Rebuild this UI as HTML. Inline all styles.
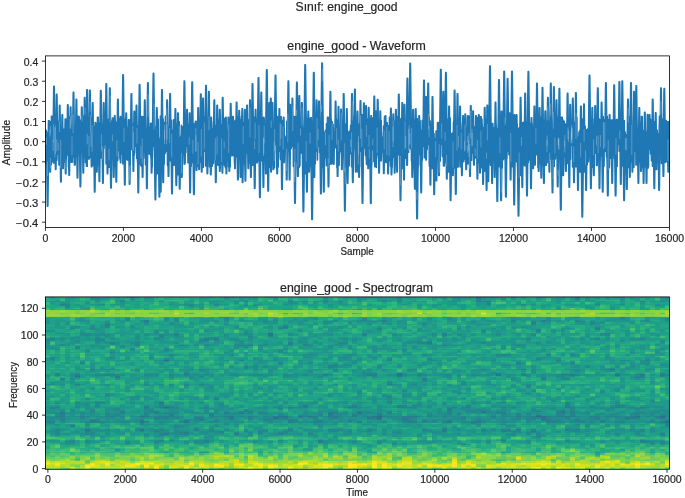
<!DOCTYPE html>
<html><head><meta charset="utf-8"><title>engine_good</title>
<style>html,body{margin:0;padding:0;background:#fff;overflow:hidden} svg{will-change:transform} text{-webkit-font-smoothing:antialiased}</style>
</head><body>
<svg width="685" height="498" viewBox="0 0 685 498" style="display:block"><rect width="685" height="498" fill="#fff"/><g transform="translate(45.4 297.5682) scale(4.95317 1.33643)" stroke-width="1.02" fill="none" shape-rendering="crispEdges"><path stroke="#31688e" d="M67 89h1M99 89h1M124 89h1"/><path stroke="#2e6e8e" d="M125 93h1M46 90h1M67 90h1M51 89h1M119 89h1M57 87h1M24 82h1M71 58h1M24 47h1M87 0h1"/><path stroke="#2b748e" d="M98 100h1M8 99h1M19 99h1M19 93h1M28 93h1M81 93h1M9 92h1M19 92h1M31 91h1M100 90h1M19 89h1M47 89h2M53 89h1M66 89h1M100 89h1M3 87h1M63 87h1M63 86h1M88 86h1M88 85h1M104 85h1M20 82h1M6 59h1M91 58h1M115 58h1M114 54h1M45 28h1M45 27h1M20 18h1M17 0h1M94 0h1M107 0h1"/><path stroke="#297b8e" d="M55 108h1M55 107h1M92 107h1M120 107h1M24 102h1M38 102h1M8 100h1M92 100h1M80 99h1M9 93h1M49 93h1M63 93h1M73 93h1M86 93h2M112 93h1M124 93h1M28 92h1M61 92h1M76 92h1M78 92h1M81 92h1M87 92h1M101 92h1M107 92h1M125 92h1M72 91h1M100 91h1M37 90h1M48 90h1M65 90h1M72 90h1M117 90h1M124 90h1M3 89h1M7 89h1M20 89h1M25 89h1M37 89h1M46 89h1M57 89h2M62 89h1M73 89h2M90 89h1M95 89h1M101 89h1M104 89h1M106 89h1M110 89h1M118 89h1M57 88h1M62 88h1M67 88h1M99 88h1M25 87h1M33 87h1M36 87h1M81 87h1M83 87h1M92 87h1M22 86h1M104 86h1M15 85h1M40 85h1M99 85h1M81 84h1M25 82h1M52 82h1M61 82h1M85 82h1M92 82h1M120 82h1M52 81h1M105 81h1M23 79h1M69 65h1M14 60h1M119 60h1M14 59h1M71 59h1M120 59h1M6 58h1M65 58h2M106 58h1M120 58h1M124 58h1M28 57h1M71 57h1M9 54h1M17 39h1M24 39h1M77 34h1M32 32h1M32 31h1M34 31h1M111 23h1M48 22h1M12 21h1M12 20h1M3 5h1M15 3h1M87 3h1M87 1h1M71 0h1"/><path stroke="#26818e" d="M32 108h1M120 108h1M23 107h1M25 107h1M32 107h1M99 104h1M23 102h1M28 102h1M47 102h1M124 102h1M27 101h2M35 101h1M43 101h1M48 101h1M22 100h1M35 100h1M40 100h1M43 100h1M48 100h1M58 100h1M80 100h1M94 100h1M30 99h1M49 99h1M65 99h1M76 99h1M88 99h1M92 99h2M95 99h1M98 99h1M105 99h1M107 99h1M30 98h1M5 96h1M19 95h1M125 95h1M125 94h1M0 93h2M10 93h1M54 93h2M74 93h1M76 93h1M80 93h1M101 93h2M108 93h1M115 93h2M122 93h1M3 92h1M10 92h1M31 92h1M34 92h1M49 92h2M55 92h1M72 92h2M100 92h1M103 92h1M112 92h1M3 91h1M37 91h1M44 91h2M67 91h1M73 91h1M87 91h1M97 91h1M101 91h1M107 91h1M111 91h1M117 91h1M22 90h1M24 90h1M30 90h2M41 90h1M47 90h1M54 90h1M58 90h1M66 90h1M73 90h1M84 90h1M98 90h1M101 90h1M105 90h1M111 90h1M118 90h2M2 89h1M12 89h2M23 89h2M33 89h1M36 89h1M41 89h1M54 89h1M65 89h1M68 89h2M72 89h1M77 89h1M80 89h1M98 89h1M103 89h1M105 89h1M113 89h3M123 89h1M3 88h1M25 88h1M33 88h1M95 88h1M124 88h1M2 87h1M12 87h1M14 87h1M20 87h1M22 87h1M24 87h1M39 87h1M43 87h2M58 87h1M67 87h1M69 87h1M91 87h1M95 87h1M97 87h1M103 87h2M106 87h1M109 87h1M118 87h2M3 86h1M15 86h1M36 86h1M39 86h1M58 86h1M69 86h1M91 86h2M106 86h1M9 85h1M21 85h2M41 85h1M63 85h1M81 85h1M85 85h2M91 85h1M103 85h1M106 85h1M123 85h1M14 84h1M1 83h1M20 83h1M24 83h1M47 83h1M81 83h1M106 83h1M1 82h2M23 82h1M26 82h1M49 82h1M62 82h1M71 82h2M82 82h1M84 82h1M94 82h1M105 82h2M110 82h1M114 82h2M118 82h1M10 81h1M62 81h1M71 81h1M85 81h1M115 81h2M23 80h1M105 80h1M34 76h1M69 74h1M97 72h1M97 66h1M6 65h1M20 65h1M31 65h1M76 62h1M3 61h1M76 61h1M100 61h1M6 60h1M2 58h1M12 58h1M28 58h1M56 58h1M75 58h1M96 58h1M104 58h1M65 57h1M90 57h2M31 54h1M88 54h1M96 54h1M113 54h1M40 52h1M57 52h1M58 51h1M95 50h1M95 49h1M39 47h1M69 47h1M103 47h1M121 47h1M13 45h1M21 45h1M66 45h1M92 43h1M106 43h1M13 41h1M18 36h1M27 36h1M39 36h1M41 36h1M80 36h1M95 36h1M49 35h1M52 35h1M13 34h1M49 34h1M0 32h1M11 32h1M1 31h1M10 31h1M111 31h1M23 29h1M26 28h1M64 28h1M80 28h1M40 27h1M64 27h1M80 27h1M113 27h1M99 25h1M111 24h1M67 23h1M76 20h1M98 19h1M68 18h1M94 18h1M100 18h1M107 18h1M20 17h1M64 17h1M68 17h1M94 17h1M100 17h1M116 15h1M4 6h1M29 6h1M40 3h1M56 3h1M89 3h1M107 1h1M36 0h1M88 0h1M90 0h1M99 0h2M113 0h1M115 0h2"/><path stroke="#24878e" d="M84 110h1M16 109h1M70 109h1M124 109h1M5 108h1M8 108h1M16 108h1M22 108h1M30 108h1M62 108h1M67 108h1M121 108h2M124 108h1M5 107h1M47 107h1M105 107h1M23 103h1M75 103h1M124 103h1M2 102h1M8 102h2M27 102h1M43 102h1M53 102h1M94 102h1M97 102h1M99 102h1M115 102h1M2 101h1M8 101h2M24 101h1M26 101h1M47 101h1M70 101h2M78 101h1M97 101h3M119 101h1M2 100h1M19 100h1M26 100h1M33 100h2M44 100h1M57 100h1M61 100h1M65 100h1M88 100h1M93 100h1M95 100h1M106 100h2M119 100h2M122 100h1M2 99h1M12 99h1M18 99h1M22 99h2M33 99h1M57 99h3M90 99h1M106 99h1M118 99h1M120 99h1M80 98h1M26 97h2M26 96h1M125 96h1M36 95h1M87 95h1M92 95h1M107 95h1M19 94h1M86 94h1M8 93h1M11 93h1M15 93h2M20 93h1M23 93h1M27 93h1M33 93h2M45 93h1M50 93h1M61 93h1M68 93h1M72 93h1M78 93h1M84 93h2M88 93h1M92 93h1M97 93h1M103 93h2M106 93h2M110 93h1M18 92h1M44 92h2M74 92h1M97 92h1M102 92h1M106 92h1M122 92h1M10 91h1M22 91h1M30 91h1M41 91h1M46 91h1M48 91h3M54 91h1M84 91h1M92 91h1M94 91h2M98 91h1M103 91h1M1 90h1M3 90h1M7 90h1M23 90h1M26 90h1M57 90h1M74 90h1M90 90h1M95 90h1M97 90h1M99 90h1M110 90h1M115 90h1M123 90h1M8 89h1M15 89h1M22 89h1M26 89h1M30 89h1M34 89h1M39 89h1M42 89h1M44 89h1M52 89h1M59 89h1M64 89h1M70 89h2M75 89h1M78 89h1M82 89h1M84 89h1M92 89h2M96 89h2M102 89h1M107 89h1M111 89h1M116 89h1M121 89h1M125 89h1M12 88h1M14 88h1M20 88h1M47 88h1M51 88h1M55 88h1M77 88h1M92 88h1M103 88h2M106 88h1M114 88h1M119 88h1M7 87h1M15 87h1M30 87h1M32 87h1M37 87h2M41 87h1M47 87h1M52 87h1M55 87h1M59 87h2M62 87h1M64 87h2M77 87h1M80 87h1M108 87h1M112 87h1M115 87h1M120 87h1M122 87h1M20 86h1M26 86h1M41 86h1M43 86h1M57 86h1M60 86h1M65 86h1M81 86h1M86 86h1M103 86h1M109 86h1M120 86h1M3 85h1M5 85h1M28 85h2M34 85h1M39 85h1M55 85h1M58 85h1M69 85h1M79 85h1M87 85h1M89 85h2M92 85h1M98 85h1M125 85h1M9 84h1M21 84h1M40 84h1M47 84h1M85 84h1M87 84h2M98 84h1M104 84h1M113 84h1M14 83h1M25 83h2M32 83h1M44 83h1M49 83h1M84 83h1M92 83h1M102 83h1M112 83h1M114 83h1M118 83h3M6 82h1M32 82h1M44 82h1M46 82h2M50 82h2M63 82h1M73 82h2M81 82h1M112 82h1M116 82h1M121 82h1M20 81h1M23 81h1M72 81h1M74 81h2M35 80h1M75 80h1M6 79h1M10 79h2M69 79h1M105 79h1M69 78h1M102 77h1M17 75h1M34 75h1M69 75h1M18 74h1M68 74h1M72 74h1M107 74h1M12 73h1M53 72h1M76 72h1M83 72h1M72 70h1M115 69h1M43 68h1M97 67h1M25 66h1M28 66h1M31 66h1M81 66h1M1 65h1M28 65h1M74 65h1M84 65h1M69 64h1M84 64h1M94 61h1M104 61h2M25 60h1M29 60h1M100 60h1M104 60h1M120 60h1M31 59h1M55 59h1M66 59h1M103 59h2M119 59h1M124 59h1M10 58h2M13 58h2M20 58h1M22 58h1M25 58h1M38 58h1M42 58h2M48 58h1M52 58h1M64 58h1M72 58h1M76 58h1M81 58h1M83 58h1M86 58h1M97 58h1M105 58h1M107 58h1M125 58h1M2 57h1M64 57h1M66 57h1M115 57h1M124 57h1M58 55h1M107 55h1M11 54h1M13 54h1M18 54h1M29 54h1M32 54h1M42 54h1M58 54h1M65 54h1M68 54h1M73 54h2M98 54h1M107 54h1M122 54h1M40 53h1M42 52h1M44 52h1M58 52h1M67 52h1M109 52h1M57 51h1M58 50h1M121 50h1M7 49h1M47 49h1M106 49h1M46 47h1M77 47h2M90 47h1M116 47h1M1 46h1M24 46h1M69 46h1M77 46h1M99 46h1M1 45h1M53 45h1M60 45h1M113 45h1M25 43h1M37 43h1M61 43h1M76 43h1M91 43h1M93 43h1M101 43h1M47 41h1M118 41h1M47 40h1M2 39h1M43 39h1M70 39h1M72 39h1M124 39h1M6 38h1M6 37h1M3 36h1M32 36h1M38 36h1M40 36h1M43 36h1M52 36h2M72 36h1M96 36h1M18 35h1M44 35h1M77 35h1M18 34h1M59 34h2M75 34h2M88 34h1M0 33h1M6 33h1M10 33h1M31 33h1M39 33h1M74 33h2M77 33h1M101 33h1M124 33h1M31 32h1M34 32h1M38 32h1M11 31h1M22 31h1M33 31h1M60 31h1M97 31h1M120 31h1M6 30h1M23 30h1M41 30h1M41 29h1M45 29h1M8 28h1M23 28h1M83 28h1M98 28h1M113 28h1M7 27h1M11 27h1M22 27h1M26 27h1M49 27h1M78 27h1M112 27h1M88 25h1M67 24h1M99 24h1M5 23h1M9 23h1M47 23h2M83 23h1M12 22h1M25 20h1M98 20h1M110 20h1M110 19h1M0 18h1M44 18h1M57 18h1M63 18h1M66 18h1M86 18h1M98 18h1M121 18h1M16 17h1M26 17h1M36 17h1M46 17h1M52 17h1M58 17h1M101 17h1M107 17h1M16 16h1M36 16h1M64 16h1M81 16h1M116 16h1M125 16h1M36 15h1M53 15h1M107 15h1M3 6h1M40 6h1M4 5h1M34 5h1M89 5h1M96 5h1M111 5h1M89 4h1M49 3h1M59 3h1M68 3h1M71 3h1M88 3h1M120 3h1M124 3h1M68 2h1M87 2h1M9 1h2M17 1h1M71 1h1M92 1h1M1 0h1M12 0h1M37 0h1M42 0h1M46 0h1M65 0h1M91 0h1M104 0h1"/><path stroke="#228d8d" d="M70 110h1M124 110h1M4 109h1M56 109h1M72 109h1M84 109h1M122 109h1M4 108h1M23 108h1M28 108h1M31 108h1M42 108h1M45 108h1M56 108h1M77 108h2M89 108h1M97 108h1M105 108h1M112 108h1M8 107h1M11 107h1M22 107h1M30 107h2M33 107h1M57 107h1M68 107h1M76 107h1M97 107h1M121 107h1M92 106h1M11 104h1M22 104h1M33 104h1M54 104h1M58 104h1M75 104h1M20 103h1M41 103h1M93 103h2M99 103h2M115 103h1M120 103h1M4 102h1M7 102h1M12 102h1M20 102h1M25 102h2M32 102h1M41 102h1M46 102h1M48 102h1M51 102h1M60 102h2M68 102h1M71 102h1M83 102h1M93 102h1M119 102h1M6 101h1M15 101h1M22 101h2M31 101h2M34 101h1M38 101h1M41 101h1M53 101h1M61 101h1M68 101h1M79 101h1M86 101h1M94 101h2M108 101h1M113 101h1M1 100h1M6 100h1M9 100h3M14 100h1M23 100h2M27 100h2M31 100h2M49 100h1M54 100h1M60 100h1M64 100h1M68 100h1M70 100h2M76 100h4M86 100h1M89 100h1M99 100h1M103 100h1M108 100h2M113 100h1M118 100h1M9 99h2M21 99h1M26 99h1M36 99h1M40 99h1M43 99h2M52 99h1M61 99h1M66 99h1M68 99h1M77 99h1M83 99h1M109 99h1M115 99h2M122 99h1M18 98h2M49 98h1M83 98h1M105 98h1M33 97h1M42 97h1M82 97h1M27 96h1M34 96h1M55 96h1M93 96h1M109 96h1M2 95h1M8 95h1M28 95h1M38 95h1M54 95h2M58 95h1M64 95h1M75 95h1M109 95h1M113 95h1M1 94h1M36 94h1M54 94h1M3 93h1M12 93h1M14 93h1M18 93h1M24 93h1M30 93h1M38 93h2M51 93h3M56 93h1M58 93h1M65 93h1M67 93h1M77 93h1M91 93h1M93 93h2M109 93h1M113 93h1M118 93h1M121 93h1M123 93h1M0 92h2M14 92h1M29 92h2M54 92h1M59 92h1M62 92h1M71 92h1M80 92h1M83 92h1M88 92h1M91 92h2M94 92h1M108 92h1M110 92h1M113 92h1M116 92h1M0 91h2M9 91h1M12 91h1M14 91h1M18 91h2M23 91h2M28 91h2M34 91h1M47 91h1M55 91h1M57 91h1M59 91h1M61 91h2M65 91h2M71 91h1M74 91h1M76 91h1M79 91h1M81 91h3M86 91h1M89 91h1M91 91h1M102 91h1M105 91h1M109 91h2M113 91h1M116 91h1M125 91h1M0 90h1M2 90h1M12 90h2M15 90h1M19 90h1M25 90h1M33 90h1M36 90h1M44 90h2M51 90h1M53 90h1M59 90h1M69 90h3M80 90h1M82 90h2M87 90h1M92 90h1M94 90h1M102 90h3M107 90h1M113 90h1M116 90h1M0 89h1M5 89h2M10 89h2M14 89h1M17 89h2M21 89h1M27 89h1M31 89h1M35 89h1M38 89h1M45 89h1M49 89h1M55 89h2M60 89h2M79 89h1M81 89h1M83 89h1M94 89h1M108 89h2M112 89h1M117 89h1M122 89h1M2 88h1M7 88h1M13 88h1M19 88h1M36 88h2M48 88h1M52 88h1M58 88h2M63 88h2M68 88h1M80 88h2M83 88h1M90 88h1M93 88h1M97 88h1M111 88h1M113 88h1M118 88h1M122 88h1M125 88h1M4 87h2M8 87h2M13 87h1M23 87h1M26 87h1M34 87h1M40 87h1M54 87h1M66 87h1M79 87h1M87 87h4M93 87h1M99 87h1M111 87h1M114 87h1M121 87h1M124 87h2M1 86h1M7 86h1M9 86h1M21 86h1M24 86h2M29 86h2M32 86h1M34 86h1M44 86h1M52 86h1M55 86h1M64 86h1M79 86h1M85 86h1M89 86h2M116 86h1M119 86h1M122 86h2M125 86h1M0 85h1M12 85h1M14 85h1M17 85h2M20 85h1M25 85h2M32 85h1M36 85h1M43 85h1M52 85h1M56 85h2M64 85h2M67 85h1M71 85h1M76 85h1M105 85h1M107 85h1M109 85h1M113 85h1M116 85h1M119 85h2M122 85h1M124 85h1M3 84h1M5 84h1M12 84h2M20 84h1M25 84h1M32 84h1M34 84h2M37 84h1M67 84h1M84 84h1M86 84h1M89 84h1M92 84h1M102 84h1M106 84h1M114 84h1M119 84h1M124 84h1M2 83h1M8 83h1M12 83h2M21 83h1M31 83h1M33 83h1M35 83h1M37 83h1M63 83h1M74 83h1M82 83h1M85 83h1M88 83h1M94 83h1M98 83h1M111 83h1M113 83h1M0 82h1M8 82h1M10 82h1M22 82h1M35 82h1M43 82h1M55 82h2M60 82h1M65 82h1M67 82h1M77 82h1M90 82h1M100 82h3M108 82h1M111 82h1M113 82h1M117 82h1M123 82h2M6 81h1M8 81h1M24 81h2M32 81h1M35 81h1M39 81h1M47 81h1M51 81h1M67 81h1M77 81h1M90 81h1M110 81h1M114 81h1M8 80h1M10 80h1M52 80h1M115 80h1M2 79h1M8 79h1M17 79h1M31 79h1M35 79h1M48 79h1M51 79h1M53 79h2M60 79h1M63 79h1M75 79h1M80 79h1M86 79h1M89 79h1M92 79h1M95 79h1M115 79h1M46 78h1M48 78h1M66 78h1M72 78h1M89 78h1M102 78h1M122 78h1M66 77h1M109 77h1M122 77h1M8 76h1M17 76h1M30 76h1M55 76h1M66 76h1M69 76h1M90 76h1M92 76h1M18 75h1M30 75h1M32 75h1M92 75h1M12 74h1M20 74h1M28 74h1M32 74h1M36 74h1M57 74h1M73 74h1M75 74h1M92 74h1M111 74h1M57 73h1M68 73h1M72 73h1M76 73h1M12 72h1M35 72h3M41 72h1M46 72h1M63 72h1M89 72h1M63 71h1M83 71h1M112 71h1M63 70h1M82 70h1M98 70h1M112 70h1M115 70h1M50 69h1M67 69h1M85 69h1M103 69h1M109 69h1M9 68h1M33 68h1M54 68h1M75 68h1M85 68h1M103 68h1M115 68h1M33 67h1M116 67h1M6 66h1M12 66h1M20 66h1M23 66h1M62 66h1M71 66h1M74 66h1M83 66h1M90 66h1M94 66h1M0 65h1M3 65h1M23 65h1M25 65h1M32 65h1M55 65h1M58 65h1M70 65h1M73 65h1M76 65h1M78 65h1M89 65h1M97 65h1M69 63h1M76 63h1M84 63h1M89 63h1M95 63h1M5 61h1M14 61h1M119 61h1M31 60h1M48 60h1M55 60h1M81 60h1M94 60h1M105 60h1M118 60h1M25 59h1M29 59h1M33 59h1M44 59h1M48 59h2M75 59h1M80 59h2M93 59h1M97 59h1M100 59h1M106 59h1M5 58h1M15 58h1M21 58h1M29 58h5M37 58h1M41 58h1M44 58h2M49 58h2M55 58h1M57 58h1M69 58h2M80 58h1M87 58h1M89 58h1M93 58h1M100 58h1M103 58h1M119 58h1M32 57h1M37 57h1M45 57h1M72 57h1M75 57h1M96 57h1M28 56h1M53 56h1M64 56h1M90 56h1M98 56h1M9 55h1M31 55h1M45 55h1M53 55h1M73 55h1M83 55h1M98 55h1M114 55h1M7 54h1M12 54h1M24 54h2M27 54h2M45 54h1M89 54h1M106 54h1M108 54h1M112 54h1M116 54h2M121 54h1M42 53h1M114 53h1M117 53h1M37 52h1M98 52h1M107 52h1M112 52h1M115 52h1M118 52h1M42 51h1M60 51h2M67 51h1M71 51h1M75 51h1M92 51h2M107 51h1M109 51h1M118 51h1M124 51h2M17 50h1M47 50h1M60 50h1M76 50h1M92 50h1M106 50h1M118 50h1M124 50h1M53 49h1M62 49h1M120 49h2M24 48h1M44 48h1M62 48h1M103 48h1M1 47h1M15 47h1M23 47h1M43 47h1M51 47h1M59 47h1M62 47h2M81 47h1M99 47h1M114 47h1M117 47h1M42 46h1M46 46h1M59 46h2M63 46h1M103 46h1M121 46h1M16 45h1M52 45h1M57 45h1M59 45h1M61 45h1M65 45h1M88 45h1M99 45h2M60 44h2M91 44h2M52 43h3M60 43h1M62 43h1M77 43h1M104 43h1M36 41h1M44 41h1M48 41h1M123 41h1M8 40h1M24 40h1M66 40h1M72 40h1M8 39h1M48 39h1M55 39h2M66 39h2M69 39h1M94 39h1M100 39h1M108 39h1M1 38h1M17 38h1M24 38h1M61 38h1M66 38h1M92 38h1M124 38h1M0 37h1M15 37h1M38 37h1M40 37h1M57 37h1M61 37h1M66 37h1M74 37h1M92 37h1M0 36h1M9 36h1M15 36h1M28 36h1M30 36h1M44 36h1M49 36h1M57 36h3M68 36h1M81 36h2M89 36h1M92 36h1M115 36h1M3 35h1M13 35h1M38 35h2M41 35h1M59 35h1M94 35h1M96 35h1M0 34h1M10 34h1M14 34h1M17 34h1M26 34h1M39 34h1M52 34h1M73 34h1M99 34h1M11 33h1M16 33h1M18 33h1M23 33h1M32 33h1M34 33h1M51 33h1M54 33h1M62 33h1M73 33h1M86 33h1M88 33h1M116 33h1M1 32h1M6 32h1M10 32h1M62 32h1M67 32h1M71 32h1M80 32h1M86 32h1M97 32h1M116 32h1M124 32h1M0 31h1M3 31h1M5 31h1M13 31h1M18 31h1M31 31h1M37 31h2M41 31h1M49 31h1M52 31h1M62 31h1M82 31h1M108 31h1M110 31h1M113 31h1M118 31h2M5 30h1M10 30h1M18 30h1M22 30h1M33 30h2M36 30h1M52 30h1M76 30h1M12 29h1M18 29h1M26 29h1M84 29h1M109 29h1M7 28h1M10 28h3M20 28h1M36 28h1M41 28h1M49 28h1M57 28h1M70 28h1M78 28h1M91 28h1M112 28h1M8 27h2M24 27h1M41 27h1M56 27h2M60 27h1M70 27h1M91 27h1M95 27h1M98 27h1M40 26h1M0 25h1M22 25h1M51 25h1M65 25h1M102 25h1M104 25h1M9 24h1M75 24h1M83 24h1M88 24h1M90 23h1M105 23h1M5 22h2M9 22h1M17 22h1M38 22h1M47 22h1M59 22h1M85 22h1M96 22h1M111 22h1M48 21h1M2 20h1M20 20h1M36 20h1M51 20h1M65 20h1M69 20h1M72 20h1M87 20h1M12 19h1M20 19h1M25 19h1M56 19h1M61 19h1M76 19h1M86 19h1M108 19h1M34 18h1M46 18h1M49 18h1M56 18h1M58 18h1M65 18h1M71 18h1M90 18h1M101 18h1M103 18h1M108 18h1M110 18h1M112 18h1M7 17h1M24 17h1M39 17h1M44 17h1M63 17h1M67 17h1M81 17h2M89 17h1M103 17h1M113 17h1M117 17h1M121 17h1M125 17h1M24 16h1M26 16h1M54 16h1M77 16h1M94 16h1M101 16h1M35 15h1M80 15h2M94 15h1M106 15h1M4 7h1M34 6h1M42 6h1M57 6h1M75 6h1M78 6h1M89 6h1M96 6h1M123 6h1M11 5h1M28 5h2M48 5h1M98 5h1M116 5h1M49 4h1M10 3h1M33 3h1M38 3h1M52 3h1M63 3h1M82 3h1M15 2h1M63 2h1M71 2h1M11 1h1M56 1h1M63 1h2M67 1h1M83 1h1M109 1h1M116 1h1M125 1h1M5 0h1M9 0h2M14 0h1M16 0h1M18 0h1M20 0h1M40 0h2M45 0h1M64 0h1M66 0h2M73 0h1M78 0h2M82 0h2M85 0h1M96 0h1M106 0h1M109 0h1M111 0h1M124 0h2"/><path stroke="#20938c" d="M65 111h1M64 110h1M72 110h1M108 110h1M122 110h1M5 109h1M22 109h1M28 109h1M30 109h2M62 109h1M67 109h1M77 109h1M83 109h1M125 109h1M9 108h2M47 108h1M57 108h1M61 108h1M70 108h1M75 108h2M79 108h1M81 108h1M83 108h1M87 108h1M92 108h1M95 108h2M106 108h2M115 108h1M123 108h1M0 107h2M9 107h1M16 107h1M21 107h1M26 107h1M35 107h1M40 107h1M42 107h2M56 107h1M58 107h2M62 107h1M67 107h1M75 107h1M78 107h2M86 107h2M89 107h1M99 107h1M112 107h1M114 107h2M118 107h1M122 107h3M32 106h1M57 106h1M32 105h1M99 105h1M9 104h1M20 104h1M23 104h1M26 104h1M32 104h1M40 104h1M44 104h1M70 104h1M98 104h1M2 103h1M9 103h1M22 103h1M24 103h1M26 103h1M28 103h1M33 103h1M38 103h1M53 103h2M70 103h1M109 103h1M119 103h1M1 102h1M15 102h1M17 102h1M22 102h1M29 102h1M31 102h1M34 102h2M45 102h1M49 102h2M65 102h1M70 102h1M75 102h1M78 102h3M82 102h1M85 102h1M88 102h1M100 102h1M109 102h1M113 102h1M1 101h1M5 101h1M12 101h1M14 101h1M25 101h1M29 101h1M33 101h1M40 101h1M46 101h1M50 101h1M57 101h2M60 101h1M65 101h1M76 101h1M80 101h1M88 101h2M92 101h1M103 101h1M105 101h1M107 101h1M115 101h2M122 101h1M124 101h1M0 100h1M5 100h1M12 100h2M16 100h1M18 100h1M21 100h1M41 100h1M47 100h1M50 100h1M53 100h1M55 100h1M63 100h1M85 100h1M90 100h1M97 100h1M105 100h1M114 100h4M1 99h1M3 99h1M7 99h1M11 99h1M14 99h1M16 99h1M20 99h1M24 99h1M27 99h2M48 99h1M53 99h3M60 99h1M63 99h1M71 99h1M82 99h1M86 99h1M89 99h1M100 99h1M110 99h1M114 99h1M119 99h1M2 98h1M8 98h1M21 98h1M23 98h1M26 98h1M33 98h1M42 98h1M51 98h1M59 98h1M65 98h1M76 98h1M82 98h1M90 98h1M95 98h1M106 98h2M116 98h1M118 98h1M122 98h1M5 97h1M30 97h1M43 97h1M51 97h1M55 97h1M69 97h1M80 97h1M105 97h2M122 97h1M124 97h2M8 96h1M28 96h1M75 96h1M87 96h1M94 96h1M107 96h1M113 96h1M115 96h1M118 96h1M0 95h2M5 95h1M20 95h4M26 95h1M29 95h1M34 95h1M48 95h1M56 95h2M65 95h2M73 95h1M102 95h1M115 95h1M118 95h1M0 94h1M8 94h1M23 94h1M55 94h1M58 94h1M87 94h1M92 94h1M124 94h1M7 93h1M13 93h1M17 93h1M22 93h1M25 93h1M29 93h1M32 93h1M36 93h2M44 93h1M46 93h2M57 93h1M59 93h2M62 93h1M71 93h1M83 93h1M89 93h2M98 93h2M105 93h1M111 93h1M114 93h1M117 93h1M119 93h2M7 92h1M12 92h1M15 92h3M23 92h2M27 92h1M37 92h2M41 92h1M47 92h1M52 92h1M57 92h1M60 92h1M63 92h1M66 92h2M77 92h1M79 92h1M82 92h1M84 92h1M86 92h1M89 92h1M93 92h1M95 92h1M98 92h1M104 92h2M109 92h1M111 92h1M115 92h1M119 92h2M124 92h1M2 91h1M4 91h1M7 91h1M15 91h1M17 91h1M25 91h1M32 91h1M35 91h2M38 91h1M43 91h1M52 91h1M56 91h1M58 91h1M60 91h1M70 91h1M77 91h2M80 91h1M88 91h1M93 91h1M104 91h1M106 91h1M108 91h1M112 91h1M115 91h1M118 91h2M122 91h1M124 91h1M4 90h1M8 90h1M10 90h2M18 90h1M20 90h1M27 90h1M34 90h1M38 90h1M40 90h1M42 90h2M49 90h1M56 90h1M61 90h4M77 90h1M81 90h1M86 90h1M88 90h2M91 90h1M96 90h1M108 90h2M112 90h1M125 90h1M4 89h1M9 89h1M40 89h1M43 89h1M63 89h1M76 89h1M85 89h1M87 89h1M89 89h1M91 89h1M120 89h1M5 88h1M9 88h1M15 88h1M23 88h2M35 88h1M38 88h2M41 88h1M44 88h2M53 88h2M60 88h1M66 88h1M69 88h1M71 88h1M73 88h2M78 88h2M109 88h1M112 88h1M115 88h1M121 88h1M0 87h2M6 87h1M10 87h1M16 87h1M21 87h1M29 87h1M31 87h1M35 87h1M45 87h2M48 87h1M53 87h1M71 87h1M85 87h1M94 87h1M98 87h1M105 87h1M107 87h1M113 87h1M116 87h1M123 87h1M0 86h1M5 86h2M8 86h1M12 86h1M18 86h1M23 86h1M28 86h1M38 86h1M40 86h1M54 86h1M66 86h2M77 86h1M80 86h1M83 86h1M87 86h1M97 86h3M105 86h1M107 86h2M115 86h1M1 85h1M7 85h1M13 85h1M42 85h1M50 85h1M60 85h1M62 85h1M66 85h1M68 85h1M78 85h1M82 85h1M84 85h1M93 85h1M96 85h1M100 85h1M110 85h1M114 85h1M121 85h1M0 84h3M8 84h1M15 84h1M26 84h4M36 84h1M41 84h1M57 84h1M79 84h1M83 84h1M91 84h1M93 84h1M99 84h1M103 84h1M110 84h1M123 84h1M125 84h1M0 83h1M23 83h1M27 83h1M34 83h1M36 83h1M42 83h2M50 83h3M56 83h1M61 83h2M67 83h1M73 83h1M79 83h1M83 83h1M86 83h2M89 83h1M100 83h2M105 83h1M108 83h1M110 83h1M117 83h1M121 83h1M124 83h1M12 82h5M29 82h1M31 82h1M36 82h1M38 82h2M42 82h1M48 82h1M64 82h1M68 82h1M70 82h1M75 82h1M88 82h1M91 82h1M93 82h1M95 82h1M98 82h2M103 82h2M107 82h1M109 82h1M119 82h1M122 82h1M2 81h1M7 81h1M15 81h1M22 81h1M26 81h1M36 81h1M44 81h1M55 81h2M58 81h1M60 81h2M63 81h1M80 81h1M82 81h1M91 81h4M106 81h1M117 81h1M121 81h4M6 80h2M26 80h1M51 80h1M53 80h1M58 80h1M62 80h1M78 80h1M80 80h1M7 79h1M19 79h1M22 79h1M26 79h2M29 79h1M34 79h1M44 79h3M58 79h2M66 79h1M72 79h1M78 79h1M87 79h1M91 79h1M96 79h1M111 79h2M122 79h1M10 78h2M23 78h1M54 78h1M60 78h1M77 78h1M86 78h1M92 78h1M115 78h1M125 78h1M46 77h1M55 77h1M69 77h1M77 77h1M15 76h1M18 76h1M20 76h2M27 76h1M29 76h1M32 76h1M38 76h1M45 76h1M49 76h1M65 76h1M75 76h1M81 76h1M84 76h1M101 76h3M105 76h1M109 76h2M114 76h1M118 76h2M20 75h1M29 75h1M36 75h1M42 75h1M62 75h1M66 75h1M72 75h1M75 75h1M93 75h1M101 75h1M103 75h1M105 75h2M110 75h1M114 75h1M0 74h2M4 74h1M17 74h1M29 74h1M35 74h1M43 74h1M48 74h1M50 74h1M63 74h1M66 74h1M93 74h1M13 73h1M35 73h2M41 73h1M44 73h1M63 73h1M73 73h1M99 73h1M7 72h1M21 72h2M44 72h1M47 72h1M58 72h2M67 72h1M72 72h2M84 72h1M99 72h1M112 72h1M37 71h1M53 71h1M82 71h1M0 70h1M16 70h1M33 70h1M45 70h1M50 70h1M75 70h1M83 70h1M95 70h2M118 70h1M120 70h1M122 70h1M9 69h1M27 69h1M32 69h2M43 69h1M45 69h1M54 69h1M60 69h1M72 69h1M75 69h1M80 69h1M83 69h1M95 69h2M125 69h1M16 68h1M32 68h1M45 68h1M50 68h1M67 68h1M73 68h1M80 68h1M83 68h1M93 68h1M95 68h1M125 68h1M16 67h1M28 67h1M45 67h1M73 67h1M75 67h1M83 67h1M94 67h1M17 66h1M32 66h2M42 66h1M55 66h1M69 66h2M73 66h1M108 66h1M116 66h1M7 65h1M12 65h1M17 65h1M22 65h1M42 65h1M44 65h1M49 65h1M53 65h1M62 65h1M71 65h1M81 65h1M86 65h1M90 65h1M96 65h1M114 65h1M1 64h1M5 64h1M20 64h1M53 64h1M74 64h1M89 64h1M122 64h1M5 63h1M16 63h1M50 63h1M83 63h1M116 63h1M122 63h1M3 62h1M18 61h1M29 61h2M61 61h1M116 61h1M5 60h1M18 60h1M20 60h1M49 60h2M71 60h1M76 60h1M80 60h1M83 60h1M103 60h1M122 60h1M0 59h1M5 59h1M7 59h1M10 59h1M13 59h1M17 59h1M20 59h3M28 59h1M50 59h1M56 59h1M64 59h1M72 59h1M83 59h1M86 59h1M99 59h1M115 59h1M118 59h1M125 59h1M0 58h1M9 58h1M17 58h1M26 58h2M35 58h1M39 58h1M51 58h1M53 58h2M60 58h1M63 58h1M73 58h2M77 58h3M85 58h1M88 58h1M90 58h1M94 58h1M99 58h1M101 58h2M109 58h1M111 58h2M116 58h2M122 58h1M5 57h2M10 57h1M12 57h2M20 57h3M25 57h1M30 57h1M36 57h1M38 57h1M42 57h1M50 57h1M52 57h2M56 57h1M76 57h1M78 57h2M86 57h2M89 57h1M98 57h1M106 57h2M111 57h1M125 57h1M32 56h1M36 56h1M45 56h1M62 56h1M65 56h1M82 56h1M87 56h1M12 55h1M18 55h1M23 55h1M25 55h1M28 55h1M32 55h1M36 55h1M62 55h1M64 55h2M68 55h1M74 55h1M82 55h1M86 55h3M96 55h1M106 55h1M113 55h1M116 55h1M121 55h1M6 54h1M33 54h2M36 54h1M38 54h3M43 54h1M46 54h1M50 54h1M53 54h3M62 54h2M77 54h2M82 54h2M86 54h2M91 54h1M93 54h1M95 54h1M105 54h1M119 54h1M6 53h1M9 53h1M11 53h1M13 53h1M29 53h1M46 53h1M57 53h1M63 53h1M67 53h1M98 53h1M112 53h1M6 52h1M9 52h1M28 52h1M41 52h1M45 52h2M50 52h1M59 52h2M63 52h1M71 52h1M95 52h1M106 52h1M9 51h1M44 51h1M51 51h1M59 51h1M79 51h1M95 51h1M106 51h1M115 51h1M9 50h1M23 50h1M35 50h1M42 50h1M51 50h1M55 50h1M57 50h1M61 50h1M71 50h1M75 50h1M79 50h1M93 50h1M104 50h1M125 50h1M4 49h1M23 49h1M28 49h1M38 49h1M43 49h1M51 49h1M56 49h1M76 49h2M79 49h1M85 49h1M114 49h1M116 49h1M118 49h1M7 48h1M43 48h1M47 48h1M53 48h1M86 48h1M95 48h1M114 48h1M116 48h1M120 48h2M0 47h1M14 47h1M22 47h1M25 47h2M29 47h1M35 47h2M42 47h1M44 47h2M47 47h1M56 47h1M60 47h2M79 47h1M85 47h1M88 47h2M94 47h1M98 47h1M120 47h1M123 47h1M0 46h1M12 46h2M16 46h1M21 46h1M25 46h1M35 46h1M39 46h1M43 46h1M56 46h1M61 46h1M66 46h1M82 46h1M88 46h1M90 46h1M100 46h1M113 46h2M123 46h1M2 45h1M4 45h1M6 45h1M12 45h1M25 45h1M30 45h1M35 45h1M42 45h1M46 45h1M63 45h1M69 45h1M94 45h1M97 45h1M101 45h2M121 45h1M21 44h1M25 44h1M52 44h1M65 44h1M71 44h1M93 44h1M101 44h1M113 44h1M21 43h1M26 43h1M29 43h1M45 43h1M65 43h1M67 43h1M70 43h1M72 43h2M81 43h1M86 43h1M107 43h1M113 43h1M117 43h1M122 43h1M13 42h1M40 42h1M48 42h1M53 42h2M73 42h1M106 42h1M123 42h2M8 41h1M14 41h1M16 41h1M23 41h1M50 41h1M56 41h2M66 41h1M89 41h1M96 41h1M99 41h1M13 40h1M37 40h1M83 40h1M100 40h1M123 40h1M21 39h2M25 39h1M33 39h1M37 39h1M47 39h1M54 39h1M62 39h1M68 39h1M75 39h1M78 39h1M83 39h1M90 39h1M102 39h1M112 39h1M120 39h1M123 39h1M2 38h1M11 38h1M38 38h1M48 38h1M57 38h1M67 38h2M74 38h1M78 38h1M94 38h1M112 38h1M120 38h1M1 37h1M9 37h1M11 37h1M43 37h1M53 37h1M65 37h1M68 37h1M78 37h1M96 37h1M113 37h1M115 37h1M120 37h1M2 36h1M4 36h1M10 36h1M33 36h1M48 36h1M61 36h1M74 36h1M78 36h2M83 36h2M94 36h1M101 36h1M120 36h2M123 36h1M4 35h1M14 35h1M17 35h1M30 35h1M32 35h2M53 35h1M55 35h1M58 35h1M60 35h1M72 35h1M80 35h2M89 35h2M95 35h1M99 35h1M111 35h1M123 35h1M5 34h1M12 34h1M31 34h1M34 34h1M44 34h1M47 34h1M51 34h1M54 34h2M72 34h1M74 34h1M85 34h1M87 34h1M89 34h2M94 34h1M101 34h1M108 34h1M124 34h1M5 33h1M12 33h1M17 33h1M24 33h1M26 33h1M44 33h1M49 33h1M52 33h1M58 33h1M60 33h1M67 33h1M76 33h1M80 33h1M82 33h1M87 33h1M90 33h2M93 33h2M97 33h1M105 33h1M108 33h1M112 33h1M3 32h1M5 32h1M23 32h1M39 32h1M41 32h1M49 32h1M51 32h2M57 32h2M60 32h1M75 32h1M77 32h1M79 32h1M82 32h2M94 32h1M105 32h1M108 32h1M112 32h2M118 32h3M2 31h1M6 31h1M8 31h1M23 31h1M51 31h1M57 31h1M59 31h1M63 31h1M68 31h1M71 31h1M75 31h1M80 31h1M84 31h1M94 31h1M96 31h1M102 31h1M106 31h1M116 31h1M3 30h1M12 30h2M26 30h2M42 30h1M46 30h1M55 30h1M60 30h1M75 30h1M84 30h1M97 30h1M101 30h1M103 30h1M108 30h1M111 30h1M113 30h1M118 30h1M120 30h2M8 29h1M10 29h1M27 29h1M36 29h1M53 29h2M76 29h1M80 29h1M9 28h1M18 28h1M24 28h2M40 28h1M54 28h1M56 28h1M71 28h1M84 28h1M86 28h1M95 28h1M104 28h1M109 28h1M117 28h1M123 28h1M2 27h3M10 27h1M14 27h3M20 27h1M39 27h1M43 27h1M53 27h1M55 27h1M69 27h1M74 27h1M82 27h3M86 27h1M88 27h1M90 27h1M92 27h1M94 27h1M104 27h1M106 27h2M109 27h1M117 27h1M122 27h1M7 26h1M22 26h1M65 26h1M88 26h1M99 26h1M1 25h1M24 25h1M32 25h1M40 25h1M57 25h1M67 25h1M75 25h2M85 25h1M91 25h1M117 25h1M5 24h1M10 24h1M32 24h1M39 24h1M51 24h1M57 24h2M90 24h1M92 24h1M102 24h1M104 24h1M10 23h1M17 23h1M35 23h1M38 23h2M57 23h3M70 23h1M72 23h1M75 23h1M85 23h1M92 23h1M94 23h1M97 23h2M104 23h1M11 22h1M14 22h1M45 22h1M67 22h1M72 22h1M83 22h1M92 22h1M94 22h1M97 22h1M9 21h1M26 21h2M76 21h1M87 21h1M4 20h1M13 20h1M18 20h1M26 20h2M42 20h1M54 20h1M88 20h2M111 20h1M0 19h1M4 19h1M29 19h1M44 19h1M46 19h1M51 19h1M57 19h1M65 19h1M68 19h2M71 19h1M94 19h1M107 19h1M111 19h2M118 19h1M7 18h2M12 18h1M15 18h1M19 18h1M24 18h1M26 18h1M31 18h2M36 18h1M45 18h1M51 18h2M61 18h2M64 18h1M67 18h1M72 18h1M77 18h1M81 18h2M99 18h1M115 18h4M125 18h1M0 17h1M6 17h1M8 17h1M14 17h1M19 17h1M32 17h3M43 17h1M50 17h1M65 17h1M69 17h1M71 17h2M77 17h1M86 17h1M88 17h1M96 17h1M98 17h1M102 17h1M105 17h1M110 17h1M114 17h3M120 17h1M7 16h1M43 16h2M46 16h1M50 16h1M52 16h1M68 16h1M82 16h1M88 16h1M95 16h1M105 16h1M114 16h2M117 16h1M121 16h1M54 15h1M101 15h1M117 15h1M121 15h1M48 9h2M63 9h1M103 9h1M114 9h1M8 8h1M103 8h1M114 8h1M29 7h1M84 7h1M109 7h1M114 7h1M6 6h1M15 6h1M28 6h1M53 6h1M65 6h1M83 6h2M87 6h1M100 6h1M105 6h2M124 6h1M10 5h1M25 5h1M31 5h1M36 5h1M40 5h1M42 5h2M49 5h1M57 5h1M59 5h2M72 5h1M75 5h1M79 5h1M82 5h1M87 5h1M123 5h1M3 4h2M8 4h1M15 4h1M38 4h1M50 4h1M52 4h1M56 4h1M59 4h1M87 4h1M111 4h1M120 4h1M1 3h2M14 3h1M23 3h1M34 3h2M50 3h1M54 3h1M74 3h1M81 3h1M103 3h1M122 3h1M125 3h1M10 2h1M39 2h2M49 2h1M56 2h1M67 2h1M83 2h1M107 2h1M109 2h1M124 2h1M4 1h1M12 1h1M20 1h2M36 1h1M39 1h1M42 1h1M46 1h1M68 1h1M70 1h1M80 1h1M82 1h1M88 1h1M94 1h1M99 1h1M103 1h1M113 1h1M118 1h2M124 1h1M11 0h1M21 0h1M31 0h3M39 0h1M51 0h1M56 0h1M60 0h2M63 0h1M70 0h1M72 0h1M74 0h1M80 0h1M84 0h1M86 0h1M89 0h1M103 0h1M105 0h1M114 0h1M118 0h1M120 0h2"/><path stroke="#1f998a" d="M31 116h2M111 116h1M14 114h1M50 111h1M53 111h1M110 111h1M3 110h3M16 110h1M31 110h1M56 110h1M65 110h1M71 110h1M83 110h1M94 110h1M110 110h1M3 109h1M8 109h1M18 109h1M76 109h1M89 109h1M97 109h1M103 109h1M108 109h1M115 109h1M1 108h2M17 108h2M25 108h1M33 108h1M35 108h1M43 108h1M51 108h1M53 108h1M58 108h2M63 108h1M68 108h1M80 108h1M86 108h1M103 108h1M113 108h1M118 108h1M125 108h1M2 107h1M4 107h1M29 107h1M39 107h1M51 107h1M54 107h1M61 107h1M82 107h1M91 107h1M94 107h1M100 107h1M106 107h1M116 107h2M25 106h1M31 106h1M33 106h1M55 106h1M117 106h1M33 105h1M58 105h1M98 105h1M12 104h1M27 104h1M39 104h1M53 104h1M56 104h1M71 104h2M78 104h1M80 104h3M93 104h1M100 104h1M104 104h1M109 104h2M113 104h1M121 104h1M124 104h1M7 103h1M10 103h3M27 103h1M30 103h1M36 103h1M39 103h2M44 103h3M50 103h2M58 103h3M65 103h1M68 103h1M72 103h1M80 103h6M3 102h1M5 102h2M10 102h1M14 102h1M18 102h1M21 102h1M30 102h1M33 102h1M39 102h1M54 102h1M56 102h1M58 102h2M62 102h2M69 102h1M72 102h2M76 102h1M81 102h1M86 102h2M89 102h2M95 102h1M101 102h1M105 102h1M107 102h1M114 102h1M116 102h1M118 102h1M120 102h1M123 102h1M0 101h1M7 101h1M10 101h1M17 101h3M21 101h1M44 101h1M49 101h1M51 101h1M54 101h1M63 101h2M66 101h1M72 101h1M77 101h1M82 101h2M85 101h1M96 101h1M102 101h1M109 101h1M114 101h1M117 101h2M120 101h1M15 100h1M20 100h1M29 100h2M37 100h1M46 100h1M52 100h1M59 100h1M66 100h1M72 100h1M82 100h2M91 100h1M100 100h1M102 100h1M110 100h1M123 100h1M4 99h1M6 99h1M13 99h1M29 99h1M31 99h2M34 99h1M37 99h1M42 99h1M46 99h1M64 99h1M70 99h1M73 99h1M78 99h2M81 99h1M84 99h2M91 99h1M94 99h1M97 99h1M102 99h1M108 99h1M111 99h1M117 99h1M123 99h2M1 98h1M3 98h2M7 98h1M9 98h1M20 98h1M27 98h1M36 98h1M43 98h1M55 98h1M58 98h1M66 98h1M68 98h2M88 98h1M92 98h2M115 98h1M124 98h1M23 97h1M25 97h1M28 97h1M35 97h1M41 97h1M68 97h1M74 97h2M84 97h1M93 97h2M107 97h1M109 97h1M112 97h1M115 97h1M118 97h1M2 96h1M4 96h1M12 96h1M20 96h1M22 96h1M25 96h1M33 96h1M38 96h1M41 96h1M43 96h1M66 96h1M69 96h1M71 96h4M78 96h1M82 96h1M102 96h1M105 96h2M4 95h1M12 95h1M15 95h2M24 95h1M27 95h1M30 95h1M35 95h1M46 95h2M52 95h1M60 95h1M69 95h1M71 95h2M74 95h1M79 95h1M85 95h2M91 95h1M93 95h2M96 95h2M101 95h1M106 95h1M110 95h2M114 95h1M120 95h1M11 94h1M28 94h3M38 94h1M51 94h1M56 94h1M65 94h1M73 94h2M80 94h1M84 94h2M101 94h3M107 94h1M109 94h2M115 94h2M123 94h1M4 93h1M31 93h1M35 93h1M41 93h2M66 93h1M75 93h1M79 93h1M82 93h1M95 93h1M100 93h1M2 92h1M4 92h3M8 92h1M11 92h1M13 92h1M22 92h1M25 92h1M32 92h2M35 92h2M39 92h1M43 92h1M46 92h1M48 92h1M53 92h1M56 92h1M65 92h1M68 92h1M70 92h1M114 92h1M117 92h1M121 92h1M5 91h2M8 91h1M13 91h1M26 91h2M63 91h2M90 91h1M96 91h1M120 91h1M123 91h1M5 90h2M14 90h1M17 90h1M21 90h1M32 90h1M35 90h1M39 90h1M50 90h1M52 90h1M60 90h1M68 90h1M75 90h1M78 90h2M85 90h1M93 90h1M106 90h1M114 90h1M120 90h3M1 89h1M86 89h1M88 89h1M8 88h1M10 88h1M17 88h1M22 88h1M26 88h1M34 88h1M40 88h1M43 88h1M65 88h1M70 88h1M75 88h1M82 88h1M89 88h1M94 88h1M96 88h1M98 88h1M100 88h3M105 88h1M107 88h2M110 88h1M116 88h1M120 88h1M123 88h1M11 87h1M17 87h3M27 87h1M50 87h2M61 87h1M68 87h1M70 87h1M73 87h2M78 87h1M82 87h1M84 87h1M86 87h1M96 87h1M100 87h2M117 87h1M2 86h1M4 86h1M13 86h2M16 86h2M31 86h1M37 86h1M46 86h2M50 86h1M53 86h1M56 86h1M59 86h1M62 86h1M76 86h1M82 86h1M93 86h1M96 86h1M100 86h1M117 86h2M121 86h1M124 86h1M2 85h1M6 85h1M8 85h1M19 85h1M23 85h2M27 85h1M35 85h1M37 85h2M44 85h1M51 85h1M53 85h1M73 85h1M75 85h1M77 85h1M80 85h1M83 85h1M95 85h1M97 85h1M115 85h1M117 85h1M18 84h2M24 84h1M33 84h1M42 84h3M49 84h1M51 84h2M55 84h2M58 84h1M62 84h5M68 84h1M73 84h3M78 84h1M82 84h1M95 84h1M100 84h2M105 84h1M107 84h1M109 84h1M111 84h2M117 84h2M120 84h3M5 83h2M9 83h1M15 83h2M38 83h1M41 83h1M46 83h1M55 83h1M64 83h2M72 83h1M77 83h1M93 83h1M103 83h2M109 83h1M115 83h1M123 83h1M125 83h1M7 82h1M9 82h1M11 82h1M17 82h1M21 82h1M27 82h1M33 82h2M37 82h1M45 82h1M53 82h2M58 82h1M69 82h1M76 82h1M80 82h1M83 82h1M86 82h1M89 82h1M125 82h1M0 81h2M17 81h1M21 81h1M29 81h1M34 81h1M38 81h1M46 81h1M49 81h1M53 81h1M59 81h1M68 81h1M70 81h1M73 81h1M76 81h1M78 81h1M81 81h1M83 81h2M95 81h1M101 81h2M109 81h1M111 81h1M118 81h1M120 81h1M125 81h1M17 80h1M22 80h1M27 80h1M34 80h1M56 80h1M63 80h1M74 80h1M77 80h1M85 80h2M90 80h2M95 80h1M111 80h1M116 80h1M125 80h1M0 79h1M4 79h1M9 79h1M12 79h1M16 79h1M18 79h1M42 79h2M52 79h1M56 79h2M62 79h1M64 79h1M73 79h1M77 79h1M88 79h1M102 79h1M106 79h1M109 79h1M114 79h1M123 79h3M2 78h2M6 78h1M12 78h1M16 78h2M22 78h1M29 78h1M31 78h1M40 78h1M44 78h1M59 78h1M63 78h1M68 78h1M88 78h1M96 78h1M107 78h1M109 78h1M112 78h1M114 78h1M120 78h1M124 78h1M3 77h1M17 77h1M20 77h1M39 77h2M47 77h1M72 77h1M86 77h1M115 77h1M119 77h2M125 77h1M0 76h1M3 76h1M40 76h1M42 76h1M47 76h1M60 76h4M67 76h2M70 76h1M72 76h1M74 76h1M82 76h2M86 76h1M91 76h1M94 76h1M99 76h1M106 76h1M117 76h1M122 76h1M0 75h1M16 75h1M21 75h1M27 75h2M45 75h1M55 75h1M63 75h1M65 75h1M68 75h1M73 75h2M81 75h2M84 75h1M90 75h1M111 75h1M118 75h2M2 74h1M10 74h1M16 74h1M19 74h1M22 74h1M24 74h1M27 74h1M34 74h1M39 74h1M41 74h2M56 74h1M59 74h1M62 74h1M76 74h1M82 74h1M94 74h1M98 74h2M101 74h1M103 74h1M106 74h1M108 74h1M113 74h3M118 74h1M122 74h1M4 73h1M22 73h1M37 73h1M46 73h1M50 73h1M56 73h1M59 73h1M69 73h1M75 73h1M79 73h1M93 73h1M97 73h1M107 73h1M113 73h1M122 73h1M9 72h1M13 72h1M39 72h1M50 72h1M57 72h1M71 72h1M75 72h1M80 72h1M85 72h1M90 72h1M93 72h1M96 72h1M104 72h1M108 72h2M111 72h1M122 72h1M125 72h1M3 71h1M20 71h2M39 71h1M72 71h1M76 71h1M89 71h1M97 71h1M108 71h1M122 71h1M125 71h1M7 70h1M20 70h2M27 70h1M32 70h1M37 70h1M39 70h1M42 70h1M44 70h1M52 70h2M60 70h1M62 70h1M67 70h1M70 70h1M85 70h1M108 70h2M114 70h1M119 70h1M125 70h1M7 69h1M16 69h1M37 69h1M42 69h1M44 69h1M55 69h1M62 69h2M70 69h1M74 69h1M91 69h1M98 69h1M114 69h1M119 69h1M124 69h1M30 68h1M37 68h1M42 68h1M46 68h1M49 68h1M60 68h1M62 68h1M64 68h1M71 68h1M74 68h1M78 68h1M84 68h1M91 68h1M97 68h1M106 68h1M109 68h2M113 68h2M116 68h1M119 68h1M124 68h1M23 67h1M25 67h1M32 67h1M35 67h1M37 67h1M42 67h2M46 67h1M54 67h1M62 67h1M71 67h1M74 67h1M81 67h2M99 67h2M104 67h1M0 66h1M3 66h1M11 66h1M21 66h1M35 66h1M37 66h1M45 66h2M49 66h1M52 66h2M57 66h2M61 66h1M75 66h2M78 66h1M84 66h1M104 66h1M106 66h2M114 66h1M2 65h1M5 65h1M11 65h1M29 65h2M33 65h3M47 65h2M51 65h1M75 65h1M85 65h1M88 65h1M91 65h1M94 65h1M98 65h1M104 65h2M107 65h4M113 65h1M116 65h1M122 65h1M125 65h1M2 64h2M6 64h1M8 64h1M16 64h1M22 64h1M28 64h1M31 64h1M73 64h1M75 64h2M78 64h1M86 64h1M88 64h1M97 64h1M2 63h3M11 63h1M17 63h1M20 63h1M30 63h1M53 63h1M72 63h1M75 63h1M77 63h2M125 63h1M5 62h1M11 62h1M17 62h1M30 62h1M77 62h1M94 62h2M100 62h1M103 62h1M116 62h1M16 61h2M20 61h1M32 61h1M34 61h1M43 61h1M57 61h2M78 61h1M81 61h1M83 61h1M90 61h1M95 61h1M103 61h1M118 61h1M120 61h1M122 61h1M125 61h1M7 60h1M10 60h1M17 60h1M19 60h1M21 60h1M30 60h1M33 60h1M37 60h1M43 60h2M54 60h1M61 60h1M63 60h2M66 60h2M75 60h1M79 60h1M90 60h1M93 60h1M109 60h1M116 60h1M125 60h1M9 59h1M11 59h1M19 59h1M26 59h2M30 59h1M35 59h1M38 59h1M42 59h2M52 59h1M54 59h1M63 59h1M69 59h2M76 59h1M88 59h2M94 59h1M101 59h2M105 59h1M109 59h2M3 58h1M7 58h2M18 58h1M36 58h1M40 58h1M46 58h1M62 58h1M68 58h1M92 58h1M108 58h1M110 58h1M114 58h1M118 58h1M8 57h1M15 57h2M26 57h1M29 57h1M33 57h1M39 57h3M43 57h1M48 57h1M51 57h1M57 57h1M62 57h2M69 57h2M80 57h4M92 57h1M100 57h1M104 57h2M108 57h1M116 57h1M119 57h2M8 56h1M23 56h1M25 56h1M37 56h2M52 56h1M63 56h1M66 56h1M78 56h1M83 56h2M86 56h1M92 56h1M107 56h1M111 56h1M116 56h1M124 56h2M10 55h1M27 55h1M29 55h1M42 55h1M49 55h1M52 55h1M63 55h1M78 55h1M80 55h1M84 55h1M89 55h1M108 55h1M112 55h1M125 55h1M2 54h1M10 54h1M14 54h1M17 54h1M20 54h3M30 54h1M35 54h1M41 54h1M49 54h1M52 54h1M56 54h2M66 54h2M69 54h1M80 54h1M94 54h1M99 54h1M110 54h2M115 54h1M118 54h1M125 54h1M28 53h1M31 53h2M37 53h2M41 53h1M45 53h1M58 53h1M74 53h1M78 53h1M88 53h1M95 53h2M107 53h2M118 53h1M121 53h2M11 52h1M19 52h1M23 52h2M29 52h1M31 52h1M43 52h1M51 52h1M53 52h1M56 52h1M61 52h1M75 52h1M78 52h1M87 52h1M92 52h2M96 52h1M108 52h1M110 52h1M117 52h1M119 52h1M122 52h1M124 52h2M2 51h1M14 51h1M17 51h1M25 51h2M35 51h1M40 51h1M46 51h2M55 51h1M68 51h1M76 51h1M94 51h1M98 51h1M104 51h1M112 51h1M119 51h1M121 51h1M7 50h1M14 50h1M16 50h1M26 50h1M34 50h1M53 50h1M56 50h1M67 50h2M84 50h2M91 50h1M96 50h1M105 50h1M115 50h2M119 50h2M9 49h1M17 49h1M26 49h1M35 49h1M42 49h1M44 49h1M52 49h1M58 49h1M60 49h2M74 49h1M84 49h1M90 49h2M96 49h1M102 49h4M115 49h1M124 49h2M1 48h1M22 48h2M28 48h1M51 48h1M61 48h1M65 48h1M74 48h1M77 48h1M79 48h1M85 48h1M90 48h1M106 48h1M109 48h1M118 48h1M4 47h2M9 47h1M12 47h2M16 47h1M19 47h1M27 47h2M32 47h1M34 47h1M38 47h1M41 47h1M48 47h1M52 47h2M68 47h1M73 47h1M86 47h1M95 47h1M108 47h3M112 47h2M115 47h1M118 47h1M122 47h1M4 46h1M38 46h1M40 46h1M47 46h2M52 46h2M57 46h1M78 46h1M81 46h1M87 46h1M89 46h1M101 46h2M119 46h1M11 45h1M29 45h1M37 45h2M40 45h1M43 45h1M54 45h1M71 45h1M73 45h2M77 45h1M82 45h1M86 45h1M89 45h3M93 45h1M103 45h1M110 45h1M114 45h1M119 45h1M122 45h1M4 44h1M13 44h1M53 44h1M57 44h1M59 44h1M66 44h2M76 44h1M95 44h1M97 44h1M106 44h2M122 44h1M4 43h1M8 43h2M13 43h1M15 43h2M24 43h1M30 43h1M34 43h3M40 43h1M43 43h1M50 43h2M57 43h3M71 43h1M78 43h1M80 43h1M82 43h2M87 43h2M90 43h1M94 43h2M97 43h2M110 43h1M121 43h1M123 43h2M21 42h1M29 42h1M36 42h2M49 42h1M62 42h1M81 42h2M98 42h1M101 42h1M104 42h1M118 42h1M4 41h1M10 41h1M17 41h2M24 41h1M37 41h1M39 41h2M45 41h1M53 41h3M62 41h1M72 41h2M79 41h1M81 41h3M88 41h1M95 41h1M97 41h2M119 41h1M17 40h1M23 40h1M43 40h2M46 40h1M56 40h1M69 40h2M89 40h1M97 40h1M99 40h1M108 40h1M118 40h1M0 39h2M4 39h1M6 39h1M27 39h1M32 39h1M35 39h1M46 39h1M52 39h1M57 39h1M61 39h1M71 39h1M74 39h1M80 39h1M86 39h1M92 39h1M101 39h1M105 39h2M109 39h1M113 39h1M117 39h2M121 39h1M0 38h1M21 38h1M40 38h1M43 38h1M51 38h2M54 38h1M56 38h1M65 38h1M69 38h1M72 38h1M77 38h1M86 38h1M102 38h1M106 38h1M108 38h1M113 38h1M118 38h1M125 38h1M2 37h1M10 37h1M26 37h3M32 37h1M36 37h1M39 37h1M48 37h1M51 37h2M56 37h1M59 37h1M69 37h1M72 37h1M77 37h1M79 37h2M87 37h1M94 37h2M119 37h1M124 37h2M8 36h1M11 36h2M14 36h1M16 36h2M21 36h1M23 36h1M26 36h1M34 36h1M36 36h1M45 36h2M60 36h1M66 36h1M69 36h2M76 36h2M87 36h1M90 36h1M99 36h2M103 36h2M107 36h1M113 36h1M125 36h1M0 35h1M2 35h1M5 35h1M10 35h1M21 35h1M27 35h1M34 35h1M40 35h1M43 35h1M45 35h3M63 35h1M68 35h1M75 35h2M78 35h1M84 35h2M100 35h1M102 35h1M109 35h1M115 35h1M4 34h1M6 34h1M11 34h1M16 34h1M19 34h1M23 34h3M30 34h1M32 34h1M35 34h1M38 34h1M41 34h1M45 34h2M58 34h1M62 34h1M80 34h2M86 34h1M91 34h3M97 34h2M102 34h2M105 34h1M109 34h1M111 34h2M3 33h1M7 33h1M13 33h3M19 33h1M25 33h1M27 33h1M29 33h1M35 33h1M38 33h1M41 33h3M47 33h1M57 33h1M59 33h1M70 33h3M79 33h1M81 33h1M89 33h1M92 33h1M99 33h1M102 33h1M106 33h1M109 33h1M2 32h1M7 32h3M14 32h1M16 32h1M18 32h1M22 32h1M27 32h1M29 32h1M35 32h1M37 32h1M40 32h1M43 32h2M54 32h1M68 32h1M70 32h1M73 32h2M81 32h1M93 32h1M102 32h1M106 32h1M111 32h1M122 32h1M4 31h1M7 31h1M9 31h1M14 31h1M17 31h1M20 31h1M24 31h1M26 31h2M36 31h1M46 31h1M55 31h1M61 31h1M66 31h2M70 31h1M74 31h1M77 31h1M79 31h1M81 31h1M83 31h1M86 31h2M92 31h1M95 31h1M105 31h1M107 31h1M112 31h1M117 31h1M121 31h3M1 30h1M4 30h1M8 30h1M20 30h1M24 30h1M32 30h1M37 30h1M45 30h1M51 30h1M53 30h1M59 30h1M62 30h1M68 30h1M70 30h2M82 30h1M95 30h1M99 30h1M102 30h1M105 30h1M109 30h1M116 30h1M6 29h2M25 29h1M35 29h1M64 29h1M70 29h2M78 29h1M98 29h1M101 29h1M113 29h1M117 29h1M4 28h1M13 28h1M15 28h1M21 28h2M27 28h1M29 28h1M31 28h1M39 28h1M50 28h1M53 28h1M55 28h1M77 28h1M81 28h1M90 28h1M97 28h1M122 28h1M12 27h2M17 27h3M21 27h1M25 27h1M29 27h1M31 27h3M35 27h3M44 27h1M50 27h1M58 27h1M61 27h1M65 27h3M77 27h1M97 27h1M102 27h1M105 27h1M110 27h1M114 27h1M118 27h1M121 27h1M123 27h3M11 26h1M14 26h3M24 26h1M35 26h1M41 26h1M45 26h1M53 26h1M60 26h1M66 26h1M80 26h1M82 26h1M91 26h1M94 26h1M102 26h1M114 26h1M117 26h1M7 25h1M10 25h2M15 25h1M17 25h1M19 25h1M26 25h3M30 25h1M33 25h1M35 25h1M41 25h1M58 25h1M64 25h1M66 25h1M77 25h1M79 25h1M81 25h1M83 25h2M90 25h1M92 25h1M109 25h1M113 25h1M116 25h1M119 25h1M121 25h1M124 25h1M0 24h1M11 24h1M17 24h2M23 24h1M30 24h1M33 24h3M45 24h1M47 24h1M55 24h1M65 24h1M77 24h1M89 24h1M98 24h1M109 24h1M113 24h1M121 24h1M124 24h1M3 23h1M6 23h1M8 23h1M11 23h1M15 23h1M18 23h1M34 23h1M44 23h2M55 23h1M66 23h1M78 23h1M89 23h1M99 23h1M106 23h1M2 22h2M15 22h1M26 22h4M33 22h1M35 22h1M44 22h1M53 22h1M56 22h3M60 22h1M62 22h1M71 22h1M76 22h1M78 22h1M91 22h1M95 22h1M98 22h1M105 22h1M112 22h1M116 22h1M2 21h1M11 21h1M17 21h1M24 21h1M38 21h1M53 21h1M60 21h1M62 21h1M65 21h1M78 21h1M92 21h1M98 21h1M116 21h1M9 20h1M11 20h1M14 20h1M23 20h1M29 20h1M45 20h1M48 20h1M52 20h2M56 20h1M61 20h1M68 20h1M71 20h1M75 20h1M77 20h2M83 20h1M86 20h1M93 20h3M100 20h1M106 20h3M123 20h1M2 19h1M8 19h1M15 19h1M26 19h1M31 19h2M36 19h1M42 19h1M45 19h1M49 19h1M54 19h1M63 19h1M66 19h1M72 19h1M75 19h1M77 19h1M81 19h2M85 19h1M87 19h1M100 19h2M2 18h3M39 18h5M50 18h1M60 18h1M69 18h1M78 18h1M85 18h1M87 18h1M89 18h1M91 18h2M96 18h1M104 18h1M111 18h1M113 18h2M120 18h1M122 18h1M124 18h1M2 17h2M15 17h1M31 17h1M40 17h2M48 17h2M51 17h1M56 17h1M62 17h1M74 17h1M78 17h1M84 17h1M90 17h1M92 17h1M99 17h1M108 17h1M0 16h1M6 16h1M14 16h1M31 16h3M39 16h1M53 16h1M69 16h1M74 16h1M84 16h1M96 16h2M106 16h2M111 16h1M113 16h1M124 16h1M16 15h1M24 15h1M33 15h1M37 15h1M44 15h1M68 15h1M70 15h1M74 15h1M77 15h1M84 15h1M93 15h1M95 15h1M97 15h1M99 15h1M111 15h1M122 15h1M8 9h1M16 9h1M67 9h1M84 9h1M98 9h1M120 9h2M4 8h1M7 8h1M31 8h1M84 8h1M88 8h1M110 8h1M120 8h1M7 7h1M31 7h1M39 7h1M57 7h1M75 7h1M78 7h1M88 7h1M100 7h1M103 7h1M110 7h1M120 7h1M2 6h1M7 6h1M10 6h2M26 6h1M30 6h2M39 6h1M48 6h1M54 6h1M60 6h1M79 6h1M81 6h1M88 6h1M91 6h2M94 6h1M98 6h1M101 6h1M107 6h1M109 6h1M111 6h1M116 6h1M6 5h1M8 5h2M13 5h3M18 5h1M26 5h2M35 5h1M45 5h1M50 5h1M54 5h1M65 5h1M78 5h1M81 5h1M84 5h1M88 5h1M95 5h1M101 5h1M105 5h2M115 5h1M120 5h1M124 5h1M1 4h1M25 4h1M28 4h1M33 4h2M40 4h1M48 4h1M54 4h1M71 4h1M73 4h1M81 4h2M88 4h1M95 4h1M103 4h1M116 4h1M4 3h1M8 3h1M16 3h1M18 3h1M20 3h2M29 3h1M37 3h1M51 3h1M55 3h1M57 3h2M67 3h1M69 3h1M73 3h1M76 3h1M83 3h1M93 3h1M95 3h1M97 3h1M102 3h1M106 3h1M110 3h1M112 3h1M116 3h1M119 3h1M123 3h1M2 2h1M4 2h1M14 2h1M17 2h1M34 2h1M69 2h1M82 2h1M88 2h2M92 2h1M103 2h1M110 2h1M116 2h1M119 2h1M125 2h1M5 1h1M14 1h1M31 1h2M41 1h1M60 1h1M69 1h1M73 1h1M78 1h1M84 1h2M89 1h2M102 1h1M104 1h1M106 1h1M111 1h1M121 1h1M0 0h1M6 0h1M13 0h1M22 0h1M25 0h1M27 0h1M35 0h1M38 0h1M52 0h1M69 0h1M75 0h1M92 0h2M95 0h1M101 0h1M108 0h1M110 0h1M112 0h1"/><path stroke="#1fa088" d="M24 116h1M43 116h1M66 116h1M92 116h1M65 115h1M52 114h2M116 114h1M29 113h1M52 113h2M64 113h1M22 112h1M29 112h1M53 112h1M65 112h1M36 111h1M80 111h1M108 111h1M6 110h1M8 110h1M15 110h1M19 110h1M22 110h2M36 110h1M38 110h1M51 110h1M53 110h1M62 110h2M85 110h1M100 110h1M103 110h1M119 110h1M9 109h1M14 109h1M17 109h1M32 109h1M43 109h1M45 109h1M51 109h1M53 109h1M55 109h1M61 109h1M63 109h2M71 109h1M73 109h3M96 109h1M104 109h1M106 109h1M109 109h1M121 109h1M0 108h1M6 108h1M13 108h2M21 108h1M24 108h1M26 108h2M29 108h1M36 108h1M39 108h1M41 108h1M44 108h1M60 108h1M69 108h1M71 108h2M74 108h1M82 108h1M94 108h1M102 108h1M104 108h1M108 108h2M111 108h1M114 108h1M116 108h1M119 108h1M6 107h1M10 107h1M12 107h3M17 107h2M20 107h1M28 107h1M34 107h1M36 107h1M41 107h1M44 107h1M48 107h1M50 107h1M60 107h1M81 107h1M85 107h1M95 107h2M107 107h1M111 107h1M113 107h1M119 107h1M11 106h1M23 106h1M43 106h1M58 106h1M68 106h1M76 106h1M97 106h1M99 106h1M105 106h1M114 106h1M120 106h1M11 105h1M26 105h1M76 105h1M78 105h1M92 105h2M117 105h1M2 104h1M7 104h1M13 104h1M25 104h1M28 104h1M36 104h2M41 104h1M43 104h1M45 104h1M50 104h1M64 104h1M69 104h1M74 104h1M92 104h1M102 104h2M105 104h2M108 104h1M112 104h1M115 104h1M117 104h1M119 104h2M1 103h1M4 103h1M8 103h1M13 103h1M17 103h1M21 103h1M25 103h1M32 103h1M34 103h1M43 103h1M47 103h1M56 103h1M61 103h1M64 103h1M69 103h1M71 103h1M73 103h1M78 103h1M86 103h1M97 103h1M105 103h1M112 103h2M122 103h2M125 103h1M13 102h1M19 102h1M36 102h1M40 102h1M44 102h1M57 102h1M66 102h2M84 102h1M91 102h2M96 102h1M98 102h1M102 102h1M108 102h1M110 102h2M122 102h1M3 101h1M11 101h1M13 101h1M20 101h1M42 101h1M45 101h1M55 101h2M62 101h1M67 101h1M73 101h3M90 101h1M93 101h1M100 101h2M106 101h1M110 101h1M123 101h1M125 101h1M3 100h1M7 100h1M17 100h1M36 100h1M38 100h1M42 100h1M56 100h1M67 100h1M69 100h1M73 100h3M84 100h1M87 100h1M96 100h1M104 100h1M121 100h1M124 100h2M0 99h1M5 99h1M25 99h1M35 99h1M47 99h1M50 99h1M56 99h1M69 99h1M72 99h1M74 99h2M87 99h1M99 99h1M103 99h2M113 99h1M121 99h1M125 99h1M6 98h1M10 98h1M12 98h1M16 98h1M24 98h2M28 98h2M31 98h1M52 98h2M57 98h1M63 98h1M74 98h2M77 98h1M81 98h1M84 98h1M86 98h1M98 98h1M100 98h1M102 98h1M109 98h2M123 98h1M125 98h1M1 97h2M4 97h1M8 97h1M18 97h1M20 97h2M31 97h1M38 97h1M49 97h1M63 97h1M66 97h2M72 97h1M76 97h1M83 97h1M95 97h1M99 97h1M101 97h2M123 97h1M11 96h1M19 96h1M23 96h1M29 96h1M31 96h1M35 96h2M42 96h1M47 96h1M57 96h1M60 96h1M64 96h1M67 96h1M70 96h1M76 96h2M79 96h2M85 96h1M92 96h1M99 96h1M120 96h1M124 96h1M3 95h1M11 95h1M25 95h1M31 95h1M37 95h1M41 95h1M44 95h1M50 95h2M70 95h1M76 95h3M80 95h1M84 95h1M98 95h2M103 95h1M116 95h2M119 95h1M121 95h1M15 94h2M20 94h3M24 94h1M35 94h1M37 94h1M45 94h1M47 94h1M49 94h2M52 94h1M57 94h1M63 94h2M72 94h1M75 94h1M81 94h1M94 94h1M97 94h1M104 94h1M106 94h1M108 94h1M111 94h1M113 94h2M117 94h2M121 94h1M2 93h1M5 93h2M43 93h1M48 93h1M64 93h1M69 93h2M20 92h1M58 92h1M90 92h1M99 92h1M118 92h1M123 92h1M11 91h1M33 91h1M40 91h1M42 91h1M53 91h1M69 91h1M75 91h1M99 91h1M114 91h1M121 91h1M9 90h1M28 90h2M76 90h1M28 89h2M50 89h1M4 88h1M21 88h1M27 88h1M29 88h3M42 88h1M46 88h1M61 88h1M85 88h1M87 88h1M91 88h1M28 87h1M42 87h1M56 87h1M75 87h2M102 87h1M10 86h1M19 86h1M27 86h1M35 86h1M45 86h1M61 86h1M68 86h1M71 86h1M75 86h1M78 86h1M84 86h1M95 86h1M112 86h3M10 85h2M16 85h1M45 85h1M47 85h1M49 85h1M59 85h1M61 85h1M70 85h1M101 85h2M108 85h1M111 85h1M118 85h1M6 84h1M17 84h1M22 84h2M31 84h1M38 84h1M50 84h1M69 84h1M71 84h1M76 84h2M80 84h1M90 84h1M94 84h1M97 84h1M115 84h2M3 83h1M10 83h1M17 83h3M22 83h1M28 83h3M45 83h1M54 83h1M58 83h1M68 83h1M71 83h1M75 83h1M78 83h1M95 83h1M107 83h1M116 83h1M122 83h1M3 82h1M5 82h1M19 82h1M28 82h1M41 82h1M59 82h1M78 82h2M87 82h1M96 82h1M4 81h1M9 81h1M11 81h3M16 81h1M19 81h1M27 81h1M31 81h1M41 81h1M45 81h1M48 81h1M50 81h1M64 81h3M69 81h1M86 81h2M96 81h1M98 81h2M104 81h1M108 81h1M112 81h1M4 80h1M15 80h1M19 80h3M29 80h4M44 80h2M47 80h1M54 80h1M60 80h1M66 80h2M69 80h1M71 80h2M82 80h2M87 80h1M93 80h1M106 80h1M109 80h1M117 80h1M121 80h2M124 80h1M3 79h1M20 79h2M25 79h1M30 79h1M40 79h2M61 79h1M65 79h1M67 79h2M70 79h1M74 79h1M76 79h1M81 79h2M84 79h2M90 79h1M98 79h1M100 79h2M103 79h1M108 79h1M117 79h1M121 79h1M0 78h1M4 78h1M7 78h1M9 78h1M20 78h1M25 78h1M30 78h1M34 78h1M39 78h1M41 78h1M43 78h1M51 78h1M61 78h1M70 78h1M75 78h1M80 78h2M87 78h1M95 78h1M100 78h1M103 78h1M105 78h2M119 78h1M4 77h1M8 77h1M12 77h1M18 77h1M22 77h1M29 77h2M34 77h1M44 77h1M48 77h2M54 77h1M60 77h2M68 77h1M70 77h1M81 77h1M89 77h1M92 77h1M100 77h1M103 77h1M114 77h1M118 77h1M121 77h1M124 77h1M4 76h1M7 76h1M12 76h1M22 76h1M24 76h1M31 76h1M39 76h1M41 76h1M46 76h1M50 76h1M53 76h2M59 76h1M71 76h1M78 76h1M104 76h1M115 76h1M121 76h1M124 76h1M3 75h2M10 75h3M24 75h1M33 75h1M35 75h1M43 75h1M48 75h1M50 75h1M53 75h1M57 75h1M59 75h3M70 75h1M88 75h1M91 75h1M94 75h1M99 75h1M107 75h1M115 75h1M3 74h1M11 74h1M13 74h2M30 74h1M33 74h1M37 74h1M44 74h3M52 74h3M58 74h1M60 74h2M64 74h2M74 74h1M78 74h2M81 74h1M85 74h1M88 74h1M90 74h2M96 74h1M100 74h1M105 74h1M112 74h1M120 74h2M123 74h1M0 73h3M7 73h1M10 73h1M14 73h1M18 73h1M27 73h1M32 73h1M39 73h1M43 73h1M53 73h1M58 73h1M60 73h1M83 73h1M85 73h1M90 73h1M96 73h1M98 73h1M100 73h1M104 73h1M109 73h1M111 73h2M0 72h1M2 72h1M4 72h1M6 72h1M10 72h2M14 72h1M20 72h1M29 72h1M34 72h1M48 72h1M51 72h1M55 72h1M60 72h1M64 72h1M79 72h1M86 72h1M98 72h1M113 72h2M0 71h1M6 71h2M22 71h1M33 71h1M36 71h1M41 71h1M45 71h2M51 71h1M67 71h1M73 71h1M75 71h1M85 71h1M96 71h1M98 71h1M110 71h1M118 71h1M4 70h1M6 70h1M14 70h1M24 70h1M34 70h1M40 70h2M49 70h1M55 70h1M58 70h1M61 70h1M66 70h1M73 70h1M77 70h1M80 70h2M91 70h1M97 70h1M101 70h1M110 70h1M0 69h2M11 69h2M14 69h2M20 69h1M25 69h1M30 69h1M34 69h1M47 69h1M49 69h1M53 69h1M66 69h1M71 69h1M73 69h1M78 69h2M81 69h1M84 69h1M93 69h1M101 69h1M106 69h1M112 69h1M118 69h1M120 69h1M122 69h1M5 68h1M7 68h2M12 68h1M14 68h1M20 68h1M23 68h1M25 68h2M28 68h1M39 68h1M44 68h1M47 68h1M53 68h1M56 68h1M63 68h1M65 68h2M72 68h1M76 68h1M79 68h1M81 68h2M88 68h3M96 68h1M99 68h3M104 68h1M122 68h1M5 67h1M8 67h2M12 67h1M14 67h1M17 67h1M21 67h1M31 67h1M49 67h2M57 67h1M60 67h1M64 67h1M67 67h1M76 67h1M80 67h1M85 67h1M89 67h2M95 67h1M102 67h1M106 67h1M108 67h1M110 67h1M113 67h3M7 66h1M19 66h1M30 66h1M41 66h1M44 66h1M48 66h1M50 66h2M54 66h1M67 66h1M82 66h1M89 66h1M91 66h1M100 66h1M102 66h1M105 66h1M110 66h1M113 66h1M8 65h1M13 65h1M18 65h2M21 65h1M46 65h1M54 65h1M61 65h1M65 65h1M67 65h1M77 65h1M83 65h1M87 65h1M100 65h1M102 65h1M106 65h1M111 65h2M115 65h1M123 65h1M0 64h1M7 64h1M30 64h1M32 64h1M34 64h2M47 64h1M55 64h1M65 64h1M70 64h1M85 64h1M87 64h1M91 64h1M96 64h1M98 64h1M112 64h2M116 64h1M125 64h1M1 63h1M8 63h1M21 63h3M31 63h1M34 63h2M55 63h1M57 63h1M63 63h3M70 63h2M73 63h2M80 63h1M87 63h2M94 63h1M98 63h1M102 63h2M118 63h1M120 63h1M124 63h1M16 62h1M34 62h1M57 62h1M61 62h1M71 62h2M83 62h1M89 62h1M102 62h1M122 62h1M125 62h1M0 61h1M6 61h1M11 61h1M15 61h1M21 61h3M25 61h1M31 61h1M35 61h1M37 61h1M48 61h3M53 61h3M62 61h1M64 61h1M66 61h1M71 61h1M74 61h2M77 61h1M85 61h1M89 61h1M91 61h2M101 61h1M107 61h1M111 61h1M0 60h1M11 60h1M13 60h1M15 60h2M22 60h3M26 60h2M34 60h3M57 60h1M62 60h1M68 60h3M72 60h1M78 60h1M85 60h2M89 60h1M92 60h1M95 60h1M97 60h1M99 60h1M101 60h1M111 60h1M2 59h1M15 59h1M18 59h1M24 59h1M34 59h1M37 59h1M41 59h1M51 59h1M53 59h1M57 59h1M60 59h1M62 59h1M65 59h1M67 59h2M73 59h2M79 59h1M85 59h1M87 59h1M91 59h2M111 59h1M114 59h1M116 59h2M122 59h2M1 58h1M4 58h1M16 58h1M19 58h1M24 58h1M34 58h1M47 58h1M61 58h1M67 58h1M82 58h1M95 58h1M98 58h1M113 58h1M123 58h1M1 57h1M3 57h1M11 57h1M17 57h2M31 57h1M44 57h1M46 57h1M54 57h1M74 57h1M77 57h1M84 57h2M93 57h2M101 57h1M112 57h1M122 57h1M5 56h2M9 56h2M22 56h1M31 56h1M33 56h1M42 56h1M50 56h2M69 56h1M71 56h2M76 56h1M89 56h1M91 56h1M106 56h1M108 56h1M115 56h1M3 55h1M6 55h3M11 55h1M14 55h1M20 55h1M22 55h1M24 55h1M33 55h2M38 55h2M46 55h1M50 55h2M54 55h2M66 55h1M69 55h1M90 55h3M94 55h1M99 55h1M111 55h1M122 55h1M124 55h1M0 54h1M3 54h2M37 54h1M48 54h1M59 54h3M70 54h1M76 54h1M81 54h1M84 54h1M92 54h1M100 54h1M102 54h3M124 54h1M4 53h1M7 53h1M18 53h1M21 53h1M24 53h1M35 53h1M39 53h1M43 53h2M50 53h1M53 53h1M65 53h1M73 53h1M77 53h1M87 53h1M89 53h1M105 53h2M110 53h1M113 53h1M115 53h1M119 53h1M2 52h3M12 52h2M20 52h2M26 52h2M35 52h1M38 52h1M55 52h1M66 52h1M70 52h1M73 52h2M79 52h1M85 52h2M88 52h3M97 52h1M99 52h1M105 52h1M111 52h1M121 52h1M123 52h1M3 51h1M6 51h1M12 51h1M20 51h1M23 51h2M28 51h1M37 51h1M41 51h1M43 51h1M45 51h1M50 51h1M53 51h2M56 51h1M81 51h1M85 51h2M90 51h1M96 51h1M108 51h1M110 51h2M122 51h1M0 50h1M3 50h1M6 50h1M12 50h1M15 50h1M20 50h1M25 50h1M28 50h1M40 50h1M43 50h2M46 50h1M52 50h1M54 50h1M62 50h1M77 50h2M90 50h1M94 50h1M100 50h2M107 50h3M111 50h2M114 50h1M0 49h2M3 49h1M10 49h1M12 49h1M14 49h1M16 49h1M22 49h1M34 49h1M40 49h1M55 49h1M57 49h1M69 49h1M73 49h1M75 49h1M78 49h1M80 49h1M92 49h1M100 49h2M108 49h1M113 49h1M4 48h1M14 48h1M19 48h1M26 48h1M35 48h2M38 48h2M41 48h2M45 48h2M48 48h1M52 48h1M56 48h1M59 48h1M63 48h1M69 48h1M73 48h1M78 48h1M81 48h1M98 48h1M117 48h1M2 47h1M7 47h2M18 47h1M30 47h2M40 47h1M57 47h1M65 47h2M72 47h1M87 47h1M91 47h1M96 47h1M100 47h3M104 47h1M111 47h1M119 47h1M124 47h1M2 46h1M6 46h1M8 46h1M14 46h1M23 46h1M29 46h1M34 46h1M37 46h1M55 46h1M64 46h1M73 46h1M79 46h1M85 46h1M94 46h1M97 46h2M109 46h4M115 46h3M120 46h1M122 46h1M5 45h1M8 45h1M14 45h1M18 45h1M39 45h1M47 45h2M50 45h1M55 45h2M67 45h1M79 45h3M83 45h2M87 45h1M92 45h1M95 45h2M98 45h1M106 45h1M111 45h1M118 45h1M120 45h1M123 45h1M16 44h1M29 44h2M35 44h1M37 44h1M45 44h1M54 44h1M58 44h1M62 44h1M70 44h1M77 44h1M83 44h1M86 44h1M88 44h1M90 44h1M94 44h1M100 44h1M110 44h1M121 44h1M2 43h1M10 43h2M14 43h1M17 43h1M23 43h1M27 43h2M38 43h1M41 43h1M49 43h1M55 43h2M63 43h2M66 43h1M74 43h1M84 43h2M89 43h1M99 43h1M111 43h1M120 43h1M10 42h1M14 42h4M20 42h1M30 42h1M45 42h1M50 42h1M55 42h1M57 42h1M72 42h1M76 42h1M78 42h1M80 42h1M88 42h1M97 42h1M9 41h1M12 41h1M20 41h3M29 41h2M41 41h1M64 41h1M78 41h1M100 41h1M104 41h2M107 41h2M111 41h1M113 41h1M120 41h1M124 41h1M2 40h1M4 40h1M25 40h1M36 40h1M45 40h1M48 40h1M50 40h1M54 40h2M62 40h1M64 40h1M82 40h1M88 40h1M7 39h1M9 39h1M11 39h1M13 39h1M19 39h1M23 39h1M26 39h1M28 39h3M36 39h1M39 39h1M45 39h1M50 39h1M53 39h1M58 39h1M63 39h2M76 39h2M79 39h1M81 39h1M84 39h1M88 39h1M91 39h1M97 39h3M107 39h1M122 39h1M125 39h1M9 38h1M15 38h1M22 38h1M27 38h1M32 38h2M35 38h2M53 38h1M55 38h1M62 38h1M71 38h1M75 38h1M84 38h1M87 38h1M90 38h1M96 38h1M100 38h1M119 38h1M121 38h1M7 37h2M12 37h1M14 37h1M16 37h2M21 37h1M24 37h1M30 37h1M33 37h1M41 37h1M54 37h1M67 37h1M75 37h1M81 37h2M84 37h1M100 37h1M106 37h2M118 37h1M121 37h1M5 36h1M7 36h1M29 36h1M47 36h1M50 36h2M54 36h3M63 36h1M65 36h1M67 36h1M71 36h1M73 36h1M75 36h1M86 36h1M97 36h2M102 36h1M110 36h2M117 36h3M124 36h1M9 35h1M12 35h1M15 35h1M19 35h1M23 35h1M26 35h1M28 35h1M31 35h1M48 35h1M50 35h2M57 35h1M64 35h1M73 35h1M82 35h2M86 35h3M92 35h2M97 35h1M101 35h1M103 35h3M108 35h1M110 35h1M119 35h3M124 35h1M2 34h2M7 34h1M15 34h1M20 34h3M29 34h1M33 34h1M43 34h1M50 34h1M53 34h1M57 34h1M63 34h2M82 34h1M95 34h2M100 34h1M106 34h1M110 34h1M115 34h2M2 33h1M20 33h1M22 33h1M30 33h1M40 33h1M45 33h2M56 33h1M61 33h1M63 33h1M83 33h1M98 33h1M103 33h1M107 33h1M111 33h1M113 33h3M117 33h1M121 33h2M13 32h1M15 32h1M17 32h1M19 32h1M24 32h1M45 32h1M47 32h1M50 32h1M56 32h1M59 32h1M61 32h1M63 32h1M66 32h1M84 32h1M87 32h1M90 32h3M96 32h1M101 32h1M107 32h1M109 32h2M114 32h1M117 32h1M121 32h1M123 32h1M12 31h1M16 31h1M19 31h1M21 31h1M28 31h2M35 31h1M39 31h2M42 31h2M45 31h1M47 31h2M50 31h1M53 31h1M58 31h1M72 31h2M78 31h1M88 31h1M93 31h1M98 31h2M101 31h1M103 31h1M109 31h1M114 31h1M124 31h1M2 30h1M7 30h1M9 30h1M11 30h1M16 30h2M19 30h1M25 30h1M29 30h1M35 30h1M38 30h1M49 30h1M54 30h1M57 30h1M61 30h1M63 30h1M66 30h1M72 30h1M74 30h1M78 30h1M80 30h1M94 30h1M98 30h1M106 30h1M110 30h1M117 30h1M3 29h2M9 29h1M11 29h1M13 29h1M15 29h2M19 29h2M24 29h1M29 29h1M38 29h1M42 29h1M46 29h1M51 29h1M55 29h2M62 29h1M68 29h1M75 29h1M83 29h1M85 29h1M89 29h3M95 29h1M97 29h1M103 29h3M120 29h2M123 29h1M3 28h1M16 28h2M32 28h1M35 28h1M37 28h2M43 28h2M46 28h1M58 28h3M62 28h2M72 28h2M76 28h1M85 28h1M88 28h2M92 28h1M94 28h1M100 28h1M102 28h1M105 28h2M111 28h1M1 27h1M6 27h1M27 27h1M30 27h1M48 27h1M54 27h1M63 27h1M71 27h3M76 27h1M79 27h1M85 27h1M93 27h1M96 27h1M99 27h2M111 27h1M115 27h1M0 26h4M10 26h1M19 26h1M26 26h1M29 26h2M32 26h1M49 26h1M56 26h2M64 26h1M69 26h1M74 26h1M78 26h2M84 26h2M90 26h1M92 26h1M104 26h1M113 26h1M121 26h1M4 25h1M16 25h1M23 25h1M29 25h1M34 25h1M45 25h1M50 25h1M52 25h2M59 25h1M73 25h1M80 25h1M93 25h1M98 25h1M103 25h1M111 25h1M114 25h1M1 24h1M4 24h1M15 24h1M19 24h1M22 24h1M24 24h1M26 24h2M40 24h1M50 24h1M52 24h1M64 24h1M66 24h1M70 24h1M72 24h1M76 24h1M78 24h4M85 24h3M91 24h1M94 24h1M103 24h1M105 24h2M116 24h2M119 24h1M123 24h1M1 23h2M7 23h1M12 23h1M14 23h1M16 23h1M19 23h1M26 23h2M32 23h2M37 23h1M41 23h1M51 23h1M65 23h1M68 23h1M77 23h1M86 23h1M88 23h1M91 23h1M96 23h1M109 23h1M112 23h1M123 23h1M125 23h1M0 22h2M7 22h2M10 22h1M18 22h2M23 22h2M37 22h1M49 22h1M66 22h1M70 22h1M77 22h1M86 22h2M90 22h1M99 22h1M101 22h1M109 22h2M119 22h1M122 22h2M13 21h1M15 21h1M20 21h1M23 21h1M25 21h1M29 21h1M36 21h2M45 21h1M71 21h2M85 21h1M88 21h1M94 21h4M99 21h2M110 21h2M119 21h1M123 21h1M0 20h2M8 20h1M10 20h1M15 20h1M17 20h1M19 20h1M21 20h2M24 20h1M30 20h1M35 20h1M37 20h1M43 20h1M46 20h1M50 20h1M62 20h1M64 20h1M80 20h1M82 20h1M85 20h1M99 20h1M101 20h1M109 20h1M114 20h3M119 20h2M125 20h1M1 19h1M7 19h1M11 19h1M14 19h1M18 19h2M22 19h2M30 19h1M34 19h1M43 19h1M50 19h1M52 19h1M64 19h1M78 19h1M88 19h4M93 19h1M104 19h1M109 19h1M115 19h1M122 19h4M1 18h1M6 18h1M10 18h2M14 18h1M16 18h2M23 18h1M25 18h1M29 18h1M33 18h1M48 18h1M53 18h1M70 18h1M75 18h2M79 18h1M84 18h1M88 18h1M93 18h1M102 18h1M109 18h1M1 17h1M4 17h1M12 17h1M42 17h1M53 17h2M59 17h3M66 17h1M76 17h1M87 17h1M93 17h1M95 17h1M111 17h2M118 17h1M124 17h1M2 16h2M29 16h2M35 16h1M37 16h1M48 16h1M51 16h1M58 16h2M63 16h1M72 16h1M76 16h1M78 16h1M80 16h1M93 16h1M98 16h3M102 16h2M108 16h1M0 15h2M7 15h1M11 15h1M18 15h1M27 15h1M30 15h2M43 15h1M49 15h3M57 15h1M63 15h2M72 15h1M78 15h1M85 15h1M96 15h1M105 15h1M113 15h3M123 15h2M5 9h1M7 9h1M12 9h1M14 9h1M20 9h1M25 9h1M31 9h1M36 9h1M39 9h1M45 9h1M47 9h1M54 9h1M59 9h1M65 9h1M77 9h1M79 9h2M86 9h1M90 9h1M100 9h1M110 9h1M117 9h1M16 8h1M36 8h1M38 8h1M45 8h1M48 8h2M67 8h1M75 8h1M90 8h1M98 8h1M121 8h1M8 7h1M15 7h1M18 7h1M26 7h1M40 7h3M45 7h5M54 7h1M58 7h1M67 7h2M81 7h1M83 7h1M87 7h1M89 7h1M91 7h2M115 7h1M123 7h2M5 6h1M9 6h1M13 6h1M18 6h1M20 6h1M25 6h1M27 6h1M43 6h1M49 6h1M58 6h2M68 6h1M77 6h1M82 6h1M108 6h1M110 6h1M114 6h2M120 6h1M1 5h2M5 5h1M17 5h1M30 5h1M33 5h1M38 5h1M44 5h1M52 5h2M56 5h1M58 5h1M61 5h2M71 5h1M73 5h1M76 5h1M83 5h1M92 5h1M94 5h1M97 5h1M100 5h1M108 5h1M114 5h1M118 5h1M125 5h1M10 4h1M14 4h1M16 4h1M18 4h1M26 4h1M29 4h1M31 4h1M35 4h2M43 4h1M45 4h1M57 4h2M60 4h1M72 4h1M79 4h2M98 4h1M108 4h1M112 4h2M123 4h3M0 3h1M3 3h1M5 3h2M17 3h1M19 3h1M28 3h1M31 3h1M39 3h1M41 3h2M44 3h1M47 3h1M60 3h1M72 3h1M75 3h1M80 3h1M86 3h1M90 3h1M99 3h2M104 3h2M107 3h3M111 3h1M113 3h1M11 2h1M20 2h2M29 2h1M31 2h2M37 2h2M42 2h1M46 2h1M52 2h1M57 2h1M59 2h1M70 2h1M74 2h1M99 2h1M102 2h1M106 2h1M1 1h1M6 1h1M15 1h1M18 1h1M29 1h1M37 1h1M40 1h1M49 1h1M57 1h1M62 1h1M65 1h2M72 1h1M74 1h1M86 1h1M96 1h1M100 1h1M110 1h1M114 1h2M3 0h2M8 0h1M15 0h1M28 0h2M44 0h1M47 0h1M49 0h2M53 0h1M59 0h1M62 0h1M68 0h1M77 0h1M97 0h2M102 0h1M117 0h1M119 0h1"/><path stroke="#21a585" d="M111 117h1M36 116h1M65 116h1M74 116h1M93 116h1M98 116h1M112 116h1M122 116h1M125 116h1M93 115h1M113 115h1M65 114h1M99 114h1M112 114h1M9 113h2M22 113h1M82 113h1M93 113h1M99 113h1M102 113h1M109 113h1M112 113h1M0 112h1M9 112h1M46 112h1M50 112h1M56 112h1M64 112h1M77 112h1M80 112h1M87 112h1M93 112h1M105 112h1M108 112h1M110 112h1M4 111h1M8 111h1M11 111h1M22 111h1M26 111h1M32 111h1M45 111h1M51 111h1M54 111h1M56 111h1M59 111h1M63 111h2M66 111h1M70 111h1M87 111h1M105 111h1M113 111h2M118 111h1M121 111h1M11 110h1M14 110h1M17 110h1M26 110h1M28 110h1M30 110h1M32 110h1M43 110h1M45 110h1M47 110h1M50 110h1M54 110h1M61 110h1M66 110h2M73 110h2M76 110h1M79 110h1M82 110h1M97 110h1M104 110h1M109 110h1M113 110h3M118 110h1M121 110h1M125 110h1M6 109h1M15 109h1M23 109h1M27 109h1M37 109h2M42 109h1M44 109h1M47 109h1M57 109h2M78 109h2M81 109h2M87 109h1M94 109h2M105 109h1M107 109h1M110 109h1M119 109h1M123 109h1M3 108h1M11 108h1M15 108h1M20 108h1M37 108h1M40 108h1M48 108h1M54 108h1M66 108h1M73 108h1M84 108h2M88 108h1M93 108h1M99 108h3M110 108h1M117 108h1M27 107h1M45 107h1M52 107h2M66 107h1M69 107h1M71 107h1M80 107h1M83 107h1M88 107h1M90 107h1M98 107h1M101 107h2M108 107h1M5 106h1M8 106h1M16 106h1M22 106h1M26 106h1M29 106h2M34 106h1M78 106h1M82 106h1M89 106h1M9 105h1M22 105h2M25 105h1M43 105h1M54 105h1M56 105h2M71 105h1M82 105h1M108 105h1M3 104h1M10 104h1M14 104h1M17 104h1M21 104h1M24 104h1M34 104h1M38 104h1M46 104h1M51 104h2M55 104h1M60 104h1M62 104h1M65 104h1M67 104h1M73 104h1M76 104h1M84 104h1M86 104h1M94 104h1M96 104h2M101 104h1M107 104h1M122 104h1M125 104h1M3 103h1M14 103h1M18 103h1M35 103h1M37 103h1M48 103h2M52 103h1M55 103h1M62 103h2M67 103h1M74 103h1M79 103h1M87 103h6M95 103h2M102 103h1M104 103h1M107 103h1M110 103h1M114 103h1M117 103h2M121 103h1M11 102h1M52 102h1M55 102h1M64 102h1M74 102h1M103 102h2M112 102h1M117 102h1M121 102h1M125 102h1M4 101h1M16 101h1M30 101h1M37 101h1M39 101h1M52 101h1M59 101h1M69 101h1M81 101h1M84 101h1M87 101h1M91 101h1M104 101h1M121 101h1M25 100h1M51 100h1M62 100h1M81 100h1M111 100h1M15 99h1M41 99h1M45 99h1M51 99h1M62 99h1M67 99h1M22 98h1M40 98h1M44 98h1M50 98h1M60 98h1M70 98h2M73 98h1M89 98h1M91 98h1M97 98h1M101 98h1M111 98h2M120 98h1M3 97h1M6 97h1M10 97h1M12 97h1M17 97h1M19 97h1M22 97h1M24 97h1M29 97h1M34 97h1M36 97h1M40 97h1M50 97h1M58 97h2M65 97h1M70 97h2M73 97h1M78 97h2M81 97h1M86 97h1M88 97h1M91 97h2M100 97h1M0 96h2M3 96h1M16 96h2M21 96h1M24 96h1M30 96h1M37 96h1M40 96h1M44 96h1M46 96h1M48 96h7M56 96h1M58 96h1M61 96h1M63 96h1M65 96h1M68 96h1M84 96h1M91 96h1M97 96h1M100 96h2M112 96h1M119 96h1M14 95h1M18 95h1M32 95h2M42 95h2M49 95h1M53 95h1M63 95h1M67 95h1M81 95h2M88 95h3M104 95h2M108 95h1M123 95h2M3 94h1M12 94h1M14 94h1M18 94h1M26 94h2M32 94h3M39 94h1M42 94h1M44 94h1M46 94h1M48 94h1M53 94h1M60 94h1M66 94h3M88 94h1M91 94h1M93 94h1M96 94h1M98 94h2M119 94h1M21 93h1M26 93h1M40 93h1M96 93h1M42 92h1M51 92h1M64 92h1M69 92h1M75 92h1M85 92h1M21 91h1M39 91h1M51 91h1M68 91h1M85 91h1M55 90h1M16 89h1M32 89h1M0 88h1M6 88h1M11 88h1M16 88h1M18 88h1M32 88h1M49 88h1M56 88h1M76 88h1M84 88h1M117 88h1M49 87h1M110 87h1M11 86h1M33 86h1M42 86h1M48 86h1M51 86h1M73 86h1M94 86h1M101 86h1M110 86h2M30 85h2M46 85h1M54 85h1M72 85h1M74 85h1M112 85h1M4 84h1M11 84h1M16 84h1M39 84h1M45 84h1M53 84h1M70 84h1M72 84h1M96 84h1M108 84h1M4 83h1M11 83h1M48 83h1M53 83h1M57 83h1M60 83h1M66 83h1M69 83h1M76 83h1M80 83h1M90 83h2M96 83h2M99 83h1M4 82h1M30 82h1M40 82h1M66 82h1M97 82h1M3 81h1M5 81h1M14 81h1M28 81h1M30 81h1M40 81h1M43 81h1M54 81h1M79 81h1M89 81h1M100 81h1M103 81h1M107 81h1M113 81h1M119 81h1M0 80h1M2 80h1M11 80h2M16 80h1M18 80h1M24 80h2M38 80h2M41 80h1M46 80h1M48 80h1M55 80h1M57 80h1M59 80h1M64 80h1M68 80h1M76 80h1M79 80h1M92 80h1M96 80h1M101 80h2M108 80h1M112 80h1M114 80h1M123 80h1M1 79h1M28 79h1M32 79h1M37 79h1M49 79h2M71 79h1M93 79h2M97 79h1M104 79h1M113 79h1M118 79h2M1 78h1M8 78h1M18 78h2M21 78h1M26 78h1M35 78h1M37 78h1M42 78h1M45 78h1M47 78h1M49 78h2M53 78h1M55 78h2M58 78h1M62 78h1M64 78h1M67 78h1M71 78h1M73 78h1M78 78h1M85 78h1M98 78h1M108 78h1M110 78h2M118 78h1M121 78h1M123 78h1M0 77h1M7 77h1M15 77h2M31 77h1M37 77h2M41 77h1M45 77h1M50 77h1M59 77h1M63 77h3M67 77h1M71 77h1M75 77h1M82 77h1M85 77h1M90 77h1M95 77h1M99 77h1M101 77h1M105 77h4M110 77h1M112 77h1M9 76h1M11 76h1M16 76h1M26 76h1M28 76h1M33 76h1M35 76h3M43 76h2M48 76h1M51 76h2M56 76h1M58 76h1M64 76h1M73 76h1M77 76h1M80 76h1M87 76h1M89 76h1M93 76h1M95 76h1M97 76h1M100 76h1M111 76h2M120 76h1M1 75h1M14 75h2M22 75h1M26 75h1M38 75h2M41 75h1M49 75h1M51 75h2M54 75h1M58 75h1M67 75h1M78 75h1M80 75h1M87 75h1M102 75h1M104 75h1M112 75h1M117 75h1M122 75h2M7 74h1M15 74h1M21 74h1M26 74h1M55 74h1M70 74h1M77 74h1M80 74h1M95 74h1M104 74h1M109 74h2M119 74h1M9 73h1M15 73h1M19 73h3M28 73h2M33 73h2M48 73h1M54 73h2M64 73h1M66 73h1M80 73h1M86 73h1M92 73h1M94 73h1M106 73h1M108 73h1M114 73h1M121 73h1M123 73h1M125 73h1M1 72h1M3 72h1M8 72h1M18 72h2M23 72h1M27 72h1M30 72h1M32 72h2M40 72h1M42 72h1M45 72h1M54 72h1M61 72h1M66 72h1M68 72h1M70 72h1M82 72h1M101 72h1M106 72h1M117 72h2M121 72h1M2 71h1M8 71h1M10 71h1M18 71h2M32 71h1M34 71h2M38 71h1M40 71h1M42 71h1M44 71h1M47 71h2M50 71h1M52 71h1M58 71h1M62 71h1M66 71h1M71 71h1M80 71h1M84 71h1M101 71h1M104 71h1M109 71h1M111 71h1M113 71h2M117 71h1M119 71h1M1 70h3M9 70h4M15 70h1M17 70h3M25 70h1M28 70h3M36 70h1M54 70h1M56 70h1M65 70h1M69 70h1M71 70h1M74 70h1M76 70h1M89 70h1M103 70h1M105 70h1M113 70h1M124 70h1M4 69h1M6 69h1M13 69h1M21 69h1M24 69h1M39 69h1M41 69h1M52 69h1M56 69h1M58 69h1M61 69h1M65 69h1M68 69h2M82 69h1M88 69h1M90 69h1M92 69h1M97 69h1M108 69h1M110 69h1M3 68h1M6 68h1M11 68h1M13 68h1M21 68h1M24 68h1M27 68h1M34 68h2M55 68h1M58 68h1M68 68h1M70 68h1M92 68h1M94 68h1M98 68h1M102 68h1M108 68h1M112 68h1M118 68h1M120 68h2M0 67h1M3 67h1M6 67h1M24 67h1M26 67h1M30 67h1M39 67h1M44 67h1M52 67h2M56 67h1M63 67h1M65 67h1M68 67h1M70 67h1M78 67h1M84 67h1M88 67h1M91 67h1M93 67h1M101 67h1M111 67h1M118 67h2M125 67h1M2 66h1M5 66h1M8 66h3M13 66h2M16 66h1M18 66h1M22 66h1M29 66h1M34 66h1M43 66h1M47 66h1M56 66h1M60 66h1M65 66h1M68 66h1M77 66h1M79 66h2M85 66h1M88 66h1M96 66h1M98 66h1M109 66h1M111 66h1M115 66h1M118 66h1M125 66h1M9 65h2M16 65h1M27 65h1M37 65h1M45 65h1M52 65h1M57 65h1M60 65h1M63 65h1M68 65h1M79 65h2M92 65h1M103 65h1M117 65h2M120 65h2M4 64h1M11 64h1M17 64h2M23 64h1M27 64h1M29 64h1M33 64h1M42 64h1M48 64h2M51 64h1M54 64h1M64 64h1M68 64h1M77 64h1M80 64h1M95 64h1M110 64h2M115 64h1M117 64h1M123 64h1M7 63h1M18 63h1M28 63h1M33 63h1M41 63h1M45 63h1M47 63h2M51 63h1M54 63h1M62 63h1M67 63h2M85 63h2M91 63h1M97 63h1M99 63h1M108 63h1M110 63h2M113 63h1M117 63h1M119 63h1M18 62h1M20 62h1M23 62h1M35 62h1M41 62h1M50 62h1M53 62h1M62 62h1M69 62h1M75 62h1M78 62h1M84 62h1M104 62h2M108 62h1M119 62h2M8 61h1M10 61h1M12 61h1M19 61h1M36 61h1M45 61h2M52 61h1M59 61h2M63 61h1M67 61h4M72 61h1M79 61h1M84 61h1M97 61h1M102 61h1M106 61h1M108 61h3M113 61h1M117 61h1M3 60h1M8 60h1M28 60h1M32 60h1M51 60h3M56 60h1M58 60h1M60 60h1M73 60h2M82 60h1M98 60h1M102 60h1M106 60h1M110 60h1M113 60h2M117 60h1M121 60h1M123 60h2M4 59h1M8 59h1M12 59h1M32 59h1M36 59h1M45 59h1M47 59h1M61 59h1M77 59h2M96 59h1M107 59h1M112 59h1M23 58h1M58 58h1M84 58h1M7 57h1M9 57h1M14 57h1M19 57h1M23 57h1M35 57h1M47 57h1M49 57h1M55 57h1M67 57h2M73 57h1M88 57h1M95 57h1M97 57h1M99 57h1M102 57h1M113 57h1M117 57h1M1 56h4M12 56h2M18 56h1M20 56h2M29 56h2M39 56h1M46 56h1M48 56h1M55 56h1M57 56h2M67 56h2M70 56h1M73 56h3M79 56h2M94 56h1M96 56h1M100 56h1M112 56h2M120 56h1M1 55h1M4 55h1M13 55h1M17 55h1M21 55h1M30 55h1M37 55h1M43 55h1M47 55h2M57 55h1M59 55h1M61 55h1M67 55h1M70 55h1M72 55h1M76 55h2M85 55h1M93 55h1M95 55h1M100 55h1M102 55h1M104 55h2M110 55h1M115 55h1M117 55h4M1 54h1M15 54h1M23 54h1M44 54h1M51 54h1M64 54h1M72 54h1M79 54h1M85 54h1M97 54h1M109 54h1M120 54h1M12 53h1M19 53h1M22 53h1M27 53h1M33 53h1M48 53h1M55 53h2M60 53h1M66 53h1M82 53h1M85 53h1M93 53h1M99 53h1M102 53h1M109 53h1M111 53h1M116 53h1M0 52h2M5 52h1M7 52h2M16 52h1M18 52h1M22 52h1M25 52h1M32 52h1M39 52h1M47 52h2M68 52h2M84 52h1M102 52h3M114 52h1M120 52h1M0 51h1M5 51h1M8 51h1M15 51h2M18 51h2M27 51h1M31 51h1M33 51h1M62 51h3M70 51h1M72 51h1M74 51h1M83 51h2M87 51h1M91 51h1M99 51h1M105 51h1M123 51h1M1 50h2M5 50h1M10 50h1M24 50h1M33 50h1M38 50h1M50 50h1M59 50h1M64 50h1M69 50h1M73 50h2M80 50h2M83 50h1M98 50h1M102 50h1M110 50h1M113 50h1M122 50h1M5 49h1M11 49h1M15 49h1M18 49h3M24 49h1M29 49h1M31 49h1M41 49h1M46 49h1M48 49h1M63 49h1M68 49h1M70 49h3M86 49h1M93 49h1M99 49h1M109 49h2M112 49h1M117 49h1M119 49h1M123 49h1M0 48h1M5 48h1M9 48h1M12 48h1M15 48h1M17 48h1M27 48h1M29 48h1M31 48h1M60 48h1M68 48h1M72 48h1M76 48h1M91 48h1M94 48h1M96 48h1M99 48h1M102 48h1M104 48h1M108 48h1M110 48h1M115 48h1M123 48h1M125 48h1M6 47h1M17 47h1M21 47h1M37 47h1M49 47h1M55 47h1M64 47h1M71 47h1M74 47h2M82 47h2M92 47h2M97 47h1M106 47h1M125 47h1M5 46h1M9 46h1M11 46h1M18 46h1M22 46h1M26 46h2M30 46h1M32 46h1M36 46h1M45 46h1M50 46h2M54 46h1M62 46h1M65 46h1M68 46h1M74 46h1M80 46h1M86 46h1M91 46h3M108 46h1M118 46h1M124 46h1M0 45h1M24 45h1M33 45h2M36 45h1M45 45h1M62 45h1M64 45h1M70 45h1M75 45h2M78 45h1M85 45h1M105 45h1M107 45h1M109 45h1M116 45h1M1 44h2M6 44h1M8 44h1M11 44h1M14 44h1M28 44h1M36 44h1M40 44h1M46 44h1M63 44h1M73 44h2M84 44h1M89 44h1M96 44h1M98 44h2M104 44h1M111 44h1M117 44h1M1 43h1M3 43h1M6 43h1M19 43h1M22 43h1M33 43h1M46 43h1M48 43h1M68 43h2M75 43h1M79 43h1M96 43h1M100 43h1M103 43h1M109 43h1M112 43h1M115 43h2M118 43h1M125 43h1M2 42h1M4 42h1M8 42h2M18 42h1M22 42h6M38 42h1M51 42h2M56 42h1M86 42h2M89 42h1M91 42h1M93 42h1M96 42h1M99 42h1M103 42h1M105 42h1M107 42h1M113 42h1M119 42h2M0 41h1M2 41h1M5 41h2M11 41h1M15 41h1M25 41h1M31 41h1M33 41h1M42 41h2M46 41h1M49 41h1M51 41h2M59 41h1M69 41h1M80 41h1M101 41h1M103 41h1M106 41h1M109 41h1M112 41h1M115 41h2M125 41h1M7 40h1M12 40h1M14 40h1M16 40h1M18 40h1M22 40h1M33 40h1M39 40h1M41 40h1M57 40h1M67 40h1M74 40h2M78 40h2M81 40h1M95 40h2M98 40h1M101 40h1M105 40h1M107 40h1M112 40h2M120 40h1M124 40h1M5 39h1M10 39h1M14 39h1M31 39h1M38 39h1M41 39h1M49 39h1M65 39h1M73 39h1M82 39h1M87 39h1M89 39h1M96 39h1M115 39h1M119 39h1M8 38h1M10 38h1M14 38h1M26 38h1M28 38h1M30 38h1M37 38h1M49 38h1M58 38h1M70 38h1M73 38h1M80 38h2M85 38h1M105 38h1M107 38h1M109 38h1M115 38h1M117 38h1M123 38h1M4 37h1M18 37h1M22 37h2M29 37h1M34 37h2M37 37h1M44 37h2M49 37h1M58 37h1M60 37h1M62 37h1M70 37h2M73 37h1M76 37h1M85 37h2M98 37h1M101 37h1M103 37h2M112 37h1M1 36h1M6 36h1M22 36h1M24 36h1M35 36h1M37 36h1M42 36h1M62 36h1M64 36h1M85 36h1M88 36h1M93 36h1M106 36h1M109 36h1M116 36h1M7 35h2M11 35h1M16 35h1M20 35h1M24 35h2M29 35h1M35 35h1M54 35h1M65 35h1M69 35h2M74 35h1M91 35h1M98 35h1M107 35h1M113 35h1M27 34h1M40 34h1M42 34h1M56 34h1M67 34h4M78 34h1M84 34h1M107 34h1M113 34h1M117 34h1M121 34h1M123 34h1M4 33h1M8 33h2M21 33h1M37 33h1M48 33h1M50 33h1M53 33h1M55 33h1M64 33h1M66 33h1M68 33h1M84 33h2M96 33h1M100 33h1M110 33h1M118 33h1M120 33h1M4 32h1M12 32h1M20 32h2M25 32h2M33 32h1M36 32h1M42 32h1M46 32h1M48 32h1M53 32h1M72 32h1M78 32h1M88 32h1M99 32h2M115 32h1M125 32h1M15 31h1M44 31h1M54 31h1M56 31h1M64 31h1M69 31h1M76 31h1M90 31h2M100 31h1M115 31h1M125 31h1M14 30h2M28 30h1M31 30h1M48 30h1M58 30h1M64 30h1M69 30h1M77 30h1M85 30h4M90 30h1M92 30h1M104 30h1M115 30h1M123 30h1M5 29h1M22 29h1M32 29h3M37 29h1M39 29h2M44 29h1M52 29h1M57 29h4M63 29h1M66 29h1M77 29h1M86 29h1M94 29h1M102 29h1M108 29h1M115 29h1M1 28h2M6 28h1M19 28h1M33 28h1M42 28h1M51 28h1M61 28h1M65 28h3M75 28h1M82 28h1M87 28h1M93 28h1M101 28h1M107 28h1M110 28h1M115 28h1M120 28h2M124 28h2M0 27h1M5 27h1M23 27h1M34 27h1M38 27h1M42 27h1M46 27h2M59 27h1M62 27h1M81 27h1M87 27h1M89 27h1M101 27h1M116 27h1M119 27h1M8 26h1M17 26h1M28 26h1M33 26h1M43 26h2M48 26h1M51 26h1M61 26h1M67 26h1M76 26h2M83 26h1M93 26h1M96 26h1M105 26h1M107 26h1M109 26h2M115 26h1M118 26h2M122 26h1M124 26h2M2 25h2M9 25h1M12 25h1M14 25h1M21 25h1M39 25h1M43 25h2M49 25h1M56 25h1M60 25h1M78 25h1M82 25h1M86 25h1M89 25h1M94 25h1M96 25h1M101 25h1M105 25h1M108 25h1M110 25h1M115 25h1M123 25h1M3 24h1M7 24h2M16 24h1M20 24h2M25 24h1M28 24h1M37 24h1M41 24h1M43 24h1M59 24h1M61 24h1M63 24h1M73 24h1M84 24h1M93 24h1M97 24h1M112 24h1M115 24h1M125 24h1M0 23h1M23 23h3M28 23h1M30 23h2M46 23h1M52 23h2M60 23h2M64 23h1M71 23h1M76 23h1M79 23h1M81 23h1M84 23h1M87 23h1M101 23h1M110 23h1M113 23h1M116 23h2M119 23h1M121 23h1M124 23h1M4 22h1M16 22h1M21 22h1M25 22h1M31 22h1M34 22h1M36 22h1M41 22h1M46 22h1M52 22h1M55 22h1M64 22h2M68 22h2M74 22h2M79 22h1M84 22h1M88 22h2M100 22h1M104 22h1M106 22h1M117 22h1M124 22h2M0 21h1M3 21h4M10 21h1M14 21h1M18 21h2M21 21h1M28 21h1M33 21h1M42 21h1M47 21h1M49 21h1M51 21h2M56 21h1M69 21h1M77 21h1M83 21h1M86 21h1M89 21h1M93 21h1M101 21h1M109 21h1M112 21h3M3 20h1M31 20h1M38 20h1M44 20h1M47 20h1M49 20h1M57 20h1M63 20h1M67 20h1M70 20h1M73 20h2M81 20h1M91 20h2M96 20h1M112 20h2M118 20h1M124 20h1M3 19h1M10 19h1M17 19h1M21 19h1M24 19h1M27 19h1M35 19h1M48 19h1M55 19h1M59 19h1M62 19h1M67 19h1M70 19h1M84 19h1M95 19h2M99 19h1M103 19h1M114 19h1M116 19h2M120 19h2M5 18h1M21 18h1M30 18h1M35 18h1M38 18h1M54 18h2M59 18h1M74 18h1M95 18h1M105 18h1M123 18h1M9 17h2M17 17h2M21 17h1M25 17h1M29 17h2M35 17h1M37 17h2M45 17h1M47 17h1M57 17h1M70 17h1M73 17h1M79 17h1M91 17h1M97 17h1M104 17h1M106 17h1M1 16h1M4 16h1M8 16h1M15 16h1M18 16h1M25 16h1M34 16h1M49 16h1M55 16h2M65 16h1M67 16h1M70 16h1M73 16h1M86 16h1M89 16h1M92 16h1M109 16h2M112 16h1M122 16h2M3 15h2M8 15h1M12 15h1M14 15h1M26 15h1M39 15h2M52 15h1M55 15h2M59 15h1M65 15h2M69 15h1M75 15h1M82 15h1M87 15h2M92 15h1M100 15h1M108 15h2M112 15h1M125 15h1M1 9h1M4 9h1M6 9h1M11 9h1M24 9h1M29 9h1M35 9h1M38 9h1M42 9h1M46 9h1M55 9h1M57 9h1M60 9h1M62 9h1M70 9h1M76 9h1M82 9h2M88 9h2M96 9h1M101 9h1M104 9h1M115 9h1M123 9h1M1 8h1M18 8h1M20 8h1M39 8h1M46 8h2M79 8h2M87 8h1M100 8h1M109 8h1M115 8h1M1 7h2M5 7h2M10 7h1M16 7h2M19 7h2M25 7h1M28 7h1M30 7h1M38 7h1M53 7h1M56 7h1M65 7h2M77 7h1M79 7h2M85 7h1M94 7h1M98 7h2M101 7h1M106 7h1M108 7h1M117 7h1M1 6h1M8 6h1M14 6h1M23 6h2M33 6h1M35 6h2M41 6h1M45 6h3M50 6h1M55 6h2M61 6h3M66 6h2M71 6h1M73 6h1M76 6h1M85 6h1M93 6h1M95 6h1M99 6h1M102 6h2M117 6h2M122 6h1M7 5h1M20 5h1M23 5h2M46 5h1M51 5h1M55 5h1M63 5h1M66 5h1M77 5h1M80 5h1M86 5h1M93 5h1M102 5h3M107 5h1M110 5h1M113 5h1M121 5h2M2 4h1M5 4h1M11 4h1M17 4h1M21 4h1M23 4h1M42 4h1M44 4h1M51 4h1M63 4h1M68 4h1M75 4h2M93 4h1M97 4h1M101 4h2M105 4h2M114 4h1M118 4h1M122 4h1M7 3h1M25 3h1M32 3h1M36 3h1M46 3h1M48 3h1M62 3h1M64 3h3M70 3h1M79 3h1M94 3h1M98 3h1M114 3h1M117 3h1M121 3h1M5 2h2M9 2h1M12 2h1M23 2h1M33 2h1M35 2h2M41 2h1M55 2h1M60 2h1M64 2h1M72 2h1M78 2h1M80 2h2M84 2h1M86 2h1M90 2h1M94 2h1M97 2h1M104 2h1M118 2h1M120 2h1M122 2h1M2 1h1M13 1h1M24 1h1M30 1h1M33 1h3M38 1h1M51 1h2M59 1h1M61 1h1M75 1h1M77 1h1M91 1h1M95 1h1M97 1h1M108 1h1M112 1h1M117 1h1M122 1h1M2 0h1M7 0h1M19 0h1M24 0h1M26 0h1M30 0h1M34 0h1M48 0h1M54 0h1M57 0h1M76 0h1M81 0h1"/><path stroke="#25ac82" d="M0 116h1M7 116h1M13 116h1M23 116h1M27 116h2M45 116h1M73 116h1M97 116h1M102 116h1M108 116h1M14 115h1M24 115h1M28 115h1M32 115h1M43 115h1M102 115h1M111 115h2M115 115h1M122 115h1M8 114h1M10 114h1M15 114h1M25 114h1M43 114h1M57 114h1M61 114h1M63 114h2M73 114h1M82 114h2M93 114h1M102 114h1M113 114h2M122 114h1M124 114h1M0 113h1M3 113h1M7 113h2M13 113h2M46 113h1M56 113h1M61 113h1M65 113h1M74 113h1M77 113h2M81 113h1M88 113h1M108 113h1M120 113h1M3 112h1M8 112h1M26 112h1M36 112h1M45 112h1M66 112h1M81 112h2M88 112h3M96 112h2M107 112h1M118 112h1M0 111h1M3 111h1M5 111h2M12 111h1M19 111h1M38 111h1M61 111h1M72 111h1M81 111h1M84 111h2M89 111h2M94 111h2M97 111h1M107 111h1M115 111h3M122 111h3M12 110h2M25 110h1M27 110h1M35 110h1M37 110h1M44 110h1M58 110h2M75 110h1M80 110h2M87 110h1M89 110h2M95 110h1M105 110h2M116 110h2M123 110h1M1 109h2M10 109h1M13 109h1M19 109h1M21 109h1M24 109h3M35 109h2M54 109h1M60 109h1M65 109h2M69 109h1M80 109h1M85 109h1M93 109h1M100 109h1M102 109h1M112 109h3M118 109h1M120 109h1M7 108h1M34 108h1M46 108h1M50 108h1M90 108h1M15 107h1M24 107h1M37 107h2M49 107h1M63 107h1M65 107h1M70 107h1M72 107h1M77 107h1M93 107h1M103 107h2M109 107h2M1 106h1M9 106h1M12 106h1M17 106h1M21 106h1M40 106h1M47 106h1M51 106h1M54 106h1M56 106h1M59 106h1M75 106h1M79 106h1M86 106h2M91 106h1M98 106h1M100 106h1M108 106h1M115 106h2M118 106h1M121 106h4M12 105h1M16 105h2M20 105h1M29 105h1M31 105h1M34 105h1M37 105h1M40 105h1M44 105h1M53 105h1M55 105h1M62 105h1M69 105h1M75 105h1M80 105h1M97 105h1M102 105h1M105 105h1M110 105h1M121 105h1M1 104h1M4 104h2M16 104h1M18 104h1M29 104h1M35 104h1M47 104h1M57 104h1M59 104h1M61 104h1M63 104h1M68 104h1M77 104h1M79 104h1M83 104h1M85 104h1M87 104h3M114 104h1M116 104h1M118 104h1M5 103h1M15 103h1M19 103h1M29 103h1M31 103h1M98 103h1M101 103h1M106 103h1M108 103h1M111 103h1M116 103h1M0 102h1M37 102h1M42 102h1M77 102h1M106 102h1M111 101h2M4 100h1M39 100h1M45 100h1M101 100h1M112 100h1M17 99h1M38 99h1M96 99h1M101 99h1M112 99h1M0 98h1M5 98h1M11 98h1M14 98h1M34 98h2M37 98h2M41 98h1M45 98h2M56 98h1M61 98h1M64 98h1M67 98h1M78 98h2M85 98h1M99 98h1M104 98h1M108 98h1M119 98h1M0 97h1M7 97h1M9 97h1M11 97h1M16 97h1M37 97h1M44 97h2M52 97h2M56 97h2M60 97h2M64 97h1M77 97h1M85 97h1M87 97h1M89 97h2M97 97h2M111 97h1M113 97h1M116 97h1M119 97h1M6 96h1M15 96h1M18 96h1M32 96h1M81 96h1M86 96h1M89 96h1M95 96h2M98 96h1M111 96h1M114 96h1M121 96h1M123 96h1M9 95h1M13 95h1M39 95h2M45 95h1M59 95h1M61 95h2M68 95h1M83 95h1M95 95h1M100 95h1M2 94h1M9 94h1M13 94h1M25 94h1M31 94h1M62 94h1M69 94h1M71 94h1M76 94h2M79 94h1M83 94h1M89 94h2M112 94h1M120 94h1M96 92h1M16 91h1M20 91h1M28 88h1M50 88h1M72 88h1M86 88h1M88 88h1M72 87h1M49 86h1M70 86h1M72 86h1M74 86h1M102 86h1M4 85h1M94 85h1M7 84h1M10 84h1M30 84h1M46 84h1M54 84h1M60 84h2M7 83h1M39 83h2M70 83h1M18 82h1M57 82h1M33 81h1M37 81h1M42 81h1M57 81h1M97 81h1M1 80h1M5 80h1M9 80h1M28 80h1M36 80h1M40 80h1M42 80h1M49 80h1M61 80h1M65 80h1M73 80h1M81 80h1M84 80h1M89 80h1M94 80h1M97 80h1M104 80h1M110 80h1M119 80h1M5 79h1M14 79h2M24 79h1M33 79h1M38 79h2M47 79h1M79 79h1M107 79h1M110 79h1M116 79h1M120 79h1M27 78h2M33 78h1M52 78h1M57 78h1M65 78h1M74 78h1M76 78h1M82 78h1M84 78h1M90 78h2M94 78h1M101 78h1M113 78h1M117 78h1M2 77h1M10 77h1M21 77h1M23 77h1M27 77h1M33 77h1M35 77h1M42 77h1M56 77h1M62 77h1M74 77h1M78 77h3M83 77h2M87 77h2M91 77h1M94 77h1M96 77h1M111 77h1M6 76h1M10 76h1M13 76h2M23 76h1M57 76h1M79 76h1M85 76h1M88 76h1M96 76h1M107 76h2M113 76h1M116 76h1M125 76h1M6 75h4M19 75h1M31 75h1M37 75h1M40 75h1M44 75h1M46 75h2M56 75h1M64 75h1M71 75h1M83 75h1M85 75h1M96 75h3M108 75h2M113 75h1M120 75h1M124 75h1M5 74h2M23 74h1M38 74h1M40 74h1M49 74h1M67 74h1M83 74h2M86 74h2M97 74h1M102 74h1M124 74h2M5 73h2M11 73h1M23 73h2M40 73h1M47 73h1M52 73h1M61 73h1M67 73h1M71 73h1M81 73h2M84 73h1M89 73h1M101 73h1M105 73h1M118 73h1M120 73h1M15 72h1M24 72h2M28 72h1M38 72h1M43 72h1M52 72h1M62 72h1M69 72h1M81 72h1M94 72h1M100 72h1M103 72h1M105 72h1M107 72h1M110 72h1M116 72h1M4 71h1M9 71h1M11 71h2M14 71h1M16 71h1M24 71h1M29 71h2M49 71h1M60 71h2M70 71h1M81 71h1M90 71h1M94 71h2M103 71h1M105 71h1M115 71h2M120 71h1M124 71h1M8 70h1M23 70h1M26 70h1M35 70h1M38 70h1M43 70h1M46 70h3M51 70h1M68 70h1M78 70h1M84 70h1M86 70h1M90 70h1M93 70h2M102 70h1M116 70h2M121 70h1M5 69h1M8 69h1M10 69h1M23 69h1M26 69h1M28 69h1M36 69h1M46 69h1M48 69h1M64 69h1M77 69h1M87 69h1M89 69h1M105 69h1M107 69h1M113 69h1M116 69h1M121 69h1M0 68h2M10 68h1M15 68h1M29 68h1M31 68h1M36 68h1M38 68h1M41 68h1M48 68h1M51 68h2M61 68h1M69 68h1M77 68h1M87 68h1M105 68h1M107 68h1M111 68h1M7 67h1M11 67h1M19 67h2M29 67h1M34 67h1M38 67h1M40 67h2M48 67h1M51 67h1M55 67h1M58 67h1M61 67h1M72 67h1M77 67h1M79 67h1M96 67h1M98 67h1M105 67h1M107 67h1M112 67h1M121 67h2M1 66h1M24 66h1M26 66h1M36 66h1M39 66h2M63 66h2M95 66h1M99 66h1M117 66h1M119 66h1M121 66h2M14 65h1M26 65h1M36 65h1M41 65h1M43 65h1M50 65h1M56 65h1M59 65h1M82 65h1M93 65h1M119 65h1M13 64h1M21 64h1M44 64h2M50 64h1M58 64h3M62 64h2M67 64h1M71 64h1M83 64h1M90 64h1M92 64h3M102 64h2M107 64h1M109 64h1M114 64h1M118 64h1M120 64h1M124 64h1M0 63h1M6 63h1M15 63h1M29 63h1M32 63h1M36 63h1M38 63h1M52 63h1M59 63h3M66 63h1M92 63h1M96 63h1M100 63h2M104 63h1M109 63h1M121 63h1M0 62h3M4 62h1M12 62h1M21 62h2M29 62h1M31 62h2M43 62h1M45 62h1M63 62h2M67 62h1M70 62h1M74 62h1M87 62h1M91 62h1M99 62h1M101 62h1M106 62h1M110 62h2M118 62h1M124 62h1M1 61h1M4 61h1M7 61h1M13 61h1M24 61h1M27 61h1M33 61h1M40 61h2M44 61h1M47 61h1M51 61h1M56 61h1M65 61h1M73 61h1M80 61h1M82 61h1M86 61h1M93 61h1M99 61h1M114 61h1M121 61h1M4 60h1M9 60h1M38 60h1M41 60h2M47 60h1M59 60h1M65 60h1M77 60h1M88 60h1M91 60h1M107 60h1M115 60h1M16 59h1M23 59h1M58 59h1M82 59h1M90 59h1M95 59h1M98 59h1M113 59h1M121 59h1M59 58h1M121 58h1M0 57h1M4 57h1M27 57h1M34 57h1M59 57h3M103 57h1M123 57h1M7 56h1M15 56h2M26 56h2M34 56h1M40 56h2M43 56h2M47 56h1M49 56h1M54 56h1M59 56h1M77 56h1M85 56h1M88 56h1M93 56h1M95 56h1M99 56h1M102 56h1M104 56h2M117 56h1M119 56h1M121 56h2M0 55h1M2 55h1M5 55h1M15 55h1M40 55h2M56 55h1M81 55h1M97 55h1M5 54h1M8 54h1M19 54h1M26 54h1M47 54h1M90 54h1M0 53h1M2 53h1M10 53h1M16 53h1M20 53h1M23 53h1M25 53h1M34 53h1M36 53h1M51 53h2M59 53h1M61 53h1M68 53h4M75 53h1M79 53h1M83 53h2M91 53h2M97 53h1M103 53h2M120 53h1M124 53h2M10 52h1M14 52h2M17 52h1M33 52h1M49 52h1M52 52h1M54 52h1M62 52h1M64 52h2M72 52h1M76 52h2M81 52h1M83 52h1M94 52h1M1 51h1M7 51h1M10 51h2M21 51h1M29 51h2M34 51h1M52 51h1M66 51h1M69 51h1M73 51h1M77 51h2M88 51h2M97 51h1M103 51h1M120 51h1M4 50h1M11 50h1M18 50h2M27 50h1M29 50h1M31 50h1M37 50h1M41 50h1M45 50h1M48 50h1M63 50h1M70 50h1M72 50h1M99 50h1M117 50h1M6 49h1M25 49h1M27 49h1M36 49h1M39 49h1M45 49h1M49 49h1M54 49h1M59 49h1M65 49h2M81 49h2M94 49h1M98 49h1M111 49h1M122 49h1M2 48h1M11 48h1M16 48h1M18 48h1M25 48h1M30 48h1M34 48h1M40 48h1M49 48h1M57 48h1M66 48h1M70 48h1M75 48h1M88 48h2M100 48h2M112 48h2M122 48h1M124 48h1M11 47h1M20 47h1M54 47h1M58 47h1M67 47h1M70 47h1M76 47h1M80 47h1M84 47h1M107 47h1M3 46h1M15 46h1M19 46h1M28 46h1M33 46h1M41 46h1M44 46h1M67 46h1M71 46h1M75 46h1M83 46h2M95 46h1M104 46h2M3 45h1M9 45h2M17 45h1M19 45h2M27 45h2M32 45h1M51 45h1M58 45h1M68 45h1M72 45h1M104 45h1M108 45h1M112 45h1M115 45h1M117 45h1M125 45h1M3 44h1M9 44h1M15 44h1M17 44h1M24 44h1M34 44h1M41 44h1M43 44h1M50 44h2M56 44h1M69 44h1M72 44h1M75 44h1M78 44h1M80 44h1M87 44h1M102 44h1M116 44h1M120 44h1M0 43h1M5 43h1M18 43h1M20 43h1M31 43h1M42 43h1M44 43h1M105 43h1M119 43h1M0 42h1M5 42h1M11 42h1M19 42h1M33 42h2M42 42h3M47 42h1M59 42h3M64 42h3M68 42h1M77 42h1M79 42h1M84 42h2M90 42h1M95 42h1M109 42h1M111 42h1M116 42h2M125 42h1M7 41h1M26 41h3M34 41h1M60 41h1M63 41h1M65 41h1M68 41h1M74 41h1M76 41h1M84 41h1M87 41h1M90 41h2M117 41h1M0 40h1M6 40h1M9 40h3M21 40h1M31 40h1M35 40h1M53 40h1M58 40h1M63 40h1M68 40h1M73 40h1M76 40h1M80 40h1M90 40h2M109 40h1M111 40h1M115 40h1M117 40h1M119 40h1M122 40h1M12 39h1M16 39h1M18 39h1M34 39h1M40 39h1M44 39h1M51 39h1M59 39h1M85 39h1M103 39h1M111 39h1M116 39h1M4 38h2M7 38h1M16 38h1M23 38h1M29 38h1M34 38h1M39 38h1M45 38h1M59 38h1M79 38h1M97 38h2M101 38h1M104 38h1M114 38h1M116 38h1M3 37h1M5 37h1M46 37h1M55 37h1M83 37h1M88 37h3M97 37h1M99 37h1M102 37h1M108 37h1M110 37h1M114 37h1M117 37h1M123 37h1M13 36h1M19 36h2M25 36h1M91 36h1M105 36h1M108 36h1M114 36h1M22 35h1M42 35h1M56 35h1M61 35h2M66 35h2M71 35h1M79 35h1M106 35h1M112 35h1M116 35h3M122 35h1M125 35h1M8 34h2M37 34h1M48 34h1M61 34h1M65 34h2M71 34h1M83 34h1M119 34h2M122 34h1M1 33h1M69 33h1M78 33h1M95 33h1M119 33h1M123 33h1M125 33h1M30 32h1M55 32h1M64 32h1M95 32h1M98 32h1M103 32h1M25 31h1M85 31h1M104 31h1M0 30h1M21 30h1M39 30h2M44 30h1M47 30h1M56 30h1M65 30h1M73 30h1M81 30h1M83 30h1M89 30h1M91 30h1M93 30h1M96 30h1M107 30h1M112 30h1M114 30h1M119 30h1M122 30h1M125 30h1M1 29h2M17 29h1M21 29h1M31 29h1M49 29h2M61 29h1M65 29h1M72 29h1M81 29h2M87 29h2M92 29h2M111 29h2M116 29h1M118 29h1M125 29h1M0 28h1M5 28h1M34 28h1M47 28h1M74 28h1M79 28h1M96 28h1M103 28h1M116 28h1M118 28h1M28 27h1M51 27h1M75 27h1M103 27h1M108 27h1M120 27h1M4 26h1M6 26h1M9 26h1M12 26h1M21 26h1M27 26h1M37 26h1M39 26h1M50 26h1M58 26h1M70 26h1M75 26h1M81 26h1M95 26h1M98 26h1M116 26h1M123 26h1M5 25h2M8 25h1M13 25h1M18 25h1M20 25h1M25 25h1M37 25h1M42 25h1M46 25h3M54 25h2M61 25h1M63 25h1M69 25h2M72 25h1M74 25h1M87 25h1M97 25h1M107 25h1M120 25h1M125 25h1M2 24h1M12 24h3M29 24h1M38 24h1M46 24h1M48 24h2M53 24h2M68 24h1M96 24h1M101 24h1M108 24h1M110 24h1M114 24h1M4 23h1M20 23h3M29 23h1M36 23h1M40 23h1M43 23h1M49 23h2M56 23h1M62 23h2M69 23h1M74 23h1M80 23h1M95 23h1M100 23h1M103 23h1M108 23h1M115 23h1M122 23h1M20 22h1M22 22h1M32 22h1M42 22h1M51 22h1M81 22h1M93 22h1M107 22h2M113 22h1M118 22h1M121 22h1M1 21h1M7 21h2M30 21h2M35 21h1M43 21h1M46 21h1M57 21h3M61 21h1M63 21h2M67 21h1M70 21h1M73 21h1M75 21h1M79 21h1M91 21h1M105 21h4M115 21h1M117 21h1M120 21h1M124 21h2M7 20h1M32 20h1M34 20h1M40 20h1M55 20h1M59 20h2M66 20h1M79 20h1M84 20h1M97 20h1M102 20h2M105 20h1M117 20h1M6 19h1M9 19h1M13 19h1M38 19h1M40 19h1M47 19h1M53 19h1M58 19h1M79 19h2M83 19h1M92 19h1M105 19h2M9 18h1M18 18h1M22 18h1M27 18h1M37 18h1M47 18h1M80 18h1M11 17h1M13 17h1M23 17h1M28 17h1M55 17h1M75 17h1M80 17h1M85 17h1M109 17h1M119 17h1M122 17h2M10 16h4M19 16h2M28 16h1M40 16h1M42 16h1M45 16h1M47 16h1M61 16h2M71 16h1M79 16h1M83 16h1M85 16h1M87 16h1M90 16h1M118 16h1M120 16h1M2 15h1M10 15h1M13 15h1M15 15h1M19 15h1M25 15h1M29 15h1M32 15h1M45 15h1M48 15h1M61 15h2M71 15h1M76 15h1M79 15h1M90 15h2M102 15h2M110 15h1M118 15h3M91 12h1M15 9h1M21 9h1M26 9h1M28 9h1M30 9h1M41 9h1M50 9h2M75 9h1M81 9h1M87 9h1M91 9h2M94 9h2M102 9h1M105 9h1M109 9h1M111 9h2M116 9h1M5 8h1M11 8h1M17 8h1M25 8h2M28 8h2M37 8h1M41 8h1M50 8h1M54 8h1M57 8h2M63 8h1M65 8h1M77 8h1M82 8h2M85 8h2M89 8h1M91 8h2M99 8h1M101 8h1M117 8h1M0 7h1M3 7h1M11 7h1M13 7h1M21 7h3M33 7h2M36 7h2M50 7h1M60 7h2M63 7h2M71 7h1M73 7h1M82 7h1M86 7h1M90 7h1M93 7h1M96 7h1M102 7h1M105 7h1M107 7h1M111 7h1M118 7h1M0 6h1M16 6h2M19 6h1M44 6h1M52 6h1M64 6h1M69 6h1M72 6h1M74 6h1M80 6h1M90 6h1M97 6h1M104 6h1M125 6h1M16 5h1M19 5h1M21 5h1M32 5h1M39 5h1M47 5h1M68 5h2M85 5h1M90 5h2M99 5h1M109 5h1M112 5h1M117 5h1M6 4h2M9 4h1M19 4h2M24 4h1M37 4h1M47 4h1M55 4h1M62 4h1M65 4h1M74 4h1M83 4h1M86 4h1M100 4h1M115 4h1M117 4h1M121 4h1M11 3h2M22 3h1M24 3h1M26 3h1M43 3h1M53 3h1M78 3h1M84 3h1M101 3h1M115 3h1M118 3h1M0 2h2M8 2h1M18 2h2M28 2h1M30 2h1M44 2h1M47 2h1M51 2h1M62 2h1M66 2h1M73 2h1M76 2h1M93 2h1M95 2h1M100 2h1M111 2h2M121 2h1M0 1h1M8 1h1M16 1h1M19 1h1M22 1h1M25 1h4M44 1h2M54 1h2M76 1h1M79 1h1M81 1h1M93 1h1M98 1h1M105 1h1M120 1h1M23 0h1M43 0h1M55 0h1M58 0h1M122 0h1"/><path stroke="#2db27d" d="M111 118h1M43 117h1M125 117h1M5 116h1M8 116h1M12 116h1M15 116h1M29 116h1M59 116h1M83 116h1M96 116h1M103 116h1M110 116h1M23 115h1M25 115h1M31 115h1M36 115h1M73 115h1M80 115h1M99 115h1M103 115h1M114 115h1M7 114h1M23 114h1M28 114h2M34 114h1M36 114h1M42 114h1M50 114h2M77 114h2M88 114h1M109 114h1M115 114h1M118 114h1M6 113h1M12 113h1M15 113h1M30 113h1M36 113h1M40 113h1M45 113h1M50 113h1M63 113h1M73 113h1M83 113h1M89 113h1M96 113h2M105 113h1M107 113h1M111 113h1M114 113h1M116 113h2M123 113h1M4 112h1M30 112h1M32 112h1M54 112h1M59 112h1M61 112h1M63 112h1M78 112h1M86 112h1M95 112h1M99 112h1M102 112h1M106 112h1M109 112h1M111 112h1M113 112h2M117 112h1M120 112h1M123 112h1M9 111h1M15 111h1M23 111h1M25 111h1M27 111h5M46 111h2M62 111h1M68 111h1M71 111h1M77 111h1M82 111h1M88 111h1M98 111h3M103 111h2M106 111h1M109 111h1M119 111h1M125 111h1M0 110h2M7 110h1M9 110h1M18 110h1M20 110h2M42 110h1M49 110h1M52 110h1M55 110h1M57 110h1M60 110h1M77 110h1M88 110h1M96 110h1M107 110h1M111 110h1M0 109h1M7 109h1M20 109h1M33 109h1M39 109h1M48 109h3M59 109h1M68 109h1M86 109h1M88 109h1M101 109h1M111 109h1M116 109h2M38 108h1M49 108h1M52 108h1M64 108h2M91 108h1M98 108h1M3 107h1M7 107h1M46 107h1M73 107h2M125 107h1M0 106h1M2 106h1M4 106h1M14 106h1M20 106h1M35 106h1M37 106h3M42 106h1M49 106h2M52 106h2M61 106h2M65 106h1M67 106h1M69 106h1M71 106h1M85 106h1M93 106h1M102 106h1M110 106h1M112 106h1M119 106h1M4 105h2M8 105h1M14 105h1M27 105h1M39 105h1M51 105h1M66 105h1M68 105h1M70 105h1M79 105h1M81 105h1M87 105h1M89 105h1M100 105h2M104 105h1M107 105h1M109 105h1M113 105h4M122 105h1M124 105h1M8 104h1M19 104h1M30 104h2M48 104h1M66 104h1M111 104h1M123 104h1M6 103h1M57 103h1M76 103h1M103 103h1M16 102h1M36 101h1M13 98h1M32 98h1M48 98h1M54 98h1M62 98h1M72 98h1M87 98h1M94 98h1M103 98h1M114 98h1M117 98h1M121 98h1M13 97h1M32 97h1M46 97h2M62 97h1M96 97h1M110 97h1M120 97h2M7 96h1M9 96h2M13 96h1M45 96h1M59 96h1M62 96h1M88 96h1M90 96h1M103 96h1M108 96h1M110 96h1M116 96h2M122 96h1M6 95h2M17 95h1M112 95h1M4 94h1M10 94h1M40 94h2M59 94h1M61 94h1M70 94h1M78 94h1M82 94h1M95 94h1M105 94h1M122 94h1M21 92h1M26 92h1M40 92h1M1 88h1M33 85h1M48 85h1M59 84h1M18 81h1M88 81h1M3 80h1M13 80h2M33 80h1M37 80h1M43 80h1M50 80h1M70 80h1M98 80h1M100 80h1M103 80h1M113 80h1M118 80h1M36 79h1M55 79h1M83 79h1M14 78h2M36 78h1M38 78h1M79 78h1M97 78h1M99 78h1M1 77h1M6 77h1M9 77h1M11 77h1M13 77h2M19 77h1M24 77h2M28 77h1M36 77h1M43 77h1M51 77h1M53 77h1M58 77h1M73 77h1M76 77h1M97 77h1M116 77h2M2 76h1M5 76h1M19 76h1M25 76h1M76 76h1M98 76h1M123 76h1M2 75h1M13 75h1M23 75h1M25 75h1M76 75h2M79 75h1M86 75h1M89 75h1M95 75h1M100 75h1M121 75h1M9 74h1M25 74h1M31 74h1M47 74h1M51 74h1M71 74h1M117 74h1M3 73h1M16 73h2M26 73h1M30 73h1M38 73h1M42 73h1M45 73h1M49 73h1M62 73h1M70 73h1M74 73h1M77 73h2M91 73h1M95 73h1M102 73h2M115 73h1M5 72h1M16 72h2M31 72h1M49 72h1M56 72h1M74 72h1M87 72h1M91 72h2M95 72h1M102 72h1M119 72h2M123 72h2M1 71h1M13 71h1M17 71h1M25 71h1M27 71h2M31 71h1M54 71h2M57 71h1M59 71h1M64 71h1M69 71h1M77 71h1M86 71h1M93 71h1M99 71h1M102 71h1M121 71h1M5 70h1M13 70h1M22 70h1M31 70h1M59 70h1M79 70h1M87 70h2M107 70h1M111 70h1M3 69h1M29 69h1M31 69h1M35 69h1M40 69h1M51 69h1M59 69h1M76 69h1M86 69h1M100 69h1M102 69h1M117 69h1M4 68h1M17 68h1M22 68h1M40 68h1M57 68h1M59 68h1M86 68h1M117 68h1M2 67h1M4 67h1M10 67h1M13 67h1M15 67h1M22 67h1M36 67h1M47 67h1M66 67h1M103 67h1M109 67h1M117 67h1M4 66h1M15 66h1M38 66h1M72 66h1M86 66h2M92 66h2M101 66h1M112 66h1M120 66h1M4 65h1M24 65h1M64 65h1M66 65h1M72 65h1M95 65h1M124 65h1M9 64h1M14 64h1M19 64h1M25 64h1M37 64h1M52 64h1M56 64h2M66 64h1M72 64h1M79 64h1M100 64h1M104 64h2M108 64h1M119 64h1M121 64h1M10 63h1M13 63h2M24 63h1M27 63h1M37 63h1M42 63h2M56 63h1M79 63h1M90 63h1M93 63h1M105 63h3M112 63h1M123 63h1M8 62h1M14 62h2M36 62h1M38 62h2M46 62h3M51 62h2M54 62h2M60 62h1M65 62h2M73 62h1M85 62h1M88 62h1M92 62h1M96 62h2M107 62h1M109 62h1M113 62h1M117 62h1M26 61h1M28 61h1M38 61h2M42 61h1M87 61h2M96 61h1M98 61h1M115 61h1M123 61h2M2 60h1M12 60h1M40 60h1M45 60h1M87 60h1M108 60h1M112 60h1M1 59h1M3 59h1M40 59h1M46 59h1M108 59h1M24 57h1M109 57h1M114 57h1M118 57h1M0 56h1M14 56h1M17 56h1M19 56h1M24 56h1M56 56h1M61 56h1M81 56h1M101 56h1M114 56h1M118 56h1M123 56h1M26 55h1M35 55h1M44 55h1M60 55h1M79 55h1M103 55h1M109 55h1M75 54h1M101 54h1M1 53h1M3 53h1M5 53h1M14 53h2M17 53h1M30 53h1M49 53h1M54 53h1M62 53h1M72 53h1M86 53h1M100 53h1M30 52h1M34 52h1M36 52h1M82 52h1M91 52h1M101 52h1M113 52h1M116 52h1M13 51h1M22 51h1M32 51h1M38 51h1M48 51h1M65 51h1M80 51h1M100 51h3M113 51h2M116 51h2M8 50h1M21 50h2M30 50h1M32 50h1M39 50h1M66 50h1M82 50h1M86 50h4M103 50h1M123 50h1M2 49h1M21 49h1M33 49h1M50 49h1M67 49h1M83 49h1M88 49h2M107 49h1M8 48h1M10 48h1M13 48h1M20 48h1M32 48h1M54 48h1M58 48h1M71 48h1M80 48h1M83 48h2M92 48h2M97 48h1M105 48h1M111 48h1M119 48h1M3 47h1M33 47h1M50 47h1M105 47h1M7 46h1M17 46h1M20 46h1M31 46h1M49 46h1M58 46h1M70 46h1M72 46h1M76 46h1M96 46h1M106 46h2M22 45h2M26 45h1M31 45h1M41 45h1M44 45h1M49 45h1M5 44h1M10 44h1M12 44h1M18 44h1M23 44h1M26 44h2M38 44h1M42 44h1M44 44h1M55 44h1M64 44h1M79 44h1M81 44h2M85 44h1M103 44h1M109 44h1M112 44h1M114 44h2M118 44h2M123 44h1M125 44h1M12 43h1M32 43h1M47 43h1M102 43h1M114 43h1M1 42h1M6 42h1M12 42h1M28 42h1M31 42h1M35 42h1M39 42h1M63 42h1M67 42h1M69 42h2M75 42h1M83 42h1M92 42h1M94 42h1M100 42h1M112 42h1M115 42h1M1 41h1M3 41h1M19 41h1M35 41h1M38 41h1M58 41h1M61 41h1M67 41h1M70 41h2M75 41h1M93 41h1M102 41h1M114 41h1M1 40h1M3 40h1M5 40h1M19 40h1M26 40h5M32 40h1M42 40h1M52 40h1M65 40h1M71 40h1M84 40h1M87 40h1M94 40h1M102 40h1M106 40h1M121 40h1M3 39h1M15 39h1M60 39h1M93 39h1M95 39h1M104 39h1M110 39h1M114 39h1M12 38h1M20 38h1M25 38h1M41 38h1M46 38h2M50 38h1M60 38h1M64 38h1M76 38h1M82 38h2M88 38h1M91 38h1M93 38h1M99 38h1M103 38h1M110 38h1M20 37h1M47 37h1M50 37h1M109 37h1M111 37h1M116 37h1M31 36h1M112 36h1M122 36h1M6 35h1M36 35h2M28 34h1M79 34h1M104 34h1M114 34h1M118 34h1M33 33h1M36 33h1M104 33h1M28 32h1M69 32h1M85 32h1M104 32h1M30 31h1M30 30h1M43 30h1M50 30h1M100 30h1M14 29h1M30 29h1M43 29h1M48 29h1M73 29h2M99 29h2M106 29h1M110 29h1M122 29h1M14 28h1M30 28h1M48 28h1M68 28h2M108 28h1M52 27h1M68 27h1M5 26h1M13 26h1M18 26h1M20 26h1M25 26h1M34 26h1M36 26h1M42 26h1M46 26h1M52 26h1M59 26h1M68 26h1M73 26h1M86 26h2M97 26h1M100 26h2M103 26h1M108 26h1M112 26h1M36 25h1M68 25h1M71 25h1M112 25h1M122 25h1M6 24h1M31 24h1M36 24h1M42 24h1M44 24h1M60 24h1M71 24h1M82 24h1M100 24h1M120 24h1M13 23h1M42 23h1M73 23h1M82 23h1M93 23h1M102 23h1M107 23h1M13 22h1M30 22h1M39 22h2M43 22h1M61 22h1M63 22h1M73 22h1M82 22h1M103 22h1M114 22h2M120 22h1M16 21h1M22 21h1M40 21h1M44 21h1M50 21h1M54 21h1M66 21h1M68 21h1M74 21h1M80 21h1M82 21h1M102 21h1M118 21h1M122 21h1M5 20h2M16 20h1M28 20h1M33 20h1M39 20h1M58 20h1M90 20h1M104 20h1M122 20h1M16 19h1M33 19h1M37 19h1M41 19h1M60 19h1M74 19h1M102 19h1M113 19h1M119 19h1M13 18h1M28 18h1M97 18h1M106 18h1M119 18h1M5 17h1M22 17h1M83 17h1M9 16h1M17 16h1M21 16h1M27 16h1M41 16h1M66 16h1M75 16h1M91 16h1M119 16h1M6 15h1M9 15h1M34 15h1M41 15h1M46 15h1M67 15h1M73 15h1M83 15h1M89 15h1M98 15h1M48 12h1M62 12h1M2 9h2M10 9h1M17 9h2M27 9h1M33 9h2M37 9h1M44 9h1M53 9h1M58 9h1M61 9h1M64 9h1M71 9h3M78 9h1M85 9h1M93 9h1M97 9h1M107 9h1M113 9h1M118 9h2M125 9h1M10 8h1M12 8h1M19 8h1M21 8h1M24 8h1M42 8h1M44 8h1M56 8h1M70 8h2M78 8h1M81 8h1M94 8h1M96 8h1M111 8h1M113 8h1M119 8h1M123 8h1M12 7h1M24 7h1M44 7h1M74 7h1M113 7h1M116 7h1M119 7h1M121 7h2M12 6h1M21 6h2M32 6h1M38 6h1M51 6h1M86 6h1M113 6h1M121 6h1M12 5h1M37 5h1M67 5h1M70 5h1M74 5h1M27 4h1M46 4h1M53 4h1M66 4h2M69 4h1M78 4h1M84 4h1M94 4h1M96 4h1M99 4h1M104 4h1M110 4h1M119 4h1M9 3h1M27 3h1M30 3h1M45 3h1M61 3h1M77 3h1M91 3h2M7 2h1M16 2h1M22 2h1M24 2h1M48 2h1M54 2h1M58 2h1M61 2h1M65 2h1M75 2h1M85 2h1M98 2h1M105 2h1M108 2h1M113 2h2M117 2h1M123 2h1M3 1h1M7 1h1M23 1h1M43 1h1M47 1h2M50 1h1M53 1h1M123 0h1"/><path stroke="#35b779" d="M6 121h1M85 120h1M25 119h1M85 119h1M25 118h1M43 118h1M78 118h1M5 117h1M28 117h2M31 117h1M79 117h1M98 117h1M2 116h1M4 116h1M9 116h1M11 116h1M16 116h1M18 116h1M21 116h2M25 116h2M38 116h1M40 116h2M48 116h1M57 116h1M79 116h2M82 116h1M84 116h2M89 116h1M100 116h1M109 116h1M113 116h1M115 116h1M121 116h1M124 116h1M8 115h1M13 115h1M15 115h1M17 115h1M27 115h1M38 115h1M42 115h1M45 115h1M52 115h1M64 115h1M66 115h1M74 115h1M82 115h2M92 115h1M97 115h2M109 115h2M116 115h1M118 115h1M124 115h2M0 114h1M2 114h1M9 114h1M11 114h3M17 114h2M22 114h1M30 114h1M44 114h1M47 114h2M74 114h1M80 114h2M89 114h1M94 114h1M97 114h2M103 114h1M110 114h2M123 114h1M1 113h2M4 113h1M18 113h1M23 113h1M26 113h1M28 113h1M32 113h3M43 113h2M51 113h1M57 113h2M60 113h1M66 113h2M69 113h1M76 113h1M80 113h1M85 113h1M87 113h1M90 113h2M94 113h1M98 113h1M100 113h1M103 113h1M110 113h1M113 113h1M118 113h1M122 113h1M6 112h1M10 112h1M12 112h2M27 112h2M51 112h1M70 112h1M72 112h1M74 112h1M94 112h1M103 112h1M121 112h1M7 111h1M13 111h1M16 111h2M20 111h1M35 111h1M37 111h1M42 111h1M44 111h1M52 111h1M58 111h1M60 111h1M73 111h2M76 111h1M79 111h1M86 111h1M93 111h1M96 111h1M111 111h1M120 111h1M10 110h1M33 110h1M46 110h1M48 110h1M68 110h2M98 110h2M101 110h2M120 110h1M11 109h1M29 109h1M46 109h1M90 109h1M92 109h1M99 109h1M12 108h1M19 108h1M64 107h1M84 107h1M13 106h1M18 106h1M36 106h1M44 106h1M66 106h1M73 106h1M80 106h2M88 106h1M90 106h1M94 106h1M96 106h1M101 106h1M106 106h2M3 105h1M7 105h1M13 105h1M21 105h1M24 105h1M28 105h1M36 105h1M38 105h1M45 105h3M50 105h1M52 105h1M59 105h1M65 105h1M67 105h1M72 105h2M86 105h1M88 105h1M96 105h1M103 105h1M106 105h1M112 105h1M118 105h3M123 105h1M6 104h1M15 104h1M49 104h1M90 104h2M95 104h1M16 103h1M77 103h1M39 99h1M15 98h1M17 98h1M47 98h1M96 98h1M113 98h1M15 97h1M48 97h1M54 97h1M103 97h2M108 97h1M117 97h1M14 96h1M39 96h1M83 96h1M10 95h1M5 94h3M17 94h1M43 94h1M16 90h1M48 84h1M59 83h1M88 80h1M107 80h1M120 80h1M13 79h1M99 79h1M13 78h1M24 78h1M32 78h1M93 78h1M116 78h1M26 77h1M32 77h1M52 77h1M57 77h1M98 77h1M113 77h1M1 76h1M5 75h1M116 75h1M125 75h1M89 74h1M65 73h1M117 73h1M119 73h1M26 72h1M77 72h2M115 72h1M15 71h1M23 71h1M56 71h1M68 71h1M74 71h1M78 71h1M91 71h1M107 71h1M57 70h1M64 70h1M92 70h1M100 70h1M106 70h1M123 70h1M2 69h1M17 69h2M22 69h1M94 69h1M111 69h1M123 69h1M2 68h1M18 67h1M69 67h1M87 67h1M92 67h1M120 67h1M124 67h1M27 66h1M59 66h1M66 66h1M103 66h1M124 66h1M15 65h1M38 65h3M99 65h1M10 64h1M12 64h1M15 64h1M24 64h1M26 64h1M36 64h1M41 64h1M43 64h1M46 64h1M61 64h1M81 64h1M99 64h1M106 64h1M12 63h1M25 63h1M39 63h2M49 63h1M81 63h1M114 63h2M6 62h2M10 62h1M13 62h1M28 62h1M33 62h1M37 62h1M40 62h1M42 62h1M58 62h2M68 62h1M79 62h3M86 62h1M90 62h1M98 62h1M2 61h1M112 61h1M1 60h1M46 60h1M84 60h1M96 60h1M39 59h1M59 59h1M58 57h1M110 57h1M121 57h1M11 56h1M35 56h1M97 56h1M19 55h1M101 55h1M16 54h1M71 54h1M123 54h1M26 53h1M64 53h1M76 53h1M81 53h1M90 53h1M94 53h1M101 53h1M123 53h1M100 52h1M4 51h1M39 51h1M49 51h1M13 50h1M36 50h1M65 50h1M8 49h1M13 49h1M30 49h1M32 49h1M37 49h1M64 49h1M3 48h1M6 48h1M21 48h1M55 48h1M67 48h1M82 48h1M87 48h1M10 47h1M10 46h1M125 46h1M7 45h1M15 45h1M124 45h1M19 44h1M31 44h3M39 44h1M47 44h1M68 44h1M105 44h1M39 43h1M108 43h1M3 42h1M41 42h1M46 42h1M58 42h1M71 42h1M74 42h1M108 42h1M110 42h1M114 42h1M122 42h1M32 41h1M77 41h1M85 41h2M34 40h1M49 40h1M59 40h3M77 40h1M86 40h1M103 40h2M116 40h1M125 40h1M20 39h1M42 39h1M31 38h1M44 38h1M63 38h1M95 38h1M111 38h1M63 37h2M91 37h1M93 37h1M105 37h1M1 35h1M114 35h1M36 34h1M125 34h1M28 33h1M65 33h1M76 32h1M65 31h1M67 30h1M79 30h1M0 29h1M28 29h1M47 29h1M67 29h1M69 29h1M96 29h1M107 29h1M28 28h1M52 28h1M99 28h1M114 28h1M119 28h1M23 26h1M31 26h1M47 26h1M54 26h2M62 26h2M71 26h2M89 26h1M111 26h1M120 26h1M31 25h1M62 25h1M95 25h1M100 25h1M118 25h1M56 24h1M62 24h1M69 24h1M74 24h1M107 24h1M122 24h1M54 23h1M114 23h1M120 23h1M50 22h1M80 22h1M34 21h1M39 21h1M41 21h1M55 21h1M81 21h1M84 21h1M103 21h1M41 20h1M121 20h1M5 19h1M28 19h1M39 19h1M73 19h1M83 18h1M27 17h1M23 16h1M38 16h1M57 16h1M60 16h1M104 16h1M5 15h1M20 15h2M23 15h1M28 15h1M38 15h1M42 15h1M58 15h1M86 15h1M29 12h1M59 12h1M19 9h1M22 9h1M56 9h1M68 9h2M122 9h1M2 8h2M6 8h1M15 8h1M22 8h1M30 8h1M33 8h3M53 8h1M59 8h3M68 8h1M72 8h2M93 8h1M102 8h1M104 8h2M112 8h1M118 8h1M9 7h1M14 7h1M32 7h1M35 7h1M52 7h1M55 7h1M59 7h1M62 7h1M69 7h2M72 7h1M76 7h1M95 7h1M97 7h1M104 7h1M37 6h1M70 6h1M112 6h1M119 6h1M0 5h1M41 5h1M119 5h1M0 4h1M12 4h2M22 4h1M30 4h1M32 4h1M39 4h1M41 4h1M61 4h1M70 4h1M77 4h1M85 4h1M90 4h1M107 4h1M85 3h1M25 2h3M43 2h1M50 2h1M53 2h1M77 2h1M79 2h1M91 2h1M96 2h1M115 2h1M58 1h1M101 1h1M123 1h1"/><path stroke="#40bd72" d="M91 122h2M102 122h1M71 120h1M1 119h1M44 119h1M64 119h1M78 119h1M111 119h1M28 118h1M47 118h1M79 118h2M85 118h1M0 117h1M7 117h1M25 117h1M27 117h1M45 117h1M47 117h1M63 117h1M65 117h1M73 117h2M92 117h1M112 117h1M122 117h1M1 116h1M3 116h1M6 116h1M10 116h1M14 116h1M17 116h1M30 116h1M33 116h1M44 116h1M46 116h2M52 116h1M58 116h1M63 116h2M68 116h1M72 116h1M78 116h1M87 116h1M90 116h2M94 116h2M99 116h1M104 116h1M106 116h1M117 116h1M123 116h1M0 115h1M4 115h1M7 115h1M10 115h1M12 115h1M18 115h1M22 115h1M26 115h1M29 115h2M35 115h1M48 115h1M50 115h2M53 115h1M57 115h1M59 115h1M61 115h1M63 115h1M84 115h1M87 115h3M94 115h3M108 115h1M121 115h1M123 115h1M1 114h1M3 114h2M16 114h1M19 114h2M26 114h1M31 114h2M35 114h1M38 114h1M40 114h1M45 114h1M56 114h1M58 114h1M60 114h1M67 114h1M69 114h1M71 114h1M79 114h1M84 114h1M87 114h1M91 114h1M95 114h2M100 114h2M108 114h1M117 114h1M120 114h2M125 114h1M11 113h1M16 113h1M25 113h1M42 113h1M48 113h1M54 113h1M59 113h1M70 113h3M75 113h1M79 113h1M86 113h1M95 113h1M119 113h1M121 113h1M125 113h1M1 112h1M5 112h1M7 112h1M11 112h1M15 112h1M24 112h1M33 112h2M37 112h1M40 112h1M44 112h1M52 112h1M58 112h1M60 112h1M67 112h3M76 112h1M79 112h1M85 112h1M91 112h1M98 112h1M100 112h1M104 112h1M112 112h1M115 112h2M119 112h1M125 112h1M1 111h1M10 111h1M14 111h1M21 111h1M33 111h1M43 111h1M48 111h1M55 111h1M57 111h1M67 111h1M69 111h1M78 111h1M83 111h1M91 111h1M102 111h1M2 110h1M24 110h1M29 110h1M78 110h1M86 110h1M91 110h1M93 110h1M112 110h1M12 109h1M34 109h1M40 109h1M52 109h1M98 109h1M19 107h1M10 106h1M19 106h1M27 106h2M41 106h1M46 106h1M48 106h1M60 106h1M72 106h1M83 106h1M95 106h1M109 106h1M111 106h1M113 106h1M2 105h1M18 105h2M30 105h1M35 105h1M61 105h1M64 105h1M85 105h1M125 105h1M0 104h1M42 104h1M0 103h1M42 103h1M66 103h1M14 97h1M39 97h1M114 97h1M104 96h1M100 94h1M99 80h1M5 78h1M104 78h1M5 77h1M93 77h1M104 77h1M123 77h1M8 74h1M116 74h1M8 73h1M25 73h1M31 73h1M51 73h1M87 73h2M116 73h1M124 73h1M65 72h1M88 72h1M5 71h1M26 71h1M43 71h1M65 71h1M79 71h1M87 71h2M100 71h1M123 71h1M99 70h1M104 70h1M19 69h1M38 69h1M104 69h1M18 68h2M123 68h1M27 67h1M59 67h1M86 67h1M101 65h1M38 64h1M40 64h1M82 64h1M101 64h1M9 63h1M19 63h1M26 63h1M46 63h1M58 63h1M82 63h1M19 62h1M24 62h2M27 62h1M49 62h1M56 62h1M82 62h1M93 62h1M114 62h1M121 62h1M123 62h1M9 61h1M84 59h1M60 56h1M103 56h1M109 56h2M16 55h1M71 55h1M75 55h1M123 55h1M8 53h1M47 53h1M80 52h1M36 51h1M82 51h1M49 50h1M87 49h1M33 48h1M37 48h1M64 48h1M107 48h1M0 44h1M20 44h1M22 44h1M48 44h2M108 44h1M7 43h1M32 42h1M102 42h1M121 42h1M92 41h1M94 41h1M122 41h1M38 40h1M40 40h1M51 40h1M85 40h1M92 40h2M3 38h1M13 38h1M18 38h2M89 38h1M122 38h1M25 37h1M31 37h1M1 34h1M65 32h1M89 32h1M89 31h1M124 30h1M79 29h1M114 29h1M119 29h1M124 29h1M38 26h1M106 26h1M106 25h1M118 23h1M54 22h1M102 22h1M32 21h1M90 21h1M121 21h1M97 19h1M73 18h1M5 16h1M22 16h1M17 15h1M104 15h1M50 12h1M63 12h1M98 12h1M101 12h1M112 12h1M0 9h1M13 9h1M23 9h1M32 9h1M43 9h1M52 9h1M66 9h1M74 9h1M99 9h1M124 9h1M0 8h1M13 8h2M23 8h1M27 8h1M62 8h1M64 8h1M66 8h1M69 8h1M74 8h1M76 8h1M95 8h1M97 8h1M107 8h2M116 8h1M122 8h1M124 8h1M27 7h1M43 7h1M112 7h1M125 7h1M22 5h1M64 4h1M92 4h1M109 4h1M96 3h1M3 2h1M13 2h1"/><path stroke="#4cc26c" d="M4 128h1M35 128h1M59 128h1M56 121h1M70 121h1M84 121h1M91 121h2M94 121h1M6 120h1M9 120h1M40 120h1M47 120h1M64 120h1M70 120h1M108 120h1M117 120h1M3 119h1M13 119h1M24 119h1M38 119h1M40 119h1M43 119h1M47 119h1M60 119h1M86 119h1M99 119h1M115 119h1M0 118h2M12 118h2M44 118h1M63 118h1M65 118h1M83 118h1M86 118h1M105 118h1M118 118h1M2 117h1M6 117h1M8 117h2M11 117h3M15 117h2M24 117h1M32 117h1M36 117h1M57 117h1M59 117h1M66 117h1M78 117h1M80 117h1M83 117h1M85 117h1M96 117h2M105 117h1M110 117h1M19 116h1M35 116h1M37 116h1M42 116h1M50 116h2M54 116h1M56 116h1M75 116h1M81 116h1M101 116h1M105 116h1M114 116h1M116 116h1M1 115h2M9 115h1M11 115h1M16 115h1M19 115h2M33 115h2M40 115h1M44 115h1M47 115h1M54 115h1M56 115h1M69 115h1M77 115h3M81 115h1M85 115h1M91 115h1M100 115h2M6 114h1M24 114h1M27 114h1M33 114h1M46 114h1M54 114h1M59 114h1M66 114h1M75 114h2M85 114h2M92 114h1M107 114h1M119 114h1M17 113h1M24 113h1M27 113h1M31 113h1M35 113h1M37 113h2M47 113h1M55 113h1M92 113h1M101 113h1M106 113h1M115 113h1M124 113h1M14 112h1M18 112h1M23 112h1M25 112h1M38 112h1M42 112h2M57 112h1M62 112h1M73 112h1M122 112h1M124 112h1M18 111h1M24 111h1M34 111h1M49 111h1M75 111h1M112 111h1M34 110h1M39 110h2M92 110h1M41 109h1M91 109h1M3 106h1M6 106h1M15 106h1M24 106h1M45 106h1M64 106h1M70 106h1M103 106h2M125 106h1M0 105h2M6 105h1M10 105h1M41 105h2M48 105h2M60 105h1M74 105h1M77 105h1M83 105h2M90 105h2M94 105h1M111 105h1M39 98h1M122 95h1M83 78h1M110 73h1M92 71h1M106 71h1M57 69h1M99 69h1M1 67h1M123 66h1M39 64h1M44 63h1M26 62h1M112 62h1M115 62h1M39 60h1M80 53h1M97 50h1M97 49h1M50 48h1M124 44h1M7 42h1M110 41h1M121 41h1M15 40h1M20 40h1M114 40h1M42 37h1M122 37h1M38 25h1M95 24h1M104 21h1M22 15h1M47 15h1M60 15h1M11 12h1M21 12h2M28 12h1M38 12h1M51 12h1M80 12h1M92 12h2M97 12h1M103 12h1M113 12h2M117 12h1M120 12h1M124 12h1M106 9h1M108 9h1M9 8h1M51 8h1M55 8h1M125 8h1M51 7h1M64 5h1M91 4h1M13 3h1M45 2h1M101 2h1"/><path stroke="#5ac864" d="M33 128h1M78 128h2M109 128h1M116 128h1M125 128h1M8 123h1M91 123h1M6 122h1M17 122h1M28 122h1M70 122h1M80 122h2M84 122h1M90 122h1M94 122h1M105 122h1M9 121h1M13 121h1M17 121h1M36 121h1M64 121h1M71 121h1M76 121h1M81 121h1M90 121h1M102 121h1M105 121h1M49 120h2M60 120h1M65 120h1M92 120h1M103 120h1M0 119h1M4 119h1M12 119h1M50 119h1M57 119h1M65 119h1M70 119h1M74 119h1M77 119h1M79 119h2M92 119h1M105 119h1M114 119h1M116 119h3M2 118h2M5 118h2M8 118h1M11 118h1M24 118h1M29 118h1M31 118h1M38 118h1M45 118h1M57 118h1M64 118h1M70 118h1M73 118h1M77 118h1M98 118h2M114 118h2M125 118h1M1 117h1M4 117h1M18 117h2M44 117h1M46 117h1M52 117h1M75 117h1M84 117h1M93 117h1M100 117h3M106 117h1M108 117h2M121 117h1M20 116h1M39 116h1M49 116h1M55 116h1M61 116h2M69 116h1M77 116h1M88 116h1M118 116h2M3 115h1M21 115h1M39 115h1M41 115h1M46 115h1M58 115h1M67 115h2M72 115h1M75 115h1M86 115h1M104 115h1M117 115h1M119 115h1M21 114h1M39 114h1M49 114h1M55 114h1M70 114h1M90 114h1M105 114h1M5 113h1M19 113h3M39 113h1M49 113h1M62 113h1M68 113h1M84 113h1M104 113h1M2 112h1M16 112h2M19 112h2M31 112h1M39 112h1M47 112h2M55 112h1M71 112h1M75 112h1M83 112h2M92 112h1M2 111h1M40 111h2M92 111h1M101 111h1M41 110h1M7 106h1M77 106h1M84 106h1M15 105h1M63 105h1M95 105h1M9 62h1M44 62h1M7 44h1M110 40h1M42 38h1M13 37h1M19 37h1M118 24h1M10 12h1M14 12h1M17 12h1M37 12h1M40 12h1M58 12h1M69 12h2M76 12h1M83 12h1M95 12h2M99 12h1M108 12h1M111 12h1M9 9h1M40 9h1M32 8h1M40 8h1M52 8h1M106 8h1"/><path stroke="#67cc5c" d="M3 128h1M24 128h1M27 128h1M37 128h1M44 128h1M47 128h1M65 128h1M70 128h1M75 128h1M81 128h1M86 128h1M91 128h1M114 128h1M122 128h2M24 127h1M59 127h1M80 123h1M117 123h1M8 122h1M13 122h1M33 122h1M40 122h1M46 122h1M56 122h1M64 122h1M75 122h2M79 122h1M87 122h1M104 122h1M121 122h1M5 121h1M20 121h1M26 121h1M40 121h1M46 121h2M49 121h1M51 121h1M60 121h1M62 121h2M65 121h1M68 121h1M75 121h1M79 121h1M83 121h1M85 121h1M93 121h1M104 121h1M107 121h1M112 121h1M117 121h1M122 121h2M0 120h2M3 120h1M11 120h1M13 120h2M17 120h1M26 120h1M44 120h1M74 120h1M76 120h2M79 120h1M84 120h1M86 120h1M91 120h1M93 120h2M99 120h1M104 120h2M114 120h2M122 120h1M2 119h1M6 119h1M9 119h1M11 119h1M28 119h1M30 119h1M49 119h1M53 119h1M55 119h1M71 119h1M83 119h1M108 119h1M122 119h1M125 119h1M4 118h1M7 118h1M9 118h1M15 118h2M19 118h1M27 118h1M52 118h2M55 118h1M59 118h2M67 118h1M72 118h1M74 118h2M84 118h1M92 118h1M94 118h3M100 118h2M109 118h2M116 118h1M121 118h2M3 117h1M14 117h1M23 117h1M26 117h1M30 117h1M33 117h1M37 117h2M40 117h1M48 117h1M54 117h1M58 117h1M64 117h1M68 117h1M70 117h1M72 117h1M77 117h1M81 117h1M90 117h1M94 117h2M115 117h1M117 117h2M124 117h1M60 116h1M70 116h2M76 116h1M86 116h1M107 116h1M120 116h1M6 115h1M49 115h1M60 115h1M71 115h1M76 115h1M90 115h1M120 115h1M37 114h1M62 114h1M68 114h1M72 114h1M104 114h1M41 113h1M21 112h1M35 112h1M41 112h1M49 112h1M101 112h1M39 111h1M63 106h1M74 106h1M123 67h1M57 14h1M80 14h1M107 14h1M91 13h1M3 12h1M6 12h1M16 12h1M34 12h1M43 12h1M49 12h1M53 12h1M60 12h1M68 12h1M73 12h1M81 12h1M85 12h1M105 12h3M116 12h1M121 12h2M43 8h1"/><path stroke="#77d153" d="M6 128h1M9 128h1M16 128h4M21 128h1M26 128h1M31 128h1M34 128h1M36 128h1M38 128h1M58 128h1M71 128h1M82 128h1M90 128h1M97 128h1M100 128h1M102 128h1M118 128h1M120 128h2M19 127h1M37 127h1M52 127h1M88 127h1M6 126h1M24 126h1M88 126h1M117 124h1M40 123h1M79 123h1M102 123h1M124 123h1M1 122h1M9 122h1M18 122h1M20 122h2M32 122h1M34 122h1M36 122h1M39 122h1M57 122h5M63 122h1M83 122h1M93 122h1M96 122h2M107 122h1M110 122h1M116 122h2M120 122h1M122 122h2M1 121h2M16 121h1M18 121h1M22 121h1M28 121h1M32 121h2M39 121h1M52 121h1M58 121h1M61 121h1M74 121h1M77 121h1M97 121h1M103 121h1M108 121h1M113 121h2M119 121h1M121 121h1M2 120h1M4 120h1M7 120h1M12 120h1M15 120h2M20 120h1M22 120h4M30 120h1M32 120h1M38 120h1M46 120h1M51 120h3M57 120h1M63 120h1M75 120h1M81 120h1M83 120h1M97 120h1M100 120h1M107 120h1M116 120h1M118 120h1M123 120h3M7 119h2M15 119h1M17 119h1M26 119h2M31 119h2M52 119h1M63 119h1M72 119h1M76 119h1M82 119h1M84 119h1M91 119h1M94 119h1M96 119h2M100 119h1M104 119h1M106 119h1M109 119h1M120 119h1M124 119h1M17 118h1M20 118h1M26 118h1M30 118h1M32 118h1M40 118h1M46 118h1M49 118h2M54 118h1M68 118h1M81 118h2M97 118h1M104 118h1M106 118h2M113 118h1M124 118h1M10 117h1M17 117h1M20 117h1M22 117h1M41 117h2M49 117h2M55 117h1M62 117h1M82 117h1M86 117h1M89 117h1M99 117h1M103 117h2M107 117h1M113 117h2M116 117h1M123 117h1M34 116h1M53 116h1M67 116h1M5 115h1M37 115h1M55 115h1M62 115h1M70 115h1M105 115h1M107 115h1M5 114h1M41 114h1M4 14h1M8 14h2M35 14h3M40 14h1M43 14h2M51 14h1M53 14h2M62 14h2M65 14h2M68 14h1M72 14h1M77 14h2M81 14h1M84 14h2M91 14h4M97 14h1M99 14h1M105 14h2M111 14h1M116 14h2M121 14h2M9 13h1M40 13h1M48 13h1M51 13h1M57 13h1M59 13h1M62 13h2M65 13h1M68 13h2M72 13h1M77 13h1M80 13h1M85 13h1M92 13h1M97 13h1M103 13h1M107 13h1M117 13h1M120 13h1M4 12h1M7 12h1M9 12h1M15 12h1M19 12h1M23 12h1M25 12h1M44 12h1M47 12h1M61 12h1M65 12h1M71 12h2M74 12h1M82 12h1M86 12h1M104 12h1M115 12h1M119 12h1M6 11h1M11 11h1M16 11h2M21 11h2M29 11h1M38 11h1M53 11h1M56 11h1M59 11h1M61 11h3M80 11h1M83 11h1M91 11h2M95 11h1M101 11h1M112 11h3M119 11h2M6 10h1M11 10h2M14 10h1M16 10h1M25 10h1M38 10h1M42 10h1M47 10h3M53 10h1M55 10h2M59 10h1M61 10h3M65 10h1M76 10h1M80 10h1M83 10h2M86 10h1M102 10h1M104 10h1M114 10h1M117 10h1M120 10h2"/><path stroke="#89d548" d="M0 128h3M7 128h1M10 128h2M13 128h1M23 128h1M29 128h1M39 128h1M46 128h1M48 128h1M52 128h1M54 128h1M57 128h1M63 128h2M67 128h1M74 128h1M76 128h2M83 128h2M88 128h1M92 128h1M110 128h3M117 128h1M124 128h1M3 127h1M36 127h1M58 127h1M65 127h1M102 127h1M125 127h1M19 126h1M37 126h1M87 126h1M5 125h1M87 125h1M123 125h1M8 124h1M79 124h1M123 124h2M17 123h1M28 123h1M33 123h2M46 123h1M50 123h1M70 123h1M75 123h1M81 123h1M83 123h1M104 123h1M110 123h1M116 123h1M2 122h1M5 122h1M16 122h1M25 122h2M29 122h1M35 122h1M43 122h3M47 122h1M49 122h3M55 122h1M62 122h1M65 122h1M68 122h2M71 122h1M77 122h1M86 122h1M88 122h1M98 122h1M111 122h2M118 122h2M124 122h1M0 121h1M3 121h1M7 121h1M10 121h3M14 121h2M21 121h1M29 121h2M34 121h2M48 121h1M50 121h1M53 121h1M57 121h1M59 121h1M86 121h4M96 121h1M99 121h2M115 121h2M118 121h1M120 121h1M124 121h1M5 120h1M10 120h1M18 120h1M28 120h1M33 120h1M35 120h2M39 120h1M43 120h1M48 120h1M55 120h2M62 120h1M68 120h1M78 120h1M88 120h3M96 120h1M111 120h1M119 120h1M5 119h1M10 119h1M14 119h1M16 119h1M19 119h2M23 119h1M29 119h1M33 119h1M39 119h1M45 119h2M48 119h1M59 119h1M67 119h1M73 119h1M75 119h1M81 119h1M88 119h3M93 119h1M98 119h1M103 119h1M110 119h1M121 119h1M123 119h1M14 118h1M18 118h1M33 118h1M48 118h1M58 118h1M71 118h1M76 118h1M90 118h1M93 118h1M108 118h1M117 118h1M120 118h1M123 118h1M21 117h1M34 117h2M39 117h1M51 117h1M53 117h1M60 117h2M67 117h1M71 117h1M76 117h1M87 117h1M91 117h1M119 117h1M106 114h1M1 14h3M7 14h1M10 14h7M18 14h3M23 14h3M27 14h1M29 14h3M33 14h2M38 14h2M41 14h1M48 14h3M52 14h1M55 14h2M58 14h2M61 14h1M67 14h1M69 14h3M74 14h3M79 14h1M82 14h2M87 14h1M90 14h1M95 14h2M100 14h2M103 14h2M109 14h2M112 14h4M118 14h3M123 14h3M3 13h2M7 13h2M10 13h2M13 13h8M22 13h4M27 13h13M41 13h1M43 13h2M49 13h2M53 13h4M58 13h1M60 13h2M66 13h1M70 13h2M73 13h1M75 13h2M78 13h2M81 13h4M87 13h1M90 13h1M93 13h2M96 13h1M98 13h4M104 13h3M111 13h4M116 13h1M119 13h1M121 13h4M0 12h1M2 12h1M5 12h1M13 12h1M18 12h1M20 12h1M24 12h1M27 12h1M30 12h2M33 12h1M35 12h2M39 12h1M54 12h1M56 12h2M66 12h1M77 12h3M84 12h1M87 12h1M94 12h1M102 12h1M118 12h1M0 11h1M2 11h1M4 11h2M7 11h2M10 11h1M12 11h4M18 11h3M23 11h3M27 11h2M30 11h2M33 11h2M37 11h1M41 11h4M46 11h7M55 11h1M58 11h1M60 11h1M65 11h6M73 11h2M76 11h1M78 11h2M81 11h2M84 11h3M89 11h2M93 11h2M96 11h3M100 11h1M102 11h8M111 11h1M115 11h4M121 11h4M1 10h2M4 10h2M7 10h2M10 10h1M15 10h1M17 10h1M19 10h4M24 10h1M27 10h11M39 10h1M41 10h1M43 10h4M50 10h3M54 10h1M57 10h1M60 10h1M64 10h1M66 10h5M72 10h2M77 10h3M81 10h2M85 10h1M89 10h10M100 10h2M103 10h1M105 10h3M109 10h5M115 10h2M118 10h2M122 10h3"/><path stroke="#98d83e" d="M12 128h1M14 128h2M20 128h1M25 128h1M32 128h1M50 128h1M62 128h1M80 128h1M89 128h1M93 128h3M106 128h1M115 128h1M119 128h1M6 127h1M23 127h1M27 127h1M44 127h1M64 127h1M70 127h1M76 127h1M91 127h1M116 127h1M121 127h3M5 126h1M30 126h1M52 126h1M59 126h1M76 126h1M123 126h1M6 125h2M13 125h1M37 125h1M88 125h1M115 125h1M37 124h1M40 124h1M50 124h1M54 124h1M74 124h1M83 124h1M89 124h1M24 123h2M32 123h1M39 123h1M44 123h2M47 123h2M59 123h1M63 123h2M69 123h1M74 123h1M78 123h1M84 123h1M87 123h1M89 123h2M92 123h1M94 123h2M105 123h1M111 123h1M120 123h1M122 123h1M3 122h1M7 122h1M12 122h1M15 122h1M19 122h1M22 122h3M30 122h2M42 122h1M48 122h1M74 122h1M89 122h1M95 122h1M99 122h1M101 122h1M106 122h1M109 122h1M114 122h1M8 121h1M23 121h3M31 121h1M42 121h3M55 121h1M80 121h1M98 121h1M101 121h1M110 121h1M125 121h1M8 120h1M29 120h1M31 120h1M37 120h1M42 120h1M54 120h1M58 120h2M61 120h1M67 120h1M98 120h1M102 120h1M109 120h1M112 120h1M120 120h2M18 119h1M22 119h1M42 119h1M51 119h1M54 119h1M61 119h1M68 119h2M107 119h1M10 118h1M23 118h1M34 118h1M37 118h1M39 118h1M42 118h1M61 118h2M66 118h1M69 118h1M87 118h3M91 118h1M102 118h2M112 118h1M56 117h1M69 117h1M120 117h1M106 115h1M0 14h1M5 14h2M17 14h1M21 14h2M26 14h1M28 14h1M32 14h1M42 14h1M45 14h2M60 14h1M64 14h1M73 14h1M86 14h1M88 14h2M98 14h1M102 14h1M108 14h1M0 13h3M5 13h2M12 13h1M21 13h1M26 13h1M42 13h1M46 13h2M52 13h1M64 13h1M67 13h1M74 13h1M86 13h1M89 13h1M95 13h1M102 13h1M108 13h3M115 13h1M118 13h1M125 13h1M1 12h1M8 12h1M12 12h1M41 12h1M52 12h1M55 12h1M64 12h1M89 12h2M100 12h1M109 12h1M123 12h1M1 11h1M3 11h1M9 11h1M26 11h1M32 11h1M35 11h2M39 11h2M45 11h1M54 11h1M57 11h1M64 11h1M71 11h2M77 11h1M87 11h1M99 11h1M110 11h1M125 11h1M0 10h1M3 10h1M13 10h1M18 10h1M23 10h1M26 10h1M40 10h1M58 10h1M71 10h1M74 10h2M87 10h2M99 10h1M108 10h1M125 10h1"/><path stroke="#aadc32" d="M5 128h1M30 128h1M42 128h2M45 128h1M51 128h1M55 128h2M60 128h2M72 128h2M85 128h1M96 128h1M101 128h1M104 128h1M107 128h1M21 127h1M33 127h1M38 127h1M60 127h1M75 127h1M78 127h1M81 127h1M83 127h1M86 127h1M109 127h2M114 127h1M120 127h1M124 127h1M3 126h1M7 126h1M13 126h1M40 126h1M47 126h1M58 126h1M60 126h1M65 126h1M83 126h1M96 126h1M102 126h1M106 126h1M110 126h1M115 126h1M122 126h1M124 126h1M24 125h1M30 125h1M33 125h1M41 125h1M47 125h1M74 125h1M83 125h1M106 125h1M124 125h1M5 124h1M24 124h2M32 124h2M46 124h4M75 124h1M78 124h1M80 124h1M84 124h1M87 124h2M90 124h2M109 124h1M4 123h1M6 123h1M9 123h1M14 123h1M23 123h1M30 123h1M35 123h1M37 123h1M43 123h1M54 123h2M57 123h2M60 123h1M65 123h1M76 123h2M86 123h1M88 123h1M93 123h1M97 123h1M106 123h2M109 123h1M118 123h1M123 123h1M0 122h1M4 122h1M10 122h1M14 122h1M27 122h1M37 122h1M41 122h1M52 122h3M67 122h1M85 122h1M103 122h1M108 122h1M113 122h1M4 121h1M19 121h1M37 121h1M41 121h1M45 121h1M54 121h1M66 121h2M69 121h1M109 121h1M111 121h1M19 120h1M21 120h1M27 120h1M34 120h1M45 120h1M66 120h1M69 120h1M72 120h1M80 120h1M82 120h1M87 120h1M106 120h1M110 120h1M21 119h1M35 119h1M37 119h1M62 119h1M66 119h1M87 119h1M95 119h1M101 119h1M21 118h2M35 118h2M51 118h1M56 118h1M119 118h1M88 117h1M47 14h1M45 13h1M88 13h1M32 12h1M42 12h1M46 12h1M67 12h1M75 11h1M88 11h1M9 10h1"/><path stroke="#bade28" d="M8 128h1M28 128h1M40 128h1M49 128h1M53 128h1M66 128h1M69 128h1M87 128h1M98 128h1M105 128h1M108 128h1M113 128h1M0 127h3M4 127h1M7 127h1M11 127h2M14 127h1M18 127h1M29 127h2M40 127h1M47 127h2M50 127h1M53 127h1M63 127h1M74 127h1M79 127h1M82 127h1M85 127h1M87 127h1M92 127h1M95 127h2M100 127h1M106 127h1M112 127h1M115 127h1M117 127h2M1 126h1M4 126h1M11 126h1M14 126h1M21 126h1M23 126h1M33 126h1M36 126h1M41 126h1M44 126h1M53 126h1M67 126h1M70 126h1M74 126h1M85 126h1M95 126h1M105 126h1M113 126h1M118 126h1M120 126h2M3 125h2M11 125h1M15 125h1M25 125h1M28 125h1M32 125h1M40 125h1M49 125h1M54 125h1M67 125h1M89 125h2M103 125h1M113 125h1M4 124h1M6 124h2M14 124h2M22 124h1M27 124h2M30 124h1M36 124h1M44 124h2M53 124h1M59 124h1M70 124h1M81 124h1M86 124h1M93 124h1M104 124h1M106 124h1M108 124h1M110 124h2M115 124h1M122 124h1M1 123h1M3 123h1M5 123h1M7 123h1M13 123h1M16 123h1M18 123h1M22 123h1M26 123h2M31 123h1M36 123h1M49 123h1M53 123h1M71 123h1M96 123h1M98 123h1M108 123h1M121 123h1M11 122h1M66 122h1M72 122h2M78 122h1M100 122h1M125 122h1M27 121h1M38 121h1M72 121h2M78 121h1M95 121h1M106 121h1M41 120h1M73 120h1M101 120h1M113 120h1M34 119h1M36 119h1M56 119h1M58 119h1M102 119h1M112 119h2M119 119h1M41 118h1M110 12h1M125 12h1"/><path stroke="#cde11d" d="M41 128h1M68 128h1M99 128h1M103 128h1M9 127h2M13 127h1M16 127h2M31 127h2M34 127h2M39 127h1M42 127h1M51 127h1M57 127h1M67 127h1M71 127h2M77 127h1M84 127h1M90 127h1M93 127h1M97 127h1M107 127h1M113 127h1M0 126h1M15 126h1M18 126h1M25 126h3M29 126h1M38 126h1M42 126h1M48 126h1M50 126h1M63 126h2M72 126h1M81 126h1M90 126h4M97 126h1M99 126h1M101 126h1M103 126h1M109 126h1M112 126h1M114 126h1M116 126h2M1 125h1M8 125h1M10 125h1M14 125h1M19 125h1M22 125h1M26 125h2M36 125h1M44 125h1M46 125h1M48 125h1M50 125h1M53 125h1M59 125h2M65 125h1M69 125h1M75 125h1M79 125h2M93 125h1M105 125h1M108 125h3M117 125h1M122 125h1M10 124h2M13 124h1M17 124h1M23 124h1M26 124h1M31 124h1M34 124h2M39 124h1M41 124h1M57 124h2M60 124h1M62 124h2M65 124h1M67 124h1M69 124h1M77 124h1M94 124h2M102 124h2M105 124h1M113 124h1M116 124h1M120 124h1M2 123h1M10 123h1M15 123h1M20 123h2M29 123h1M38 123h1M41 123h2M51 123h1M56 123h1M62 123h1M67 123h2M85 123h1M99 123h1M101 123h1M103 123h1M112 123h1M114 123h1M119 123h1M38 122h1M115 122h1M41 119h1M26 12h1M45 12h1M75 12h1"/><path stroke="#dde318" d="M5 127h1M15 127h1M20 127h1M25 127h2M43 127h1M46 127h1M54 127h2M73 127h1M80 127h1M89 127h1M94 127h1M101 127h1M104 127h2M108 127h1M119 127h1M2 126h1M10 126h1M12 126h1M32 126h1M39 126h1M49 126h1M51 126h1M54 126h2M69 126h1M73 126h1M75 126h1M78 126h1M80 126h1M89 126h1M94 126h1M98 126h1M100 126h1M104 126h1M107 126h2M125 126h1M16 125h1M21 125h1M23 125h1M35 125h1M45 125h1M52 125h1M58 125h1M70 125h1M73 125h1M76 125h1M78 125h1M81 125h1M84 125h1M91 125h2M94 125h6M101 125h2M104 125h1M111 125h2M114 125h1M118 125h1M120 125h1M1 124h1M3 124h1M16 124h1M38 124h1M43 124h1M55 124h2M64 124h1M71 124h1M76 124h1M97 124h2M112 124h1M114 124h1M118 124h1M0 123h1M11 123h2M19 123h1M52 123h1M61 123h1M72 123h2M100 123h1M115 123h1M125 123h1M82 122h1M82 121h1M95 120h1"/><path stroke="#efe51c" d="M22 128h1M62 127h1M68 127h2M98 127h1M111 127h1M9 126h1M16 126h2M22 126h1M28 126h1M31 126h1M34 126h2M43 126h1M46 126h1M71 126h1M77 126h1M79 126h1M84 126h1M86 126h1M111 126h1M119 126h1M0 125h1M17 125h1M20 125h1M31 125h1M38 125h1M42 125h2M55 125h1M57 125h1M63 125h1M71 125h2M77 125h1M85 125h2M116 125h1M2 124h1M9 124h1M19 124h2M42 124h1M68 124h1M72 124h2M85 124h1M92 124h1M96 124h1M99 124h3M107 124h1M119 124h1M125 124h1M66 123h1M82 123h1M113 123h1M88 12h1"/><path stroke="#fde725" d="M8 127h1M22 127h1M28 127h1M41 127h1M45 127h1M49 127h1M56 127h1M61 127h1M66 127h1M99 127h1M103 127h1M8 126h1M20 126h1M45 126h1M56 126h2M61 126h2M66 126h1M68 126h1M82 126h1M2 125h1M9 125h1M12 125h1M18 125h1M29 125h1M34 125h1M39 125h1M51 125h1M56 125h1M61 125h2M64 125h1M66 125h1M68 125h1M82 125h1M100 125h1M107 125h1M119 125h1M121 125h1M125 125h1M0 124h1M12 124h1M18 124h1M21 124h1M29 124h1M51 124h2M61 124h1M66 124h1M82 124h1M121 124h1"/></g><g clip-path="url(#c1)"><path d="M45.4 130.3 46.3 130.3 46.4 134.8 47.3 134.8 47.4 132.3 48.3 132.3 48.4 120.7 49.3 120.7 49.4 122.3 49.8 122.3 49.9 121.6 50.5 121.6 50.6 125.6 50.7 133.6 50.8 134.3 51.3 134.3 51.4 116.1 52.3 116.1 52.4 133.2 53.0 133.2 53.1 130.2 53.6 90.2 53.7 86.2 54.3 86.2 54.4 90.2 54.8 122.2 54.9 125.8 55.3 125.8 55.4 122.4 55.9 122.4 56.0 122.3 56.3 98.3 56.4 94.3 57.0 94.3 57.1 98.3 57.3 114.3 57.4 121.4 58.3 121.4 58.4 125.3 59.0 125.3 59.1 125.2 59.3 109.2 59.4 105.2 60.0 105.2 60.1 109.2 60.3 125.2 60.4 127.6 61.3 127.6 61.4 136.9 61.6 136.9 61.7 134.7 61.9 118.7 62.0 114.7 62.6 114.7 62.7 118.7 62.8 126.7 62.9 132.6 63.3 132.6 63.4 129.1 64.3 129.1 64.4 136.8 64.8 136.8 64.9 131.0 65.0 123.0 65.1 119.0 65.7 119.0 65.8 120.5 66.3 120.5 66.4 119.4 67.2 119.4 67.3 116.7 67.4 108.7 67.5 104.7 68.1 104.7 68.2 108.7 68.3 116.7 68.4 116.9 69.3 116.9 69.4 116.7 70.1 116.7 70.2 111.0 70.3 107.0 70.9 107.0 71.0 111.0 71.1 119.0 71.2 126.8 71.3 126.8 71.4 125.8 72.3 125.8 72.4 135.3 72.6 135.3 72.7 128.3 73.1 96.3 73.2 92.3 73.8 92.3 73.9 96.3 74.3 128.3 74.4 126.8 75.3 126.8 75.4 126.4 75.7 126.4 75.8 119.2 76.0 103.2 76.1 99.2 76.7 99.2 76.8 103.2 77.0 119.2 77.1 121.2 77.3 121.2 77.4 116.2 78.3 116.2 78.4 120.0 78.5 120.0 78.6 116.4 79.2 116.4 79.3 120.0 79.4 128.4 79.5 130.5 80.3 130.5 80.4 120.2 81.2 120.2 81.3 119.0 81.4 111.0 81.5 107.0 82.1 107.0 82.2 111.0 82.3 119.0 82.4 116.1 83.3 116.1 83.4 133.4 83.9 133.4 84.0 125.5 84.3 101.5 84.4 97.5 85.0 97.5 85.1 101.5 85.3 117.5 85.4 121.6 86.3 121.6 86.4 117.7 86.7 93.7 86.8 89.7 87.4 89.7 87.5 93.7 87.9 125.7 88.0 126.7 88.3 126.7 88.4 133.8 89.0 133.8 89.1 126.2 89.5 94.2 89.6 90.2 90.2 90.2 90.3 94.2 90.7 126.2 90.8 131.6 91.3 131.6 91.4 117.9 92.1 117.9 92.2 114.6 92.3 106.6 92.4 102.6 93.0 102.6 93.1 106.6 93.3 122.6 93.4 126.7 94.3 126.7 94.4 134.3 94.9 134.3 95.0 126.5 95.1 122.5 95.7 122.5 95.8 123.6 96.3 123.6 96.4 128.6 97.3 128.6 97.4 117.2 98.3 117.2 98.4 124.1 99.3 124.1 99.4 122.8 100.0 122.8 100.1 118.5 100.4 94.5 100.5 90.5 101.1 90.5 101.2 94.5 101.6 126.5 101.7 133.1 102.3 133.1 102.4 124.0 103.0 124.0 103.1 122.6 103.3 106.6 103.4 102.6 104.0 102.6 104.1 106.6 104.3 122.6 104.4 128.4 105.3 128.4 105.4 127.6 105.9 87.6 106.0 83.6 106.6 83.6 106.7 87.6 107.2 127.6 107.3 129.4 107.4 130.2 108.3 130.2 108.4 119.2 109.0 119.2 109.1 116.0 109.4 92.0 109.5 88.0 110.1 88.0 110.2 92.0 110.5 116.0 110.6 121.0 111.3 121.0 111.4 124.5 112.3 124.5 112.4 118.0 113.3 118.0 113.4 136.3 114.1 136.3 114.2 135.6 114.4 119.6 114.5 115.6 115.1 115.6 115.2 119.6 115.3 120.5 115.4 130.1 116.3 130.1 116.4 122.3 117.2 122.3 117.3 119.2 117.5 103.2 117.6 99.2 118.2 99.2 118.3 103.2 118.6 127.2 118.7 129.9 119.3 129.9 119.4 118.8 120.1 118.8 120.2 116.4 120.8 116.4 120.9 120.4 121.0 128.4 121.1 133.7 121.3 133.7 121.4 135.8 121.9 135.8 122.0 134.7 122.7 78.7 122.8 74.7 123.4 74.7 123.5 78.7 124.1 126.7 124.2 128.0 124.3 128.0 124.4 119.1 125.3 119.1 125.4 120.0 125.7 120.0 125.8 117.0 125.9 113.0 126.5 113.0 126.6 117.0 126.8 133.0 126.9 135.5 127.3 135.5 127.4 127.6 128.3 127.6 128.4 119.8 129.3 119.8 129.4 134.6 130.3 134.6 130.4 129.5 130.6 129.5 130.7 121.6 131.0 97.6 131.1 93.6 131.7 93.6 131.8 97.6 132.1 121.6 132.2 128.0 132.3 128.0 132.4 123.9 133.3 123.9 133.4 124.6 133.7 124.6 133.8 123.3 133.9 115.3 134.0 111.3 134.6 111.3 134.7 115.3 134.8 121.0 135.3 121.0 135.4 116.8 136.0 116.8 136.1 109.2 136.2 105.2 136.8 105.2 136.9 109.2 137.2 133.2 137.3 134.4 137.4 125.8 138.3 125.8 138.4 127.5 138.7 127.5 138.8 120.5 139.2 88.5 139.3 84.5 139.9 84.5 140.0 88.5 140.5 128.5 140.6 131.8 141.3 131.8 141.4 116.5 142.3 116.5 142.4 123.8 143.3 123.8 143.4 116.6 144.2 116.6 144.3 112.0 144.4 104.0 144.5 100.0 145.1 100.0 145.2 104.0 145.6 136.0 145.7 136.3 146.3 136.3 146.4 129.8 146.9 129.8 147.0 126.8 147.5 86.8 147.6 82.8 148.2 82.8 148.3 86.8 148.8 126.8 148.9 127.0 149.3 127.0 149.4 134.3 150.3 134.3 150.4 123.2 151.3 123.2 151.4 128.4 152.3 128.4 152.4 130.4 152.5 125.3 153.1 77.3 153.2 73.3 153.8 73.3 153.9 77.3 154.5 125.3 154.6 126.9 155.3 126.9 155.4 132.1 156.1 132.1 156.2 127.8 156.4 111.8 156.5 107.8 157.1 107.8 157.2 111.8 157.3 119.8 157.4 119.2 158.3 119.2 158.4 135.6 158.5 138.9 160.2 138.9 160.3 116.1 160.4 131.8 161.1 131.8 161.2 125.7 161.6 93.7 161.7 89.7 162.3 89.7 162.4 93.7 162.7 117.7 162.8 118.9 163.3 118.9 163.4 124.8 164.1 124.8 164.2 122.5 164.8 122.5 164.9 126.5 165.0 133.1 165.3 133.1 165.4 116.3 166.3 116.3 166.4 128.0 166.7 104.0 166.8 100.0 167.4 100.0 167.5 104.0 167.8 128.0 167.9 132.7 168.3 132.7 168.4 126.8 169.3 126.8 169.4 121.6 169.7 97.6 169.8 93.6 170.4 93.6 170.5 97.6 170.7 113.6 170.8 120.8 171.3 120.8 171.4 120.2 171.7 120.2 171.8 130.3 173.5 130.3 173.6 119.8 174.3 119.8 174.4 123.3 174.8 123.3 174.9 120.7 175.0 112.7 175.1 108.7 175.7 108.7 175.8 112.7 176.0 128.7 176.1 135.9 176.3 135.9 176.4 128.0 177.3 128.0 177.4 123.1 177.5 123.1 177.6 117.0 177.7 113.0 178.3 113.0 178.4 117.0 178.5 121.7 179.3 121.7 179.4 136.0 179.5 136.3 181.2 136.3 181.3 125.3 181.4 136.6 182.3 136.6 182.4 126.8 183.3 126.8 183.4 126.9 183.5 125.0 184.0 85.0 184.1 81.0 184.7 81.0 184.8 85.0 185.3 125.0 185.4 131.6 186.3 131.6 186.4 128.2 186.5 121.5 186.6 113.5 186.7 109.5 187.3 109.5 187.4 113.5 187.5 121.5 187.6 125.0 188.3 125.0 188.4 134.4 188.9 134.4 189.0 133.0 189.2 117.0 189.3 113.0 189.9 113.0 190.0 117.0 190.1 124.6 190.3 124.6 190.4 135.4 191.1 135.4 191.2 133.9 191.3 125.9 191.4 117.4 191.5 109.9 191.8 85.9 191.9 81.9 192.5 81.9 192.6 85.9 193.0 117.9 193.1 125.0 193.3 125.0 193.4 126.9 194.3 126.9 194.4 127.4 194.5 123.4 195.1 123.4 195.2 127.4 195.3 135.4 195.4 121.3 196.3 121.3 196.4 132.9 197.3 132.9 197.4 130.2 197.5 130.2 197.6 127.8 197.8 111.8 197.9 107.8 198.5 107.8 198.6 111.8 198.8 127.8 198.9 131.1 199.3 131.1 199.4 129.2 200.0 129.2 200.1 122.0 200.4 98.0 200.5 94.0 201.1 94.0 201.2 98.0 201.5 122.0 201.6 123.0 202.3 123.0 202.4 124.4 202.5 118.3 202.7 102.3 202.8 98.3 203.4 98.3 203.5 102.3 203.7 118.3 203.8 120.3 204.3 120.3 204.4 117.1 205.2 117.1 205.3 113.4 205.6 89.4 205.7 85.4 206.3 85.4 206.4 89.4 206.9 129.4 207.0 135.2 207.3 135.2 207.4 133.6 208.0 133.6 208.1 127.4 208.5 95.4 208.6 91.4 209.2 91.4 209.3 95.4 209.7 127.4 209.8 128.7 210.3 128.7 210.4 126.1 210.7 126.1 210.8 121.3 210.9 117.3 211.5 117.3 211.6 121.3 211.7 128.5 212.3 128.5 212.4 129.8 213.3 129.8 213.4 122.4 213.6 122.4 213.7 120.0 213.9 104.0 214.0 100.0 214.6 100.0 214.7 104.0 215.1 136.0 215.2 136.2 215.3 136.2 215.4 125.8 216.3 125.8 216.4 129.2 216.5 129.2 216.6 125.2 216.8 109.2 216.9 105.2 217.5 105.2 217.6 109.2 217.8 125.2 217.9 129.3 218.3 129.3 218.4 119.9 219.3 119.9 219.4 113.5 219.5 109.5 220.1 109.5 220.2 113.5 220.3 117.3 220.4 124.6 221.3 124.6 221.4 132.0 221.9 132.0 222.0 125.5 222.3 101.5 222.4 97.5 223.0 97.5 223.1 101.5 223.4 125.5 223.5 131.3 224.3 131.3 224.4 118.4 225.3 118.4 225.4 129.3 225.5 121.3 225.6 117.3 226.2 117.3 226.3 121.3 226.4 129.3 226.5 132.8 227.3 132.8 227.4 134.4 227.8 134.4 227.9 129.3 228.0 121.3 228.1 117.3 228.7 117.3 228.8 121.3 228.9 127.0 229.3 127.0 229.4 135.2 229.9 135.2 230.0 131.5 230.3 107.5 230.4 103.5 231.0 103.5 231.1 107.5 231.2 115.5 231.3 117.0 231.4 116.6 232.3 116.6 232.4 116.4 233.3 116.4 233.4 120.8 233.9 120.8 234.0 121.3 234.3 121.3 234.4 121.2 235.3 121.2 235.4 119.9 236.0 119.9 236.1 114.3 236.2 106.3 236.3 102.3 236.9 102.3 237.0 106.3 237.2 122.3 237.3 127.9 237.4 116.8 238.3 116.8 238.4 128.4 238.6 128.4 238.7 122.4 238.8 114.4 238.9 110.4 239.5 110.4 239.6 114.4 239.7 119.5 240.3 119.5 240.4 130.2 241.3 130.2 241.4 116.4 241.8 116.4 241.9 112.7 242.0 108.7 242.6 108.7 242.7 112.7 242.8 120.7 242.9 122.5 243.3 122.5 243.4 135.7 244.2 135.7 244.3 129.5 244.5 113.5 244.6 109.5 245.2 109.5 245.3 113.5 245.5 129.5 245.6 133.0 246.3 133.0 246.4 129.8 246.5 125.2 246.7 109.2 246.8 105.2 247.4 105.2 247.5 109.2 247.7 125.2 247.8 128.8 248.3 128.8 248.4 120.0 249.4 120.0 249.6 104.0 249.7 100.0 250.3 100.0 250.4 104.0 250.5 112.0 250.6 116.8 251.3 116.8 251.4 132.8 251.5 132.8 251.6 127.6 252.1 87.6 252.2 83.6 252.8 83.6 252.9 87.6 253.4 127.6 253.5 133.9 254.3 133.9 254.4 117.1 255.1 117.1 255.2 113.5 255.3 109.5 255.9 109.5 256.0 113.5 256.1 121.5 256.2 123.1 256.3 123.1 256.4 122.7 257.3 122.7 257.4 118.4 257.6 118.4 257.7 113.6 258.1 81.6 258.2 77.6 258.8 77.6 258.9 81.6 259.5 129.6 259.6 132.7 260.3 132.7 260.4 122.6 260.5 122.6 260.6 120.3 260.9 96.3 261.0 92.3 261.6 92.3 261.7 96.3 262.1 128.3 262.2 134.1 262.3 134.1 262.4 132.7 263.1 132.7 263.2 129.3 263.3 121.3 263.4 117.3 264.0 117.3 264.1 118.7 264.3 118.7 264.4 132.1 265.3 132.1 265.4 134.5 265.6 134.5 265.7 129.8 266.4 73.8 266.5 69.8 267.1 69.8 267.2 73.8 267.8 121.8 267.9 128.0 268.3 128.0 268.4 129.4 268.7 129.4 268.8 122.6 269.0 106.6 269.1 102.6 269.7 102.6 269.8 106.6 270.0 122.6 270.1 126.3 270.4 102.3 270.5 98.3 271.1 98.3 271.2 102.3 271.5 126.3 271.6 129.9 271.8 129.9 271.9 122.6 272.1 106.6 272.2 102.6 272.8 102.6 272.9 106.6 273.1 122.6 273.2 129.3 273.3 129.3 273.4 133.3 274.3 133.3 274.4 132.9 274.5 127.3 275.1 79.3 275.2 75.3 275.8 75.3 275.9 79.3 276.5 127.3 276.6 131.2 276.7 128.4 276.8 120.4 276.9 116.4 277.5 116.4 277.6 120.4 277.7 128.4 277.8 134.2 278.3 134.2 278.4 134.8 278.7 134.8 278.8 128.7 279.0 112.7 279.1 108.7 279.7 108.7 279.8 112.7 279.9 119.4 280.3 119.4 280.4 116.6 281.3 116.6 281.4 123.4 281.8 123.4 281.9 127.4 282.0 129.7 282.3 129.7 282.4 120.5 283.3 120.5 283.4 117.3 284.0 117.3 284.1 121.3 284.2 127.8 284.3 127.8 284.4 135.8 284.8 135.8 284.9 137.2 286.6 137.2 286.7 121.3 287.3 121.3 287.4 125.6 287.5 125.0 288.0 85.0 288.1 81.0 288.7 81.0 288.8 85.0 289.3 125.0 289.4 118.1 289.5 118.1 289.6 116.4 289.7 108.4 289.8 104.4 290.4 104.4 290.5 108.4 290.6 116.4 290.7 124.0 291.3 124.0 291.4 118.8 291.7 118.8 291.8 118.3 292.0 102.3 292.1 98.3 292.7 98.3 292.8 102.3 293.1 126.3 293.2 129.9 293.3 129.9 293.4 133.4 293.9 133.4 294.0 128.4 294.1 120.4 294.2 116.4 294.8 116.4 294.9 120.4 295.0 123.9 295.3 123.9 295.4 123.8 296.0 123.8 296.1 118.3 296.5 86.3 296.6 82.3 297.2 82.3 297.3 86.3 297.7 118.3 297.8 120.5 298.3 120.5 298.4 121.2 298.6 121.2 298.7 115.7 298.9 99.7 299.0 95.7 299.6 95.7 299.7 99.7 299.9 115.7 300.0 122.9 300.3 122.9 300.4 125.6 301.2 125.6 301.3 122.6 301.5 106.6 301.6 102.6 302.2 102.6 302.3 106.6 302.6 130.6 302.7 131.8 303.3 131.8 303.4 128.2 304.0 128.2 304.1 124.6 304.8 68.6 304.9 64.6 305.5 64.6 305.6 68.6 306.2 116.6 306.3 117.6 306.4 132.0 307.3 132.0 307.4 118.8 307.8 118.8 307.9 115.3 308.0 111.3 308.6 111.3 308.7 115.3 308.8 118.8 309.3 118.8 309.4 118.7 310.3 118.7 310.4 117.7 311.3 117.7 311.4 135.0 312.3 135.0 312.4 121.7 312.8 121.7 312.9 116.4 313.4 76.4 313.5 72.4 314.1 72.4 314.2 76.4 314.9 132.4 315.0 133.5 315.3 133.5 315.4 129.0 315.8 129.0 315.9 128.0 316.2 104.0 316.3 100.0 316.9 100.0 317.0 104.0 317.1 112.0 317.2 119.9 317.3 119.9 317.4 125.1 318.3 125.1 318.4 121.2 318.6 105.2 318.7 101.2 319.3 101.2 319.4 105.2 319.6 121.2 319.7 123.9 320.3 123.9 320.4 130.9 320.9 130.9 321.7 66.9 321.8 62.9 322.4 62.9 322.5 66.9 323.3 130.9 323.4 132.3 324.3 132.3 324.4 133.3 325.3 133.3 325.4 130.2 326.3 130.2 326.4 123.8 327.3 123.8 327.4 117.3 328.3 117.3 328.4 126.9 329.3 126.9 329.4 131.9 329.5 131.9 329.6 127.4 330.0 95.4 330.1 91.4 330.7 91.4 330.8 95.4 331.1 119.4 331.2 120.0 331.3 120.0 331.4 121.6 332.3 121.6 332.4 127.3 332.5 124.2 333.1 124.2 333.2 127.3 333.3 127.3 333.4 131.7 334.3 131.7 334.4 134.8 334.8 134.8 334.9 129.2 335.2 105.2 335.3 101.2 335.9 101.2 336.0 105.2 336.1 113.2 336.2 118.6 336.3 118.6 336.4 119.9 337.3 119.9 337.4 132.8 337.8 132.8 337.9 126.4 338.1 110.4 338.2 106.4 338.8 106.4 338.9 110.4 339.1 126.4 339.2 129.5 339.3 129.5 339.4 131.1 340.3 131.1 340.4 136.9 340.5 129.2 340.7 113.2 340.8 109.2 341.4 109.2 341.5 113.2 341.7 129.2 341.8 135.7 342.3 135.7 342.4 133.7 342.8 133.7 342.9 129.6 343.3 97.6 343.4 93.6 344.0 93.6 344.1 97.6 344.4 121.6 344.5 124.3 345.3 124.3 345.4 129.5 346.1 129.5 346.2 128.7 346.4 112.7 346.5 108.7 347.1 108.7 347.2 112.7 347.3 119.9 347.4 128.7 347.5 131.9 349.3 131.9 349.4 131.1 350.3 131.1 350.4 128.5 350.5 128.5 350.6 125.3 351.2 125.3 351.3 121.6 351.6 97.6 351.7 93.6 352.3 93.6 352.4 97.6 352.7 121.6 352.8 124.8 353.3 124.8 353.4 116.7 354.2 116.7 354.3 109.2 354.5 93.2 354.6 89.2 355.2 89.2 355.3 93.2 355.7 125.2 355.8 127.4 356.3 127.4 356.4 124.1 356.9 124.1 357.0 123.3 357.1 115.3 357.2 111.3 357.8 111.3 357.9 115.3 358.0 123.3 358.1 127.5 358.3 127.5 358.4 131.2 359.3 131.2 359.4 124.0 359.8 124.0 359.9 120.6 360.1 104.6 360.2 100.6 360.8 100.6 360.9 104.6 361.2 128.6 361.3 133.4 361.4 135.3 361.5 135.3 361.6 134.7 361.8 118.7 361.9 114.7 362.5 114.7 362.6 118.7 362.7 124.1 363.2 124.1 363.3 123.0 363.5 107.0 363.6 103.0 364.2 103.0 364.3 107.0 364.6 131.0 364.7 132.0 365.3 132.0 365.4 125.7 365.6 109.7 365.7 105.7 366.3 105.7 366.4 109.7 366.5 117.7 366.6 119.1 367.3 119.1 367.4 131.0 368.0 131.0 368.1 127.5 368.3 111.5 368.4 107.5 369.0 107.5 369.1 111.5 369.3 127.5 369.4 135.3 370.3 135.3 370.4 118.6 370.8 118.6 370.9 115.6 371.5 115.6 371.6 117.9 372.3 117.9 372.4 136.7 373.3 136.7 373.4 118.5 373.6 118.5 373.7 116.1 373.9 100.1 374.0 96.1 374.6 96.1 374.7 100.1 374.9 116.1 375.0 119.7 375.3 119.7 375.4 128.1 375.5 123.3 375.6 115.3 375.7 111.3 376.3 111.3 376.4 115.3 376.5 123.3 376.6 125.4 377.0 125.4 377.1 119.5 377.3 103.5 377.4 99.5 378.0 99.5 378.1 103.5 378.3 119.5 378.4 120.0 379.3 120.0 379.4 135.2 379.6 135.2 379.7 130.9 379.9 114.9 380.0 110.9 380.6 110.9 380.7 114.9 380.8 120.6 381.3 120.6 381.4 132.2 381.6 132.2 381.7 137.2 383.4 137.2 383.5 125.9 384.3 125.9 384.4 116.7 385.1 116.7 385.2 115.6 385.8 115.6 385.9 119.6 386.0 122.6 387.3 122.6 387.4 131.1 387.6 131.1 387.7 130.0 387.8 126.0 388.3 126.0 388.4 125.6 389.3 125.6 389.4 117.2 390.3 117.2 390.4 120.2 390.5 112.2 390.6 108.2 391.2 108.2 391.3 112.2 391.5 128.2 391.6 134.7 392.3 134.7 392.4 135.2 392.6 135.2 392.7 133.9 392.9 117.9 393.0 113.9 393.6 113.9 393.7 117.9 393.8 121.2 394.3 121.2 394.4 124.3 395.3 124.3 395.4 120.8 395.5 113.5 395.6 109.5 396.2 109.5 396.3 113.5 396.4 118.6 397.3 118.6 397.4 116.7 398.1 116.7 398.2 114.3 398.4 98.3 398.5 94.3 399.1 94.3 399.2 98.3 399.4 114.3 399.5 118.6 400.3 118.6 400.4 119.7 401.3 119.7 401.4 134.1 401.5 134.1 401.6 130.6 401.9 106.6 402.0 102.6 402.6 102.6 402.7 106.6 402.9 122.6 403.0 126.2 403.3 126.2 403.4 119.9 403.9 119.9 404.0 116.4 404.1 108.4 404.2 104.4 404.8 104.4 404.9 108.4 405.1 124.4 405.2 130.1 405.3 130.1 405.4 121.6 406.3 121.6 406.4 127.1 406.5 122.1 407.0 82.1 407.1 78.1 407.7 78.1 407.8 82.1 408.2 114.1 408.3 121.9 408.4 126.8 409.0 126.8 409.1 123.3 409.8 67.3 409.9 63.3 410.5 63.3 410.6 67.3 411.3 123.3 411.4 124.3 412.3 124.3 412.4 132.6 412.5 129.5 412.7 113.5 412.8 109.5 413.4 109.5 413.5 113.5 413.7 129.5 413.8 134.3 414.3 134.3 414.4 119.8 415.2 119.8 415.3 112.7 415.4 108.7 416.0 108.7 416.1 112.7 416.2 118.9 416.3 118.9 416.4 118.4 417.3 118.4 417.4 136.6 418.3 136.6 418.4 135.8 418.5 135.8 418.6 135.6 418.8 119.6 418.9 115.6 419.5 115.6 419.6 119.6 419.7 120.8 420.2 120.8 420.3 130.3 420.4 136.4 421.3 136.4 421.4 130.3 422.0 130.3 422.1 120.4 422.3 120.4 422.4 126.6 423.0 126.6 423.1 124.2 423.6 84.2 423.7 80.2 424.3 80.2 424.4 84.2 425.0 132.2 425.1 135.2 425.2 135.2 425.3 132.6 425.4 116.9 425.5 116.6 425.7 100.6 425.8 96.6 426.4 96.6 426.5 100.6 426.7 116.6 426.8 122.6 427.3 122.6 427.4 119.3 427.8 87.3 427.9 83.3 428.5 83.3 428.6 87.3 428.9 111.3 429.0 117.4 429.3 117.4 429.4 121.0 430.3 121.0 430.4 125.1 430.7 125.1 430.8 125.8 431.3 125.8 431.4 134.5 431.6 134.5 431.7 132.6 432.1 100.6 432.2 96.6 432.8 96.6 432.9 100.6 433.2 124.6 433.3 132.0 433.4 133.4 434.1 133.4 434.2 138.9 435.9 138.9 436.0 130.9 436.3 130.9 436.4 133.8 437.3 133.8 437.4 126.5 437.5 122.5 438.1 122.5 438.2 126.5 438.3 130.3 438.4 131.4 439.3 131.4 439.4 122.3 439.7 122.3 439.8 121.5 440.4 73.5 440.5 69.5 441.1 69.5 441.2 73.5 441.9 129.5 442.0 131.9 442.3 131.9 442.4 119.5 442.6 119.5 442.7 119.4 443.0 95.4 443.1 91.4 443.7 91.4 443.8 95.4 444.2 127.4 444.3 135.3 444.4 128.5 444.8 128.5 444.9 124.4 445.5 76.4 445.6 72.4 446.2 72.4 446.3 76.4 447.0 132.4 447.1 135.7 447.3 135.7 447.4 119.3 448.3 119.3 448.4 126.8 448.5 126.1 448.7 110.1 448.8 106.1 449.4 106.1 449.5 110.1 449.6 117.9 450.3 117.9 450.4 136.3 451.3 136.3 451.4 133.7 452.3 133.7 452.4 132.9 453.3 132.9 453.4 121.9 453.8 121.9 453.9 118.2 454.2 94.2 454.3 90.2 454.9 90.2 455.0 94.2 455.4 126.2 455.5 130.8 456.3 130.8 456.4 129.5 456.7 129.5 456.8 121.6 457.1 97.6 457.2 93.6 457.8 93.6 457.9 97.6 458.3 129.6 458.4 125.1 459.3 125.1 459.4 124.7 459.5 124.7 459.6 118.1 459.7 110.1 459.8 106.1 460.4 106.1 460.5 110.1 460.7 126.1 460.8 130.5 461.3 130.5 461.4 133.5 462.3 133.5 462.4 123.0 462.6 123.0 462.7 119.6 462.8 115.6 463.4 115.6 463.5 119.6 463.6 127.6 463.7 130.1 464.3 130.1 464.4 120.4 464.8 120.4 464.9 117.9 465.0 113.9 465.6 113.9 465.7 117.9 465.8 125.9 465.9 127.6 466.3 127.6 466.4 132.2 467.3 132.2 467.4 117.4 467.5 117.4 467.6 115.6 468.2 115.6 468.3 117.4 468.4 127.6 468.5 131.3 469.3 131.3 469.4 116.3 470.3 116.3 470.4 109.7 470.5 105.7 471.1 105.7 471.2 109.7 471.4 125.7 471.5 125.8 472.3 125.8 472.4 124.6 472.5 124.6 472.6 122.9 472.7 114.9 472.8 110.9 473.4 110.9 473.5 114.9 473.7 130.9 473.8 131.1 474.3 131.1 474.4 127.0 475.3 127.0 475.4 131.3 475.5 127.6 475.6 119.6 475.7 115.6 476.3 115.6 476.4 117.8 477.3 117.8 477.4 127.8 478.2 127.8 478.3 126.7 478.4 118.7 478.5 114.7 479.1 114.7 479.2 118.7 479.4 134.7 479.5 135.6 480.3 135.6 480.4 116.8 481.3 116.8 481.4 119.0 482.0 119.0 482.1 123.0 482.2 125.5 482.3 125.5 482.4 129.3 483.3 129.3 483.4 127.6 484.0 127.6 484.1 127.5 484.3 111.5 484.4 107.5 485.0 107.5 485.1 111.5 485.2 117.6 485.3 117.6 485.4 128.5 486.3 128.5 486.4 120.7 486.7 120.7 486.8 117.2 486.9 109.2 487.0 105.2 487.6 105.2 487.7 109.2 487.8 117.2 487.9 120.1 488.3 120.1 488.4 134.5 488.7 134.5 488.8 134.0 489.6 70.0 489.7 66.0 490.3 66.0 490.4 70.0 491.0 118.0 491.1 125.5 491.3 125.5 491.4 131.8 492.1 131.8 492.2 127.4 492.3 123.4 492.9 123.4 493.0 127.4 493.1 130.9 493.3 130.9 493.4 127.6 494.3 127.6 494.4 132.9 494.7 132.9 494.8 130.3 495.1 106.3 495.2 102.3 495.8 102.3 495.9 106.3 496.1 122.3 496.2 125.8 496.3 125.8 496.4 129.0 497.3 129.0 497.4 133.2 497.9 133.2 498.0 131.8 498.6 83.8 498.7 79.8 499.3 79.8 499.4 83.8 499.9 123.8 500.0 129.5 500.3 129.5 500.4 124.5 501.0 124.5 501.1 123.3 501.2 115.3 501.3 111.3 501.9 111.3 502.0 115.3 502.1 123.3 502.2 127.7 502.3 127.7 502.4 124.3 503.1 124.3 503.2 123.2 503.8 75.2 503.9 71.2 504.5 71.2 504.6 75.2 505.2 123.2 505.3 124.0 505.4 125.8 506.3 125.8 506.4 131.9 506.5 131.9 506.6 130.5 507.2 82.5 507.3 78.5 507.9 78.5 508.0 82.5 508.5 122.5 508.6 123.1 509.2 123.1 509.3 117.0 509.4 113.0 510.0 113.0 510.1 117.0 510.3 133.0 510.4 124.0 510.9 124.0 511.0 123.2 511.6 75.2 511.7 71.2 512.3 71.2 512.4 75.2 513.1 131.2 513.2 132.5 513.3 132.5 513.4 125.4 514.0 125.4 514.1 118.7 514.2 114.7 514.8 114.7 514.9 118.7 515.0 126.7 515.1 131.0 515.3 131.0 515.4 116.7 516.2 116.7 516.3 114.7 516.9 114.7 517.0 118.7 517.1 124.2 517.3 124.2 517.4 134.1 518.3 134.1 518.4 128.2 519.3 128.2 519.4 127.7 519.8 127.7 519.9 125.5 520.2 101.5 520.3 97.5 520.9 97.5 521.0 101.5 521.3 125.5 521.4 130.2 522.3 130.2 522.4 126.5 522.5 122.5 523.1 122.5 523.2 126.5 523.3 128.3 523.4 124.8 524.3 124.8 524.4 119.9 524.5 119.9 524.6 113.1 524.8 97.1 524.9 93.1 525.5 93.1 525.6 97.1 525.9 121.1 526.0 122.1 527.3 122.2 527.4 123.5 528.0 75.5 528.1 71.5 528.7 71.5 528.8 75.5 529.3 115.5 529.4 123.4 530.3 123.4 530.4 125.4 531.0 125.4 531.1 121.8 531.2 117.8 531.8 117.8 531.9 121.8 532.0 123.8 532.3 123.8 532.4 128.2 533.3 128.2 533.4 135.9 533.6 135.9 533.7 134.1 534.0 110.1 534.1 106.1 534.7 106.1 534.8 110.1 535.1 134.1 535.2 134.7 535.3 134.7 535.4 123.9 536.1 123.9 536.2 119.3 536.6 87.3 536.7 83.3 537.3 83.3 537.4 87.3 537.9 127.3 538.0 134.6 538.3 134.6 538.4 126.4 539.0 126.4 539.1 119.8 539.2 111.8 539.3 107.8 539.9 107.8 540.0 111.8 540.2 127.8 540.3 130.4 540.4 117.5 541.3 117.5 541.4 134.2 541.5 134.2 541.6 131.4 542.1 91.4 542.2 87.4 542.8 87.4 542.9 91.4 543.2 115.4 543.3 122.6 543.4 126.4 544.3 126.4 544.4 120.2 544.8 120.2 544.9 114.9 545.0 110.9 545.6 110.9 545.7 114.9 545.8 122.9 545.9 124.8 546.3 124.8 546.4 133.4 547.1 133.4 547.2 125.5 547.5 101.5 547.6 97.5 548.2 97.5 548.3 101.5 548.6 125.5 548.7 125.9 549.3 125.9 549.4 132.1 549.8 132.1 549.9 127.3 550.4 87.3 550.5 83.3 551.1 83.3 551.2 87.3 551.6 119.3 551.7 123.8 552.3 123.8 552.4 127.5 553.0 127.5 553.1 122.7 553.5 90.7 553.6 86.7 554.2 86.7 554.3 90.7 554.6 114.7 554.7 122.6 555.3 122.6 555.4 130.8 555.7 130.8 555.8 128.0 556.1 104.0 556.2 100.0 556.8 100.0 556.9 104.0 557.2 128.0 557.3 132.2 557.4 117.2 558.3 117.2 558.4 131.4 558.5 131.4 558.6 124.5 559.0 92.5 559.1 88.5 559.7 88.5 559.8 92.5 560.3 132.5 560.4 125.3 561.3 125.3 561.4 117.3 562.3 117.3 562.4 130.3 562.5 123.9 562.6 119.9 563.2 119.9 563.3 123.9 563.4 121.2 564.3 121.2 564.4 129.5 565.3 129.5 565.4 123.9 566.3 123.9 566.4 129.4 566.7 129.4 566.8 129.1 567.2 97.1 567.3 93.1 567.9 93.1 568.0 97.1 568.3 121.1 568.4 126.0 569.3 126.0 569.4 127.0 569.5 127.0 569.6 124.4 569.8 108.4 569.9 104.4 570.5 104.4 570.6 108.4 570.8 124.4 570.9 129.3 571.3 129.3 571.4 120.3 572.1 120.3 572.2 118.3 572.4 102.3 572.5 98.3 573.1 98.3 573.2 102.3 573.4 118.3 573.5 122.1 574.3 122.1 574.4 122.4 575.1 122.4 575.2 120.8 575.5 96.8 575.6 92.8 576.2 92.8 576.3 96.8 576.5 112.8 576.6 117.4 577.0 117.4 577.1 137.2 578.8 137.2 578.9 132.2 579.3 132.2 579.4 130.9 580.2 130.9 580.3 126.1 580.5 110.1 580.6 106.1 581.2 106.1 581.3 110.1 581.4 118.1 581.5 118.9 582.3 118.9 582.4 122.7 583.3 122.7 583.4 124.0 583.6 108.0 583.7 104.0 584.3 104.0 584.4 108.0 584.6 124.0 584.7 126.2 585.3 126.2 585.4 135.4 586.3 135.4 586.4 129.8 587.3 129.8 587.4 129.0 588.3 129.0 588.4 132.1 588.5 127.3 589.1 79.3 589.2 75.3 589.8 75.3 589.9 79.3 590.4 119.3 590.5 123.2 591.3 123.2 591.4 121.4 591.7 121.4 591.8 119.8 591.9 111.8 592.0 107.8 592.6 107.8 592.7 111.8 592.8 119.8 592.9 125.2 593.3 125.2 593.4 126.3 594.3 126.3 594.4 119.0 594.6 119.0 594.7 117.7 594.8 109.7 594.9 105.7 595.5 105.7 595.6 109.7 595.7 117.7 595.8 125.3 596.3 125.3 596.4 129.4 596.9 129.4 597.0 124.0 597.4 92.0 597.5 88.0 598.1 88.0 598.2 92.0 598.5 116.0 598.6 118.9 599.3 118.9 599.4 119.6 600.3 119.6 600.4 121.9 601.0 121.9 601.1 114.3 601.2 106.3 601.3 102.3 601.9 102.3 602.0 106.3 602.3 130.3 602.4 116.5 603.3 116.5 603.4 119.9 604.3 119.9 604.4 119.5 605.0 119.5 605.1 118.8 605.5 86.8 605.6 82.8 606.2 82.8 606.3 86.8 606.6 110.8 606.7 116.3 607.3 116.3 607.4 125.6 608.3 125.6 608.4 119.4 609.1 119.4 609.2 118.7 609.3 114.7 609.9 114.7 610.0 118.7 610.1 121.7 610.3 121.7 610.4 132.6 611.3 132.6 611.4 119.9 612.3 119.9 612.4 129.0 613.3 129.0 613.8 89.0 613.9 85.0 614.5 85.0 614.6 89.0 615.0 121.0 615.1 124.8 615.3 124.8 615.4 133.2 616.3 133.2 616.4 119.4 617.3 119.4 617.4 135.4 618.3 135.4 618.4 133.6 619.0 85.6 619.1 81.6 619.7 81.6 619.8 85.6 620.3 125.6 620.4 117.0 621.3 117.0 621.4 125.0 621.9 85.0 622.0 81.0 622.6 81.0 622.7 85.0 623.2 125.0 623.4 132.2 624.3 132.2 624.4 120.5 624.5 132.0 625.3 132.0 625.4 136.0 626.3 136.0 626.4 134.6 627.2 134.6 627.3 127.2 627.4 118.4 627.5 111.2 627.6 103.2 627.7 99.2 628.3 99.2 628.4 103.2 628.6 119.2 628.7 122.6 629.3 122.6 629.4 116.7 630.2 116.7 630.3 110.8 630.6 86.8 630.7 82.8 631.3 82.8 631.4 86.8 632.0 134.8 632.1 135.2 632.3 135.2 632.4 136.8 633.1 136.8 633.2 135.4 633.7 95.4 633.8 91.4 634.4 91.4 634.5 95.4 634.9 127.4 635.0 130.0 635.3 130.0 635.4 129.7 635.9 89.7 636.0 85.7 636.6 85.7 636.7 89.7 637.1 121.7 637.2 128.0 637.3 128.0 637.4 136.0 638.3 136.0 638.4 128.8 638.6 128.8 638.7 127.8 638.9 111.8 639.0 107.8 639.6 107.8 639.7 111.8 639.8 119.8 639.9 123.1 640.3 123.1 640.4 126.8 641.3 126.8 641.4 116.4 642.3 116.4 642.4 131.2 643.3 131.2 643.4 130.6 644.2 130.6 644.3 124.1 644.4 116.1 644.5 112.1 645.1 112.1 645.2 116.1 645.4 132.1 645.5 133.9 646.3 133.9 646.4 131.9 647.0 131.9 647.1 126.4 647.2 118.4 647.3 114.4 647.9 114.4 648.0 118.4 648.1 123.1 648.3 123.1 648.4 117.6 649.2 117.6 649.3 114.7 649.9 114.7 650.0 118.7 650.1 118.8 650.3 118.8 650.4 119.9 651.3 119.9 651.4 122.4 652.0 122.4 652.1 119.2 652.3 103.2 652.4 99.2 653.0 99.2 653.1 103.2 653.5 135.2 653.6 135.5 654.3 135.5 654.4 121.8 655.2 121.8 655.3 116.6 655.4 112.6 656.0 112.6 656.1 116.6 656.3 132.6 656.4 130.3 657.3 130.3 657.4 133.9 658.3 133.9 658.4 133.7 659.1 133.7 659.2 124.5 659.3 124.5 659.4 116.1 660.2 116.1 660.3 116.0 660.6 92.0 660.7 88.0 661.3 88.0 661.4 92.0 661.7 116.0 661.8 121.2 662.3 121.2 662.4 119.0 663.3 119.0 663.4 132.5 663.9 92.5 664.0 88.5 664.6 88.5 664.7 92.5 665.1 124.5 665.2 130.4 665.3 130.4 665.4 120.5 666.3 120.5 666.4 121.6 667.3 121.6 667.4 135.7 668.3 135.7 668.4 121.6 669.3 121.6 669.4 130.8 669.5 130.8 L669.5 165.8 669.4 165.8 669.3 152.0 669.0 152.0 668.9 152.1 668.7 168.1 668.6 172.1 668.0 172.1 667.9 168.1 667.7 152.1 667.6 148.0 667.5 148.0 667.4 149.7 667.3 159.9 667.2 161.7 666.6 161.7 666.5 159.9 666.4 159.9 666.3 160.8 665.4 160.8 665.3 162.5 664.4 162.5 664.3 157.6 664.0 157.6 663.9 164.4 663.8 172.4 663.7 176.4 663.1 176.4 663.0 172.4 662.7 148.4 662.6 148.1 662.4 148.1 662.3 157.5 662.2 157.5 662.1 159.5 662.0 163.5 661.4 163.5 661.3 159.5 661.2 151.5 661.1 148.9 660.4 148.9 660.3 147.9 660.0 147.9 659.9 154.2 659.5 186.2 659.4 190.2 658.8 190.2 658.7 186.2 658.5 170.2 658.4 162.4 658.3 161.1 657.4 161.1 657.3 159.6 657.0 159.6 656.9 165.5 656.8 169.5 656.2 169.5 656.1 165.7 655.4 165.7 655.3 147.2 655.2 147.2 655.1 152.5 654.7 184.5 654.6 188.5 654.0 188.5 653.9 184.5 653.5 152.5 653.4 150.9 653.3 166.2 652.4 166.2 652.3 149.7 652.2 149.7 652.1 156.9 652.0 160.9 651.4 160.9 651.3 156.9 651.2 153.9 650.5 153.9 650.4 149.6 648.7 149.6 648.6 166.2 648.4 166.2 648.3 168.0 647.4 168.0 647.3 153.0 647.2 155.3 646.9 179.3 646.8 183.3 646.2 183.3 646.1 179.3 646.0 171.3 645.9 166.9 645.4 166.9 645.3 158.0 644.4 158.0 644.3 158.8 644.2 163.3 644.0 179.3 643.9 183.3 643.3 183.3 643.2 179.3 643.1 171.3 643.0 167.9 642.4 167.9 642.3 155.1 641.6 155.1 641.5 159.2 641.4 167.2 641.3 171.2 640.7 171.2 640.6 167.2 640.4 151.2 640.3 162.3 639.4 162.3 639.3 149.1 639.2 149.1 639.1 155.3 638.8 179.3 638.7 183.3 638.1 183.3 638.0 179.3 637.7 155.3 637.6 154.5 637.4 154.5 637.3 164.7 636.4 164.7 636.3 165.1 635.9 165.1 635.8 151.4 634.1 151.4 634.0 167.3 633.4 167.3 633.3 166.3 632.9 166.3 632.8 168.1 632.7 172.1 632.1 172.1 632.0 168.1 631.9 161.8 631.4 161.8 631.3 148.3 630.6 148.3 630.5 149.3 630.2 173.3 630.1 177.3 629.5 177.3 629.4 173.3 629.3 167.2 628.4 167.2 628.3 155.1 627.6 155.1 627.5 161.4 627.2 185.4 627.1 189.4 626.5 189.4 626.4 185.4 626.0 153.4 625.9 152.4 625.4 152.4 625.3 166.7 624.9 166.7 624.8 172.6 624.5 196.6 624.4 200.6 623.8 200.6 623.7 196.6 623.4 172.6 623.3 165.9 622.4 165.9 622.3 153.2 621.6 153.2 621.5 156.2 621.2 180.2 621.1 184.2 620.5 184.2 620.4 180.2 620.1 156.2 620.0 148.8 619.4 148.8 619.3 151.3 619.1 151.3 619.0 144.5 617.3 144.5 617.2 166.5 616.4 166.5 616.3 167.9 616.0 191.9 615.9 195.9 615.3 195.9 615.2 191.9 614.8 159.9 614.7 158.7 614.4 158.7 614.3 152.5 613.4 152.5 613.3 155.4 612.9 155.4 612.8 163.3 612.6 179.3 612.5 183.3 611.9 183.3 611.8 179.3 611.7 171.3 611.6 166.2 611.4 166.2 611.3 157.7 610.4 157.7 610.3 154.3 610.2 158.3 609.6 158.3 609.5 154.3 609.4 148.8 609.3 167.8 608.6 167.8 608.5 167.9 608.2 191.9 608.1 195.9 607.5 195.9 607.4 191.9 607.0 159.9 606.9 157.0 606.4 157.0 606.3 150.4 605.4 150.4 605.3 151.4 604.2 151.4 604.1 166.2 603.4 166.2 603.3 172.0 603.1 188.0 603.0 192.0 602.4 192.0 602.3 188.0 601.9 156.0 601.8 155.6 601.4 155.6 601.3 152.2 600.4 152.2 600.3 157.5 600.2 160.5 599.9 184.5 599.8 188.5 599.2 188.5 599.1 184.5 598.7 152.5 598.6 149.6 598.4 149.6 598.3 157.1 597.5 157.1 597.4 159.5 597.3 165.6 596.4 165.6 596.3 149.7 595.4 149.7 595.3 153.4 594.5 153.4 594.4 155.5 594.3 165.4 594.2 171.5 594.1 175.5 593.5 175.5 593.4 171.5 593.3 167.3 592.4 167.3 592.3 148.4 591.8 148.4 591.7 152.5 591.3 184.5 591.2 188.5 590.6 188.5 590.5 184.5 590.1 152.5 590.0 148.8 589.4 148.8 589.3 157.7 588.7 157.7 588.6 161.7 588.0 161.7 587.9 159.8 587.4 159.8 587.3 164.8 586.8 164.8 586.7 170.2 586.5 186.2 586.4 190.2 585.8 190.2 585.7 186.2 585.4 162.2 585.3 164.4 584.5 164.4 584.4 168.1 584.3 172.1 583.7 172.1 583.6 168.1 583.5 160.1 583.4 157.0 582.7 213.0 582.6 217.0 582.0 217.0 581.9 213.0 581.3 165.0 581.2 157.2 580.8 157.2 580.7 160.1 580.6 168.1 580.5 172.1 579.9 172.1 579.7 164.1 579.4 164.1 579.3 156.9 578.8 156.9 578.7 162.2 578.4 186.2 578.3 190.2 577.7 190.2 577.6 186.2 577.4 170.2 577.3 165.6 576.4 165.6 576.3 159.9 576.2 159.9 576.1 162.9 576.0 166.9 575.4 166.9 575.3 162.9 575.2 155.6 574.7 155.6 574.6 162.5 574.4 178.5 574.3 182.5 573.7 182.5 573.6 178.5 573.4 162.5 573.3 167.0 572.5 167.0 572.4 145.3 570.7 145.3 570.6 159.2 570.4 159.2 570.3 155.1 570.1 155.1 570.0 159.3 569.7 183.3 569.6 187.3 569.0 187.3 568.9 183.3 568.6 159.3 568.5 156.2 568.4 156.2 568.3 148.1 567.7 148.1 567.6 151.5 567.5 159.5 567.4 163.5 566.8 163.5 566.7 159.6 566.4 159.6 566.3 167.2 566.2 171.2 565.6 171.2 565.5 167.2 565.4 165.5 565.3 156.7 564.4 156.7 564.3 148.8 563.9 148.8 563.8 155.5 563.6 171.5 563.5 175.5 562.9 175.5 562.8 171.5 562.6 155.5 562.5 153.1 562.4 153.1 562.3 160.8 561.8 160.8 561.7 166.1 561.2 206.1 561.1 210.1 560.5 210.1 560.4 206.1 559.8 158.1 559.7 157.8 559.4 157.8 559.3 158.5 558.5 158.5 558.4 158.8 558.1 182.8 558.0 186.8 557.4 186.8 557.3 182.8 557.0 158.8 556.9 154.6 556.4 154.6 556.3 151.1 555.6 151.1 555.4 159.1 554.8 159.1 554.7 155.1 554.6 147.3 554.4 147.3 554.3 166.6 553.4 166.6 553.3 160.2 553.2 164.8 552.9 188.8 552.8 192.8 552.2 192.8 552.1 188.8 551.8 164.8 551.7 159.4 551.4 159.4 551.3 153.8 550.4 153.8 550.3 152.6 550.0 152.6 549.9 160.1 549.8 168.1 549.7 172.1 549.1 172.1 549.0 168.1 548.8 152.1 548.7 151.1 548.4 151.1 548.3 162.0 547.4 162.0 547.3 148.2 547.1 148.2 547.0 151.5 546.9 159.5 546.8 163.5 546.4 163.5 546.3 165.3 545.4 165.3 545.3 163.5 544.5 163.5 544.4 171.3 544.3 179.3 544.2 183.3 543.6 183.3 543.5 179.3 543.3 163.3 543.2 159.2 542.4 159.2 542.3 165.3 541.9 165.3 541.8 166.1 541.7 174.1 541.6 178.1 541.0 178.1 540.9 174.1 540.6 150.1 540.5 149.0 540.4 149.0 540.3 163.2 539.4 163.2 539.3 156.7 539.2 159.2 539.1 167.2 539.0 171.2 538.4 171.2 538.3 167.7 537.9 167.7 537.8 154.8 536.4 154.8 536.3 148.2 535.4 148.2 535.3 165.0 534.4 165.0 534.3 162.6 533.7 162.6 533.6 164.6 533.5 168.6 532.9 168.6 532.8 164.6 532.7 158.5 532.4 158.5 532.3 153.2 531.8 153.2 531.7 160.5 531.4 184.5 531.3 188.5 530.7 188.5 530.6 184.5 530.2 152.5 530.1 150.1 529.7 150.1 529.6 156.0 529.5 160.0 528.9 160.0 528.8 156.4 528.4 156.4 528.3 162.8 527.8 162.8 527.7 167.9 527.4 191.9 527.3 195.9 526.7 195.9 526.6 191.9 526.1 151.9 526.0 148.7 525.4 148.7 525.3 165.8 524.4 165.8 524.3 160.0 524.2 156.0 524.1 153.1 523.4 153.1 523.3 163.3 523.0 163.3 522.9 167.6 522.7 183.6 522.6 187.6 522.0 187.6 521.9 183.6 521.6 159.6 521.5 153.2 521.4 153.2 521.3 160.7 521.2 160.7 521.1 163.5 521.0 171.5 520.9 175.5 520.3 175.5 520.2 171.5 520.1 165.3 519.5 165.3 519.4 172.1 518.9 212.1 518.8 216.1 518.2 216.1 518.1 212.1 517.6 172.1 517.5 167.2 517.4 167.2 517.3 154.8 517.1 154.8 517.0 157.7 516.9 161.7 516.3 161.7 516.2 157.7 516.1 149.7 516.0 147.1 515.4 147.1 515.3 159.0 515.2 159.0 515.1 160.9 514.6 200.9 514.5 204.9 513.9 204.9 513.8 200.9 513.4 168.9 513.3 166.7 512.4 166.7 512.3 164.3 511.4 164.3 511.3 159.6 511.2 159.9 511.0 175.9 510.9 179.9 510.3 179.9 510.2 175.9 510.0 159.9 509.9 153.4 509.4 153.4 509.3 154.7 508.9 154.7 508.8 151.4 508.4 151.4 508.3 150.9 507.4 150.9 507.3 151.4 507.1 151.4 507.0 158.5 506.8 158.5 506.7 161.1 506.3 193.1 506.2 197.1 505.6 197.1 505.5 193.1 505.1 161.1 505.0 157.4 504.4 157.4 504.3 148.6 503.8 148.6 503.7 155.1 503.6 159.1 503.4 159.1 503.3 159.7 502.4 159.7 502.3 167.9 501.9 167.9 501.8 172.6 501.5 196.6 501.4 200.6 500.8 200.6 500.7 196.6 500.4 172.6 500.3 166.9 499.4 166.9 499.3 166.6 498.4 166.6 498.3 155.6 498.2 157.4 497.7 197.4 497.6 201.4 497.0 201.4 496.9 197.4 496.5 165.4 496.4 161.6 496.3 153.6 495.4 153.6 495.3 166.3 495.2 166.3 495.1 173.3 495.0 177.3 494.4 177.3 494.3 173.3 494.1 157.3 494.0 153.0 493.4 153.0 493.3 156.8 492.8 156.8 492.7 163.3 492.5 179.3 492.4 183.3 491.8 183.3 491.7 179.3 491.5 163.3 491.4 156.8 491.3 165.3 490.4 165.3 490.3 160.0 490.1 160.0 490.0 157.8 489.4 157.8 489.3 162.1 488.9 162.1 488.8 169.6 488.7 177.6 488.6 181.6 488.0 181.6 487.9 177.6 487.7 161.6 487.6 160.4 487.4 160.4 487.3 162.2 487.0 186.2 486.9 190.2 486.3 190.2 486.2 186.2 486.0 170.2 485.9 163.4 485.4 163.4 485.3 159.2 485.2 167.2 485.1 171.2 484.5 171.2 484.4 167.2 484.3 159.2 484.2 155.9 483.9 155.9 483.8 156.2 483.5 180.2 483.4 184.2 482.8 184.2 482.7 180.2 482.5 164.2 482.4 162.1 482.3 167.8 481.4 167.8 481.3 152.4 480.7 152.4 480.6 153.0 480.4 169.0 480.3 173.0 479.7 173.0 479.6 169.0 479.5 162.4 479.4 162.4 479.3 163.1 478.4 163.1 478.3 158.8 478.1 158.8 478.0 159.0 477.8 175.0 477.7 179.0 477.1 179.0 477.0 175.0 476.7 151.0 476.6 149.4 476.4 149.4 476.3 157.7 475.4 157.7 475.3 155.2 475.2 155.2 475.1 158.3 474.5 158.3 474.4 155.2 474.3 165.1 473.6 165.1 473.5 153.1 471.8 153.1 471.7 160.2 471.4 160.2 471.3 158.4 470.6 158.4 470.5 164.4 470.4 172.4 470.3 176.4 469.7 176.4 469.6 172.4 469.4 156.4 469.3 158.8 468.4 158.8 468.3 163.9 467.4 163.9 467.3 164.0 466.7 164.0 466.6 165.5 466.5 169.5 465.9 169.5 465.8 165.5 465.6 149.5 465.5 149.3 465.4 149.3 465.3 153.7 464.4 153.7 464.3 159.4 464.0 159.4 463.9 161.7 463.3 161.7 463.2 157.7 463.1 156.9 462.5 156.9 462.4 163.5 462.3 171.5 462.2 175.5 461.6 175.5 461.5 171.5 461.3 155.5 461.2 151.5 460.9 151.5 460.8 154.9 460.7 162.9 460.6 166.9 460.0 166.9 459.9 162.9 459.8 154.9 459.7 150.4 459.4 150.4 459.3 147.3 458.6 147.3 458.5 151.5 458.4 159.5 458.3 167.1 457.4 167.1 457.3 153.3 456.7 153.3 456.6 158.2 456.2 190.2 456.1 194.2 455.5 194.2 455.4 190.2 455.2 174.2 455.1 167.8 454.4 167.8 454.3 149.9 453.6 149.9 453.5 155.5 453.3 171.5 453.2 175.5 452.6 175.5 452.5 171.5 452.4 163.5 452.3 161.1 451.5 161.1 451.4 164.6 451.0 196.6 450.9 200.6 450.3 200.6 450.2 196.6 449.8 164.6 449.7 157.6 449.4 157.6 449.3 155.3 449.1 155.3 449.0 160.1 448.9 168.1 448.8 172.1 448.2 172.1 448.1 168.1 448.0 165.8 447.4 165.8 447.3 167.0 447.2 175.0 447.1 179.0 446.5 179.0 446.4 175.0 446.3 167.0 446.2 162.1 445.4 162.1 445.3 152.2 444.8 152.2 444.7 153.2 444.6 161.2 444.5 165.2 444.4 165.2 444.3 166.0 443.4 166.0 443.3 156.7 442.4 156.7 442.3 155.4 442.2 155.4 442.1 144.5 440.4 144.5 440.3 161.0 439.6 161.0 439.5 163.5 439.4 171.5 439.3 175.5 438.7 175.5 438.6 171.5 438.4 155.5 438.3 156.0 437.4 156.0 437.3 155.9 437.1 155.9 437.0 160.7 436.8 176.7 436.7 180.7 436.1 180.7 436.0 176.7 435.8 160.7 435.7 159.2 435.4 159.2 435.3 151.0 435.1 151.0 435.0 158.5 434.6 190.5 434.5 194.5 433.9 194.5 433.8 190.5 433.4 158.5 433.3 152.5 432.9 152.5 432.8 156.6 432.7 164.6 432.6 168.6 432.0 168.6 431.9 164.6 431.7 148.6 431.6 147.3 431.4 147.3 431.3 150.0 431.2 150.0 431.1 157.0 430.8 181.0 430.7 185.0 430.1 185.0 430.0 181.0 429.9 173.0 429.8 166.4 429.4 166.4 429.3 163.8 429.2 163.8 429.1 144.5 427.4 144.5 427.3 149.6 426.6 149.6 426.5 156.0 426.4 160.0 425.8 160.0 425.7 156.0 425.6 153.1 425.4 153.1 425.3 157.9 424.4 157.9 424.3 146.2 422.6 146.2 422.5 157.9 422.4 157.9 422.3 160.1 422.0 160.1 421.9 164.8 421.6 188.8 421.5 192.8 420.9 192.8 420.8 188.8 420.6 172.8 420.5 165.4 420.4 165.4 420.3 165.3 420.1 165.3 420.0 154.8 419.4 154.8 419.3 151.3 418.4 151.3 418.3 154.8 418.2 167.4 418.1 167.4 418.0 174.7 417.5 214.7 417.4 218.7 416.8 218.7 416.7 214.7 416.1 166.7 416.0 163.9 415.6 163.9 415.5 169.0 415.3 185.0 415.2 189.0 414.6 189.0 414.5 185.0 414.3 169.0 414.2 167.6 413.4 167.6 413.3 167.2 412.8 167.2 412.7 173.3 412.6 177.3 412.0 177.3 411.9 173.3 411.8 165.3 411.7 161.1 411.4 161.1 411.3 149.0 410.6 149.0 410.5 147.9 408.8 147.9 408.7 152.4 408.4 152.4 408.3 148.5 407.7 148.5 407.6 153.2 407.5 161.2 407.4 165.2 406.8 165.2 406.7 161.2 406.6 154.4 406.4 154.4 406.3 155.0 405.4 155.0 405.3 158.4 404.7 158.4 404.6 159.9 404.4 175.9 404.3 179.9 403.7 179.9 403.6 175.9 403.5 167.9 403.4 164.0 403.3 151.9 403.2 148.1 403.0 148.1 402.9 148.6 402.7 164.6 402.6 168.6 402.0 168.6 401.9 166.4 401.4 166.4 401.3 164.6 400.9 196.6 400.8 200.6 400.2 200.6 400.1 196.6 399.6 156.6 399.5 154.0 399.4 154.0 399.3 154.8 398.4 154.8 398.3 153.0 397.7 153.0 397.6 154.8 397.5 168.1 397.4 172.1 396.8 172.1 396.7 168.1 396.6 163.9 396.4 163.9 396.3 153.1 395.4 153.1 395.3 165.1 395.2 165.1 395.1 169.0 395.0 173.0 394.4 173.0 394.3 169.0 394.2 161.0 394.1 156.8 393.4 156.8 393.3 157.4 392.4 157.4 392.3 167.2 392.0 167.2 391.9 170.7 391.8 174.7 391.2 174.7 391.1 170.7 391.0 166.0 390.4 166.0 390.3 150.6 389.4 150.6 389.3 160.8 388.7 160.8 388.6 161.8 388.5 169.8 388.4 173.8 387.8 173.8 387.7 169.8 387.5 153.8 387.4 153.2 387.3 157.6 386.5 157.6 386.4 158.6 386.3 162.6 385.7 162.6 385.6 158.6 385.5 155.0 385.4 155.0 385.3 158.3 384.4 158.3 384.3 161.5 384.2 169.5 384.1 173.5 383.5 173.5 383.4 169.5 383.2 153.5 383.1 152.3 382.4 152.3 382.3 148.2 381.7 148.2 381.6 154.3 381.5 158.3 381.4 158.3 381.3 160.9 380.4 160.9 380.3 156.0 379.7 156.0 379.6 161.0 379.5 169.0 379.4 173.0 378.8 173.0 378.7 169.0 378.5 153.0 378.4 148.2 378.3 158.3 378.2 154.8 376.5 154.8 376.4 167.5 376.3 156.9 375.6 156.9 375.5 162.9 375.4 166.9 374.8 166.9 374.7 162.9 374.6 154.9 374.5 151.1 374.4 151.1 374.3 161.7 373.8 161.7 373.7 149.6 373.4 149.6 373.3 147.3 372.4 147.3 372.3 149.6 372.0 149.6 371.9 164.2 371.7 164.2 371.6 167.5 371.2 199.5 371.1 203.5 370.5 203.5 370.4 199.5 369.9 159.5 369.8 159.1 369.4 159.1 369.3 162.3 368.7 162.3 368.6 164.6 368.5 168.6 367.9 168.6 367.8 164.6 367.7 160.1 367.4 160.1 367.3 164.5 366.4 164.5 366.3 160.0 366.2 160.0 366.1 156.0 366.0 155.6 365.4 155.6 365.3 150.2 365.2 150.2 365.1 147.9 363.4 147.9 363.3 167.2 362.9 199.2 362.8 203.2 362.2 203.2 362.1 199.2 361.7 167.2 361.6 167.0 361.4 167.0 361.3 151.4 359.6 151.4 359.5 173.3 359.4 177.3 358.8 177.3 358.7 173.3 358.6 165.3 358.5 157.7 358.4 160.1 358.3 168.1 358.2 172.1 357.6 172.1 357.5 168.1 357.4 160.1 357.3 159.2 356.4 159.2 356.3 167.8 356.2 168.1 356.1 172.1 355.5 172.1 355.4 168.1 355.2 152.1 355.1 148.0 354.4 148.0 354.3 149.0 353.6 149.0 353.5 154.5 353.2 178.5 353.1 182.5 352.5 182.5 352.4 178.5 352.3 170.5 352.2 166.7 351.5 166.7 351.4 155.7 351.3 152.9 350.4 152.9 350.3 153.7 349.4 153.7 349.3 165.8 348.4 165.8 348.3 165.2 348.2 165.2 348.1 171.3 348.0 179.3 347.9 183.3 347.3 183.3 347.2 179.3 347.0 163.3 346.9 157.6 346.4 157.6 346.3 162.0 345.9 162.0 345.8 167.0 345.3 207.0 345.2 211.0 344.6 211.0 344.5 207.0 343.9 159.0 343.8 156.3 343.4 156.3 343.3 147.2 342.6 147.2 342.5 149.5 342.3 165.5 342.2 169.5 341.6 169.5 341.5 165.5 341.4 157.6 341.3 153.5 341.1 153.5 341.0 151.4 339.3 151.4 339.2 165.2 338.4 165.2 338.3 152.1 338.2 156.4 338.0 172.4 337.9 176.4 337.3 176.4 337.2 172.4 337.1 167.5 336.8 167.5 336.7 147.9 335.4 147.9 335.3 147.7 334.4 147.7 334.3 150.7 334.2 152.3 334.1 160.3 334.0 164.3 333.4 164.3 333.3 160.3 333.2 156.5 332.4 156.5 332.3 163.5 331.4 163.5 331.3 164.1 330.4 164.1 330.3 161.6 329.4 161.6 329.3 150.8 328.9 182.8 328.8 186.8 328.2 186.8 328.1 182.8 327.7 150.8 327.6 148.4 327.4 148.4 327.3 165.7 326.4 165.7 326.3 156.5 326.1 156.5 326.0 152.5 325.9 147.3 325.4 147.3 325.3 157.9 324.6 157.9 324.5 164.0 324.2 188.0 324.1 192.0 323.5 192.0 323.4 188.0 323.2 172.0 323.1 164.2 322.4 164.2 322.3 167.0 321.6 167.0 321.5 173.7 321.3 189.7 321.2 193.7 320.6 193.7 320.5 189.7 320.1 157.7 320.0 152.5 319.5 152.5 319.4 146.2 317.7 146.2 317.6 160.0 317.5 160.0 317.4 151.4 315.7 151.4 315.6 161.2 315.4 161.2 315.3 163.7 314.9 163.7 314.8 165.3 314.7 173.3 314.6 177.3 314.0 177.3 313.9 173.3 313.6 149.3 313.5 148.8 313.4 148.8 313.3 154.0 313.2 159.6 312.5 215.6 312.4 219.6 311.8 219.6 311.7 215.6 311.1 167.6 311.0 166.0 310.4 166.0 310.3 150.3 309.8 150.3 309.7 152.1 309.5 168.1 309.4 172.1 308.8 172.1 308.7 168.1 308.5 152.1 308.4 149.1 308.3 160.3 307.7 160.3 307.6 164.0 307.3 188.0 307.2 192.0 306.6 192.0 306.5 188.0 306.0 148.0 305.9 147.5 305.5 147.5 305.4 153.8 305.2 169.8 305.1 173.8 304.5 173.8 304.4 169.8 304.3 167.8 303.8 207.8 303.7 211.8 303.1 211.8 303.0 207.8 302.3 151.8 302.2 149.0 301.4 149.0 301.3 153.1 300.1 153.1 300.0 165.9 299.4 165.9 299.3 167.2 298.4 167.2 298.3 172.4 298.2 176.4 297.6 176.4 297.5 172.4 297.2 148.4 297.1 147.2 296.4 147.2 296.3 161.9 295.9 161.9 295.8 167.2 295.4 199.2 295.3 203.2 294.7 203.2 294.6 199.2 294.1 159.2 294.0 156.1 293.4 156.1 293.3 166.5 293.2 146.2 291.5 146.2 291.4 147.6 291.3 148.5 290.4 148.5 290.3 154.0 290.2 159.9 290.0 175.9 289.9 179.9 289.3 179.9 289.2 175.9 288.9 151.9 288.8 151.3 288.4 151.3 288.3 148.6 287.5 148.6 287.4 151.9 287.1 175.9 287.0 179.9 286.4 179.9 286.3 175.9 286.0 151.9 285.9 147.7 285.4 147.7 285.3 147.1 284.7 147.1 284.6 150.6 284.5 158.6 284.4 162.6 283.8 162.6 283.7 158.6 283.6 153.9 283.4 153.9 283.3 154.1 282.8 154.1 282.7 161.4 282.4 185.4 282.3 189.4 281.7 189.4 281.6 185.4 281.3 161.4 281.2 159.6 280.4 159.6 280.3 157.9 280.2 157.9 280.1 151.4 279.4 151.4 279.3 147.9 278.4 147.9 278.3 167.0 277.7 167.0 277.6 169.8 277.5 173.8 276.9 173.8 276.8 169.8 276.7 167.8 276.4 167.8 276.3 144.5 274.6 144.5 274.5 153.0 274.4 153.0 274.3 167.8 273.8 167.8 273.7 169.5 273.1 169.5 273.0 165.5 272.9 157.5 272.8 151.2 272.4 151.2 272.3 152.3 271.7 152.3 271.6 160.1 271.5 168.1 271.4 172.1 270.8 172.1 270.7 168.1 270.5 152.1 270.4 151.2 270.3 167.4 269.4 167.4 269.3 148.7 269.1 148.7 269.0 155.1 268.6 187.1 268.5 191.1 267.9 191.1 267.8 187.1 267.5 163.1 267.4 161.8 267.3 150.2 266.7 150.2 266.6 153.8 266.4 169.8 266.3 173.8 265.7 173.8 265.6 169.8 265.5 161.8 265.4 159.4 265.3 159.8 264.4 159.8 264.3 154.3 264.2 154.3 264.1 159.3 263.8 183.3 263.7 187.3 263.1 187.3 263.0 183.3 262.7 159.3 262.6 152.3 262.4 152.3 262.3 159.1 262.0 159.1 261.9 160.9 261.3 160.9 261.2 156.9 261.1 155.5 260.8 155.5 260.7 161.6 260.3 193.6 260.2 197.6 259.6 197.6 259.5 193.6 259.1 161.6 259.0 160.4 258.4 160.4 258.3 153.2 257.8 153.2 257.7 157.7 257.6 161.7 257.4 161.7 257.3 162.9 256.4 162.9 256.3 161.6 255.4 161.6 255.3 168.5 255.1 184.5 255.0 188.5 254.4 188.5 254.3 184.5 253.9 152.5 253.8 150.9 253.4 150.9 253.3 160.4 253.1 160.4 253.0 161.2 252.9 165.2 252.3 165.2 252.2 161.2 252.1 153.8 251.6 153.8 251.5 157.3 251.3 173.3 251.2 177.3 250.6 177.3 250.5 173.3 250.4 165.3 250.3 163.0 249.4 163.0 249.3 153.4 248.9 153.4 248.8 156.6 248.7 164.6 248.6 168.6 248.0 168.6 247.9 164.6 247.8 156.6 247.7 152.8 247.4 152.8 247.3 151.9 246.4 151.9 246.3 151.8 246.2 151.8 246.1 153.1 245.8 177.1 245.7 181.1 245.1 181.1 245.0 177.1 244.9 169.1 244.8 163.8 244.4 163.8 244.3 161.1 243.4 161.1 243.3 158.9 243.2 162.5 243.0 178.5 242.9 182.5 242.3 182.5 242.2 178.5 242.1 170.5 242.0 162.8 241.4 162.8 241.3 148.3 241.2 149.3 240.9 173.3 240.8 177.3 240.2 177.3 240.1 173.3 239.9 157.3 239.8 149.9 239.4 149.9 239.3 156.1 238.6 156.1 238.5 159.9 238.3 175.9 238.2 179.9 237.6 179.9 237.5 175.9 237.3 159.9 237.2 156.4 236.4 156.4 236.3 156.9 235.5 156.9 235.4 164.6 235.3 168.6 234.7 168.6 234.6 164.6 234.5 162.9 234.4 162.9 234.3 154.9 233.4 154.9 233.3 155.5 232.4 155.5 232.3 155.7 231.4 155.7 231.3 154.8 230.4 154.8 230.3 166.9 229.8 166.9 229.7 167.2 229.6 171.2 229.0 171.2 228.9 167.2 228.8 166.8 228.4 166.8 228.3 156.5 227.4 156.5 227.3 152.6 227.1 152.6 227.0 153.8 226.8 169.8 226.7 173.8 226.1 173.8 226.0 169.8 225.9 167.8 225.4 167.8 225.3 166.0 224.7 166.0 224.6 165.7 224.4 165.7 224.3 163.4 223.4 163.4 223.3 155.6 223.0 155.6 222.9 161.0 222.8 169.0 222.7 173.0 222.1 173.0 222.0 169.0 221.9 164.1 221.4 164.1 221.3 150.3 220.5 150.3 220.4 151.2 220.3 167.9 220.2 167.9 220.1 171.2 219.5 171.2 219.4 167.9 219.3 161.3 218.5 161.3 218.4 165.2 217.8 165.2 217.7 162.5 217.4 162.5 217.3 158.8 216.5 158.8 216.4 162.5 216.2 178.5 216.1 182.5 215.5 182.5 215.4 178.5 215.2 162.5 215.1 158.9 214.4 158.9 214.3 148.4 213.8 148.4 213.7 151.5 213.6 159.5 213.5 163.5 212.9 163.5 212.8 159.8 212.4 159.8 212.3 166.3 211.4 166.3 211.3 162.7 211.2 170.7 211.1 174.7 210.5 174.7 210.3 166.7 209.4 166.7 209.3 154.0 208.4 154.0 208.3 148.9 208.1 148.9 208.0 153.8 207.8 169.8 207.7 173.8 207.1 173.8 207.0 169.8 206.8 153.8 206.7 149.2 206.4 149.2 206.3 166.0 205.4 166.0 205.3 149.7 204.4 149.7 204.3 151.4 203.4 151.4 203.3 167.4 202.4 167.4 202.3 152.1 202.1 168.1 202.0 172.1 201.4 172.1 201.3 168.1 201.2 160.1 201.1 157.0 200.4 157.0 200.3 162.0 199.6 162.0 199.5 165.5 199.4 169.5 198.8 169.5 198.7 165.5 198.6 157.5 198.5 150.1 198.4 150.1 198.3 166.6 197.4 166.6 197.3 159.7 197.0 159.7 196.9 166.4 196.8 170.4 196.2 170.4 196.1 166.4 196.0 158.4 195.9 156.2 195.4 156.2 195.3 149.9 194.9 149.9 194.8 150.5 194.3 190.5 194.2 194.5 193.6 194.5 193.5 190.5 193.2 166.5 193.1 162.5 192.4 162.5 192.3 160.9 191.9 160.9 191.8 156.9 191.7 153.5 191.4 153.5 191.3 166.3 190.8 166.3 190.7 172.8 190.5 188.8 190.4 192.8 189.8 192.8 189.7 188.8 189.5 172.8 189.4 165.6 189.3 156.8 189.2 155.5 188.4 155.5 188.3 162.9 187.9 162.9 187.8 146.2 186.1 146.2 186.0 152.4 185.4 152.4 185.3 162.9 184.8 162.9 184.7 164.3 184.1 164.3 184.0 160.3 183.9 154.0 183.4 154.0 183.3 147.7 182.6 147.7 182.5 149.3 182.2 173.3 182.1 177.3 181.5 177.3 181.4 173.3 181.3 165.3 181.2 159.3 180.5 159.3 180.4 161.0 180.1 185.0 180.0 189.0 179.4 189.0 179.3 185.0 179.0 161.0 178.9 156.8 178.6 156.8 178.5 162.7 178.4 170.7 178.3 174.7 177.7 174.7 177.6 170.7 177.4 154.7 177.3 151.5 177.1 151.5 177.0 157.6 176.7 181.6 176.6 185.6 176.0 185.6 175.9 181.6 175.5 149.6 175.4 148.1 175.3 153.0 174.6 153.0 174.5 153.2 174.4 161.2 174.3 165.2 173.7 165.2 173.6 161.2 173.5 153.2 173.4 149.9 173.3 150.5 172.9 150.5 172.8 157.7 172.4 189.7 172.3 193.7 171.7 193.7 171.6 189.7 171.3 165.7 171.2 160.9 170.4 160.9 170.3 160.0 169.8 160.0 169.7 156.6 169.4 156.6 169.3 150.4 169.2 150.4 169.1 156.4 168.9 172.4 168.8 176.4 168.2 176.4 168.1 172.4 168.0 165.3 167.4 165.3 167.3 147.3 166.4 147.3 166.3 151.4 165.4 151.4 165.3 153.5 164.4 153.5 164.3 164.0 163.8 164.0 163.7 170.5 163.6 178.5 163.5 182.5 162.9 182.5 162.8 178.5 162.5 154.5 162.4 149.4 162.3 162.8 161.5 162.8 161.4 164.0 161.1 188.0 161.0 192.0 160.4 192.0 160.3 188.0 160.1 172.0 160.0 177.1 159.8 193.1 159.7 197.1 159.1 197.1 159.0 193.1 158.5 153.1 158.4 150.0 158.3 156.2 157.7 156.2 157.6 161.8 157.5 169.8 157.4 173.8 156.8 173.8 156.7 169.8 156.6 162.7 156.4 162.7 156.3 158.0 156.2 163.7 155.8 195.7 155.7 199.7 155.1 199.7 155.0 195.7 154.6 163.7 154.5 157.2 154.4 157.2 154.3 150.6 154.2 150.6 154.1 146.2 152.4 146.2 152.3 166.4 152.1 166.4 152.0 169.0 151.9 173.0 151.3 173.0 151.2 169.0 151.1 161.0 151.0 156.9 150.8 156.9 150.7 154.8 150.4 154.8 150.3 151.0 149.4 151.0 149.3 154.0 148.4 154.0 148.3 147.9 147.8 147.9 147.7 152.5 147.3 184.5 147.2 188.5 146.6 188.5 146.5 184.5 146.3 168.5 146.2 164.8 145.4 164.8 145.3 158.3 144.9 158.3 144.8 154.3 144.7 150.6 144.4 150.6 144.3 152.2 143.4 152.2 143.3 149.3 143.0 173.3 142.9 177.3 142.3 177.3 142.2 173.3 142.1 166.4 141.4 166.4 141.3 164.2 141.2 165.2 140.6 165.2 140.5 164.2 140.4 164.2 140.3 149.2 139.4 149.2 139.3 158.7 139.1 158.7 139.0 164.8 138.7 188.8 138.6 192.8 138.0 192.8 137.9 188.8 137.6 164.8 137.5 161.4 137.4 161.4 137.3 158.4 136.6 158.4 136.5 146.2 134.8 146.2 134.7 152.7 134.4 152.7 134.3 155.5 134.0 155.5 133.9 159.2 133.8 167.2 133.7 171.2 133.1 171.2 133.0 167.2 132.8 151.2 132.7 147.0 131.3 147.0 131.2 149.8 130.4 149.8 130.3 164.2 130.2 164.2 130.0 180.2 129.9 184.2 129.3 184.2 129.2 180.2 129.0 164.2 128.9 160.0 128.4 160.0 128.3 150.5 127.9 150.5 127.8 156.0 127.7 160.0 127.1 160.0 127.0 157.3 126.4 157.3 126.3 159.2 125.5 159.2 125.4 165.0 125.2 181.0 125.1 185.0 124.5 185.0 124.4 181.0 124.2 165.0 124.1 158.6 123.4 158.6 123.3 163.9 122.8 163.9 122.7 154.0 121.0 154.0 120.9 162.8 120.4 162.8 120.3 159.0 119.8 159.0 119.7 150.5 118.0 150.5 117.9 160.6 117.4 160.6 117.3 159.2 117.0 159.2 116.9 162.1 116.7 178.1 116.6 182.1 116.0 182.1 115.9 178.1 115.8 170.1 115.7 167.0 115.4 167.0 115.3 158.9 114.4 158.9 114.3 157.3 114.1 173.3 114.0 177.3 113.4 177.3 113.3 173.3 113.1 157.3 113.0 150.2 112.4 150.2 112.3 155.2 111.8 155.2 111.7 160.0 111.4 184.0 111.3 188.0 110.7 188.0 110.6 184.0 110.3 160.0 110.2 153.7 109.4 153.7 109.3 167.3 108.4 167.3 108.3 156.5 108.1 156.5 108.0 161.8 107.9 169.8 107.8 173.8 107.2 173.8 107.1 169.8 107.0 161.8 106.9 156.9 106.4 156.9 106.3 164.1 106.0 164.1 105.9 144.5 104.2 144.5 104.1 148.5 103.7 148.5 103.6 155.3 103.3 179.3 103.2 183.3 102.6 183.3 102.5 179.3 102.2 155.3 102.1 154.7 101.4 154.7 101.3 158.0 100.4 158.0 100.3 147.1 100.2 147.1 100.1 153.6 99.8 177.6 99.7 181.6 99.1 181.6 99.0 177.6 98.9 169.6 98.8 165.2 97.4 165.2 97.3 160.1 97.2 168.1 97.1 172.1 96.5 172.1 96.4 168.1 96.2 152.1 96.1 148.4 95.6 148.4 95.5 156.0 95.1 188.0 95.0 192.0 94.4 192.0 94.3 188.0 94.0 164.0 93.9 157.0 93.4 157.0 93.3 165.6 92.4 165.6 92.3 149.6 92.2 149.6 92.1 154.9 92.0 162.9 91.9 166.9 91.3 166.9 91.2 162.9 91.1 154.9 91.0 148.6 90.4 148.6 90.3 157.6 89.4 157.6 89.3 159.0 88.4 159.0 88.3 152.7 87.4 152.7 87.3 166.4 86.4 166.4 86.3 163.5 86.2 163.5 86.1 162.5 85.4 162.5 85.3 151.5 84.4 151.5 84.3 156.8 83.9 156.8 83.8 161.0 83.7 169.0 83.6 173.0 83.0 173.0 82.9 169.0 82.7 153.0 82.6 148.3 82.4 148.3 82.3 150.6 81.4 150.6 81.3 152.7 81.2 152.7 81.1 158.8 80.8 182.8 80.7 186.8 80.1 186.8 80.0 182.8 79.7 158.8 79.6 151.6 79.4 151.6 79.3 148.6 78.4 148.6 78.3 153.4 78.2 153.4 78.1 158.1 77.9 174.1 77.8 178.1 77.2 178.1 77.1 174.1 76.9 158.1 76.8 153.0 76.4 153.0 76.3 156.4 75.4 156.4 75.3 165.1 74.4 165.1 74.3 162.6 74.1 162.6 74.0 158.6 73.9 156.9 73.4 156.9 73.3 152.9 72.4 152.9 72.3 162.3 71.4 162.3 71.3 151.3 70.4 151.3 70.3 162.0 69.8 162.0 69.7 163.2 69.6 171.2 69.5 175.2 68.9 175.2 68.7 167.2 68.4 167.2 68.3 147.6 67.4 147.6 67.3 155.1 66.4 155.1 66.3 161.7 66.2 161.8 66.1 169.8 66.0 173.8 65.4 173.8 65.3 169.8 65.2 162.2 64.4 162.2 64.3 154.9 63.7 154.9 63.6 156.6 63.5 164.6 63.4 168.6 62.8 168.6 62.7 164.6 62.6 162.5 62.4 162.5 62.3 160.3 61.6 160.3 61.5 162.1 61.3 178.1 61.2 182.1 60.6 182.1 60.5 178.1 60.2 154.1 60.1 153.2 59.4 153.2 59.3 165.1 58.9 165.1 58.8 154.0 57.1 154.0 57.0 160.2 56.4 160.2 56.3 153.6 56.2 157.5 56.1 165.5 56.0 169.5 55.4 169.5 55.3 165.5 55.2 159.8 54.4 159.8 54.3 163.1 53.4 163.1 53.3 152.8 53.2 157.7 53.1 161.7 52.5 161.7 52.4 157.7 52.3 149.7 52.2 148.8 51.4 148.8 51.3 164.8 50.7 164.8 50.6 168.1 50.5 172.1 49.9 172.1 49.8 168.1 49.7 160.1 49.6 158.6 49.4 158.6 49.3 147.7 48.7 147.7 48.6 154.3 48.0 202.3 47.9 206.3 47.3 206.3 47.2 202.3 46.6 154.3 46.5 149.5 46.4 149.5 46.3 164.1 45.4 164.1Z" fill="#1f77b4" stroke="#1f77b4" stroke-width="1.4" stroke-linejoin="round"/><path d="M547.2 135.4V146.2M224.2 141.3V148.6M300.5 128.4V135.5M668.0 139.3V161.0M317.0 118.2V147.6M571.6 125.0V140.5M467.4 145.5V153.0M215.3 138.2V160.5M468.9 133.3V156.8M603.5 122.1V149.1M486.5 152.6V158.6M318.1 129.1V140.0M547.9 106.5V120.1M480.9 130.7V147.4M192.9 139.8V153.5M361.8 128.8V147.0M55.4 125.6V154.0M572.0 128.2V143.0M294.9 148.6V177.1M195.8 128.1V151.9M472.0 129.2V146.3M445.1 132.0V140.6M441.7 123.4V138.5M167.1 124.3V139.6M283.1 126.4V149.6M631.8 125.2V155.0M549.6 152.9V162.5M573.7 146.6V162.3M344.7 143.3V172.3M296.5 109.7V115.7M439.2 144.2V172.6M250.0 107.5V137.2M558.5 138.8V148.6M92.1 125.2V151.8M133.4 132.3V150.9M352.3 101.3V120.6M584.1 129.0V141.7M82.0 115.6V121.6M259.0 125.0V153.2M345.3 167.5V184.4M580.6 142.9V157.0M294.6 161.6V181.8M358.3 142.1V164.6M50.0 129.5V136.4M179.3 126.1V137.0M181.5 153.0V173.4M263.8 139.0V153.8M469.6 143.9V168.8M280.1 123.1V146.1M559.0 138.5V150.0M360.6 115.1V138.5M243.1 126.2V144.1M73.1 114.4V133.2M564.7 140.8V147.3M351.6 132.3V152.6M372.8 138.7V145.3M429.1 125.6V137.5M464.7 140.9V151.5M510.8 132.8V161.7M322.3 69.0V81.3M56.8 139.4V151.3M148.2 94.4V117.0M87.2 133.8V144.4M358.5 135.8V154.9M217.1 136.6V154.4M171.7 133.7V157.3M166.7 108.4V122.1M628.3 107.7V122.5M46.4 137.5V145.0M306.2 141.1V161.6M600.4 135.1V146.9M619.7 130.3V138.8M292.8 106.5V131.2M435.7 140.9V157.2M519.1 152.5V178.2M287.8 113.6V142.3M593.6 139.2V155.2M271.2 120.5V127.9M189.2 137.3V144.8M321.5 105.4V112.0M129.5 165.7V180.7M116.9 140.3V156.1M58.3 142.9V150.5M472.1 133.1V145.4M201.3 129.1V156.6M90.6 115.1V133.7M298.0 142.6V166.3M164.5 130.1V144.0M286.7 148.7V171.1M255.1 122.5V139.1M274.6 129.3V151.0M393.0 126.6V147.2M546.9 139.8V152.0M598.1 135.2V153.2M132.8 125.9V149.2M341.2 112.9V140.1M366.4 125.0V137.0M554.9 137.9V153.5M54.8 127.3V157.3M468.5 140.4V151.1M164.7 124.9V139.9M90.1 102.0V111.7M568.0 127.4V139.3M50.3 126.0V133.4M626.0 138.0V150.4M625.9 138.3V149.7M409.9 133.2V144.2M274.2 141.5V161.2M221.6 138.4V162.0M417.0 191.7V199.7M461.2 132.5V149.5M209.0 116.7V130.0M89.0 136.0V156.1M204.3 122.3V149.4M198.1 141.8V164.5M604.8 122.4V147.6M409.2 125.3V145.4M477.3 140.0V158.5M505.1 117.4V125.2M660.9 101.2V114.4M91.1 133.6V146.6M70.7 116.0V129.0M142.2 138.6V163.6M616.0 138.0V154.5M263.5 137.3V155.9M501.3 168.8V192.7M338.3 139.6V151.4M596.5 136.3V145.4M457.0 124.9V150.6M59.5 121.3V131.9M389.1 131.2V155.9M369.0 134.9V146.7M408.7 128.8V150.4M124.0 127.7V142.1M328.2 158.5V168.6M558.2 169.7V175.8M102.7 146.4V159.7M310.1 132.7V143.8M568.4 130.4V141.9M369.3 149.0V158.6M576.0 112.9V139.0M535.9 128.2V143.6M112.4 134.3V141.2M166.6 115.3V144.3M405.0 121.5V149.0M53.1 139.6V150.9M140.9 146.1V158.8M280.9 124.4V138.6M377.1 127.4V152.8M571.2 131.3V143.3M384.2 130.5V149.0M400.3 155.8V185.5M336.7 128.3V144.9M50.3 157.8V168.6M453.0 141.7V167.6M72.0 136.4V155.3M101.4 133.9V151.4M85.1 107.5V114.6M470.7 111.0V138.5M571.9 127.5V138.8M521.5 137.1V145.9M585.5 150.4V164.9M329.1 135.0V163.6M558.2 137.4V145.2M137.0 127.9V143.6M196.0 134.9V151.0M405.7 136.1V147.9M487.4 124.1V140.3M154.1 103.5V129.5M228.7 124.6V152.8M169.6 127.9V143.0M428.5 113.8V129.4M60.7 139.9V168.1M325.5 132.2V145.3M553.3 111.8V128.7M264.2 125.7V143.4M110.2 95.2V122.5M499.9 137.2V153.3M467.7 136.1V142.6M332.1 123.6V139.9M53.4 124.2V142.0M254.6 140.4V149.2M465.0 124.6V150.2M47.5 161.6V175.8M553.0 159.8V179.3M475.2 148.2V155.9M393.2 120.8V141.3M608.2 140.1V170.0M350.7 139.6V147.1M446.6 154.7V166.3M386.8 126.8V155.1M109.0 148.7V160.4M66.0 159.4V168.6M550.7 103.7V115.8M70.1 119.1V128.2M411.6 128.0V148.7M564.8 134.8V152.5M458.5 136.3V147.2M302.0 107.7V125.6" stroke="#fff" stroke-opacity="0.45" stroke-width="0.6" fill="none"/></g><defs><clipPath id="c1"><rect x="45.4" y="55.9" width="624.1" height="171.6"/></clipPath></defs><rect x="45.4" y="55.9" width="624.10" height="171.60" fill="none" stroke="#000" stroke-width="0.8"/><rect x="45.4" y="296.9" width="624.10" height="172.40" fill="none" stroke="#000" stroke-width="0.8"/><path d="M45.40 227.5v3.4M123.41 227.5v3.4M201.43 227.5v3.4M279.44 227.5v3.4M357.45 227.5v3.4M435.46 227.5v3.4M513.48 227.5v3.4M591.49 227.5v3.4M669.50 227.5v3.4M45.4 222.21h-3.4M45.4 202.07h-3.4M45.4 181.93h-3.4M45.4 161.79h-3.4M45.4 141.65h-3.4M45.4 121.51h-3.4M45.4 101.37h-3.4M45.4 81.23h-3.4M45.4 61.09h-3.4M47.88 469.3v3.4M125.27 469.3v3.4M202.66 469.3v3.4M280.06 469.3v3.4M357.45 469.3v3.4M434.84 469.3v3.4M512.24 469.3v3.4M589.63 469.3v3.4M667.02 469.3v3.4M45.4 468.63h-3.4M45.4 441.90h-3.4M45.4 415.17h-3.4M45.4 388.45h-3.4M45.4 361.72h-3.4M45.4 334.99h-3.4M45.4 308.26h-3.4" stroke="#000" stroke-width="0.8" fill="none"/><g style="font-family:'Liberation Sans',sans-serif" fill="#262626" stroke="#262626" stroke-width="0.2"><text x="45.40" y="241.50" font-size="10.0" text-anchor="middle" textLength="5.81" lengthAdjust="spacingAndGlyphs" >0</text><text x="123.41" y="241.50" font-size="10.0" text-anchor="middle" textLength="23.23" lengthAdjust="spacingAndGlyphs" >2000</text><text x="201.43" y="241.50" font-size="10.0" text-anchor="middle" textLength="23.23" lengthAdjust="spacingAndGlyphs" >4000</text><text x="279.44" y="241.50" font-size="10.0" text-anchor="middle" textLength="23.23" lengthAdjust="spacingAndGlyphs" >6000</text><text x="357.45" y="241.50" font-size="10.0" text-anchor="middle" textLength="23.23" lengthAdjust="spacingAndGlyphs" >8000</text><text x="435.46" y="241.50" font-size="10.0" text-anchor="middle" textLength="29.04" lengthAdjust="spacingAndGlyphs" >10000</text><text x="513.48" y="241.50" font-size="10.0" text-anchor="middle" textLength="29.04" lengthAdjust="spacingAndGlyphs" >12000</text><text x="591.49" y="241.50" font-size="10.0" text-anchor="middle" textLength="29.04" lengthAdjust="spacingAndGlyphs" >14000</text><text x="669.50" y="241.50" font-size="10.0" text-anchor="middle" textLength="29.04" lengthAdjust="spacingAndGlyphs" >16000</text><text x="38.30" y="226.81" font-size="10.0" text-anchor="end" textLength="22.17" lengthAdjust="spacingAndGlyphs" >−0.4</text><text x="38.30" y="206.67" font-size="10.0" text-anchor="end" textLength="22.17" lengthAdjust="spacingAndGlyphs" >−0.3</text><text x="38.30" y="186.53" font-size="10.0" text-anchor="end" textLength="22.17" lengthAdjust="spacingAndGlyphs" >−0.2</text><text x="38.30" y="166.39" font-size="10.0" text-anchor="end" textLength="22.17" lengthAdjust="spacingAndGlyphs" >−0.1</text><text x="38.30" y="146.25" font-size="10.0" text-anchor="end" textLength="14.52" lengthAdjust="spacingAndGlyphs" >0.0</text><text x="38.30" y="126.11" font-size="10.0" text-anchor="end" textLength="14.52" lengthAdjust="spacingAndGlyphs" >0.1</text><text x="38.30" y="105.97" font-size="10.0" text-anchor="end" textLength="14.52" lengthAdjust="spacingAndGlyphs" >0.2</text><text x="38.30" y="85.83" font-size="10.0" text-anchor="end" textLength="14.52" lengthAdjust="spacingAndGlyphs" >0.3</text><text x="38.30" y="65.69" font-size="10.0" text-anchor="end" textLength="14.52" lengthAdjust="spacingAndGlyphs" >0.4</text><text x="47.88" y="483.20" font-size="10.0" text-anchor="middle" textLength="5.81" lengthAdjust="spacingAndGlyphs" >0</text><text x="125.27" y="483.20" font-size="10.0" text-anchor="middle" textLength="23.23" lengthAdjust="spacingAndGlyphs" >2000</text><text x="202.66" y="483.20" font-size="10.0" text-anchor="middle" textLength="23.23" lengthAdjust="spacingAndGlyphs" >4000</text><text x="280.06" y="483.20" font-size="10.0" text-anchor="middle" textLength="23.23" lengthAdjust="spacingAndGlyphs" >6000</text><text x="357.45" y="483.20" font-size="10.0" text-anchor="middle" textLength="23.23" lengthAdjust="spacingAndGlyphs" >8000</text><text x="434.84" y="483.20" font-size="10.0" text-anchor="middle" textLength="29.04" lengthAdjust="spacingAndGlyphs" >10000</text><text x="512.24" y="483.20" font-size="10.0" text-anchor="middle" textLength="29.04" lengthAdjust="spacingAndGlyphs" >12000</text><text x="589.63" y="483.20" font-size="10.0" text-anchor="middle" textLength="29.04" lengthAdjust="spacingAndGlyphs" >14000</text><text x="667.02" y="483.20" font-size="10.0" text-anchor="middle" textLength="29.04" lengthAdjust="spacingAndGlyphs" >16000</text><text x="38.30" y="472.73" font-size="10.0" text-anchor="end" textLength="5.81" lengthAdjust="spacingAndGlyphs" >0</text><text x="38.30" y="446.00" font-size="10.0" text-anchor="end" textLength="11.62" lengthAdjust="spacingAndGlyphs" >20</text><text x="38.30" y="419.27" font-size="10.0" text-anchor="end" textLength="11.62" lengthAdjust="spacingAndGlyphs" >40</text><text x="38.30" y="392.55" font-size="10.0" text-anchor="end" textLength="11.62" lengthAdjust="spacingAndGlyphs" >60</text><text x="38.30" y="365.82" font-size="10.0" text-anchor="end" textLength="11.62" lengthAdjust="spacingAndGlyphs" >80</text><text x="38.30" y="339.09" font-size="10.0" text-anchor="end" textLength="17.42" lengthAdjust="spacingAndGlyphs" >100</text><text x="38.30" y="312.36" font-size="10.0" text-anchor="end" textLength="17.42" lengthAdjust="spacingAndGlyphs" >120</text><text x="346.60" y="11.30" font-size="12" text-anchor="middle" textLength="102" lengthAdjust="spacingAndGlyphs" >Sınıf: engine_good</text><text x="356.50" y="50.40" font-size="12" text-anchor="middle" textLength="138.5" lengthAdjust="spacingAndGlyphs" >engine_good - Waveform</text><text x="356.60" y="291.60" font-size="12" text-anchor="middle" textLength="153" lengthAdjust="spacingAndGlyphs" >engine_good - Spectrogram</text><text x="357.10" y="255.20" font-size="10" text-anchor="middle" textLength="33.3" lengthAdjust="spacingAndGlyphs" >Sample</text><text x="357.10" y="496.20" font-size="10" text-anchor="middle" textLength="21.6" lengthAdjust="spacingAndGlyphs" >Time</text><text transform="translate(10.3 142.6) rotate(-90)" font-size="10" text-anchor="middle" textLength="45.5" lengthAdjust="spacingAndGlyphs">Amplitude</text><text transform="translate(16.9 385.0) rotate(-90)" font-size="10" text-anchor="middle" textLength="46" lengthAdjust="spacingAndGlyphs">Frequency</text></g></svg>
</body></html>
